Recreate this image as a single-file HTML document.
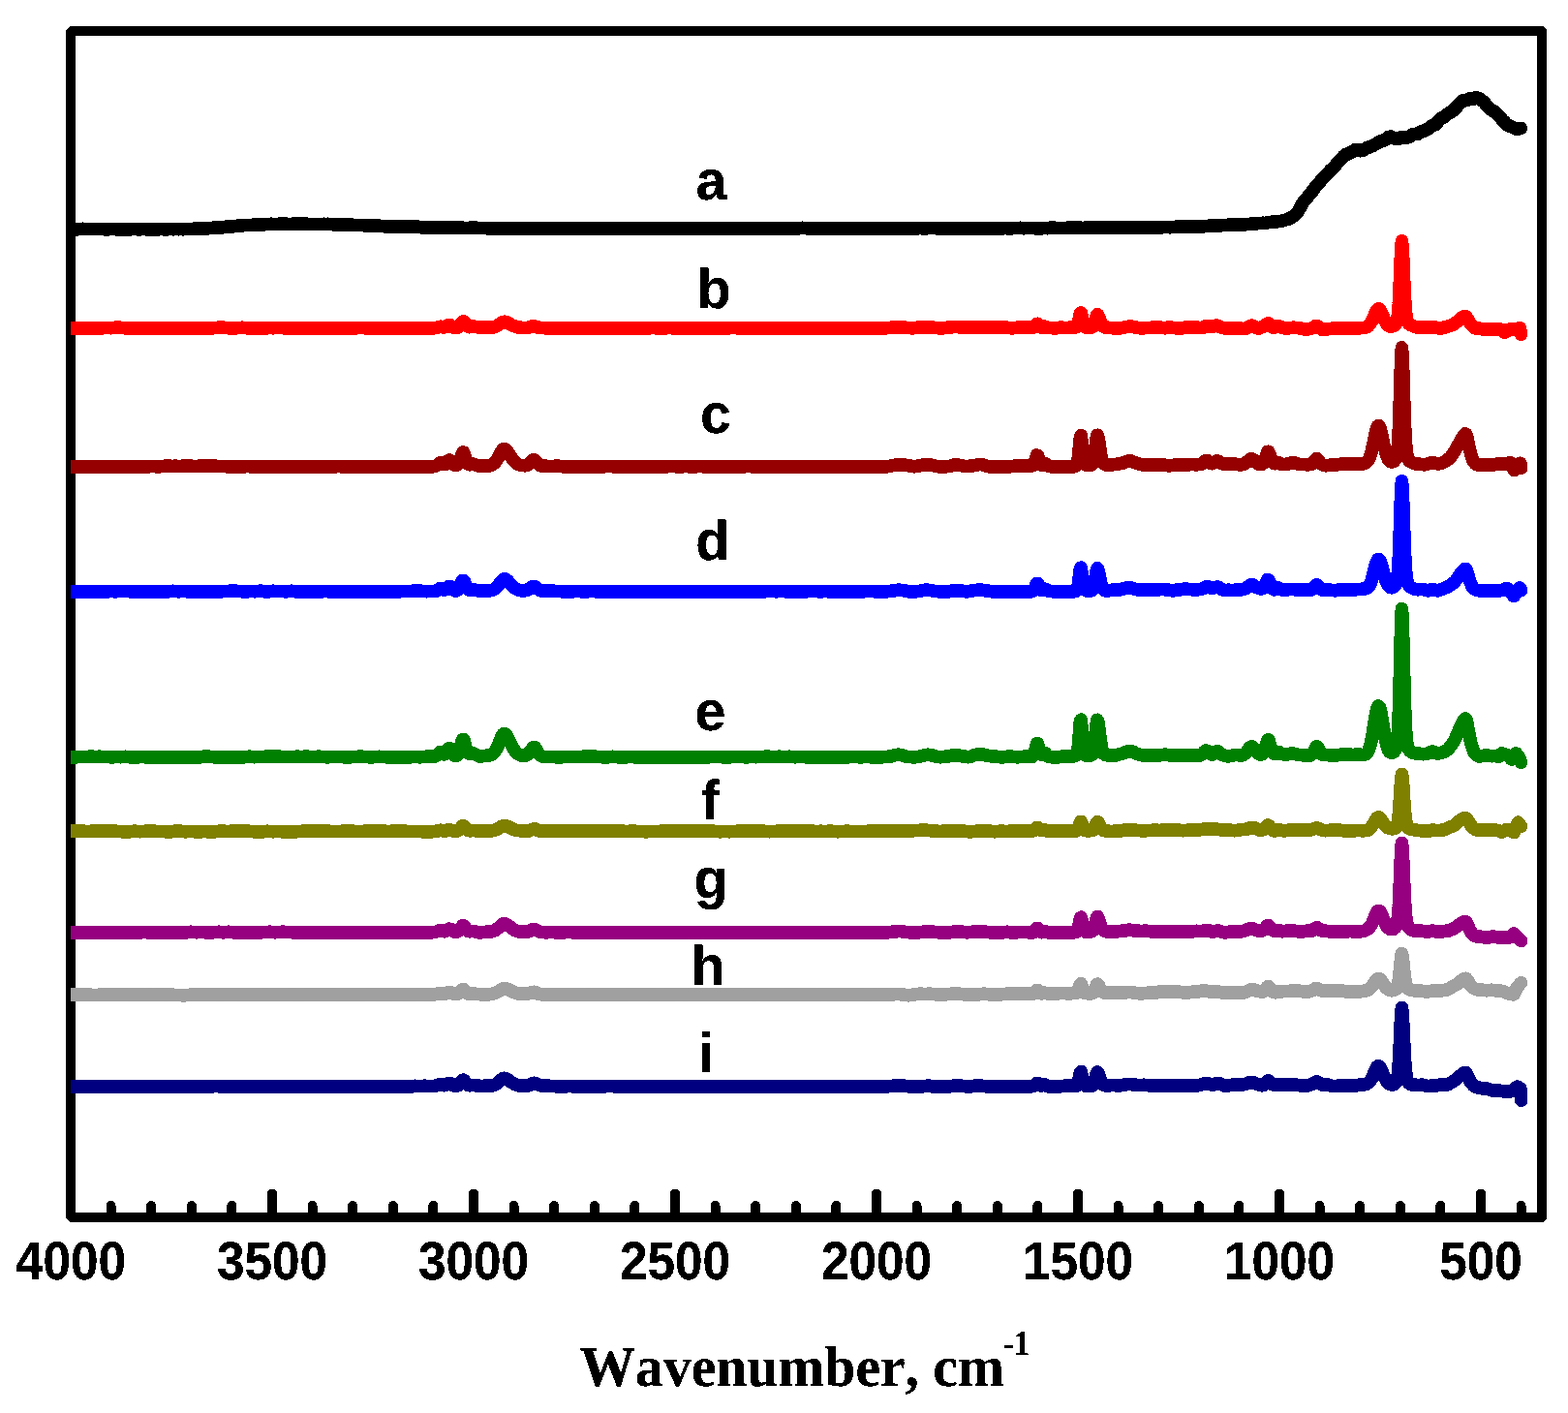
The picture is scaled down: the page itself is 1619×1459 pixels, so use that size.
<!DOCTYPE html>
<html lang="en"><head><meta charset="utf-8"><title>FTIR spectra</title>
<style>html,body{margin:0;padding:0;background:#fff}body{width:1619px;height:1459px;overflow:hidden}svg{display:block}</style>
</head><body>
<svg width="1619" height="1459" viewBox="0 0 1619 1459">
<rect width="1619" height="1459" fill="#fff"/>
<path d="M72 27L1593 27L1597 31L1597 1258L1593 1262L72 1262L68 1258L68 31Z M78 37L78 1252L1587 1252L1587 37Z" fill="#000" fill-rule="evenodd" shape-rendering="crispEdges"/>
<path d="M1570.6 1257V1245.0 M1529.0 1257V1232.5 M1487.4 1257V1245.0 M1445.8 1257V1245.0 M1404.2 1257V1245.0 M1362.6 1257V1245.0 M1321.0 1257V1232.5 M1279.4 1257V1245.0 M1237.8 1257V1245.0 M1196.2 1257V1245.0 M1154.6 1257V1245.0 M1113.0 1257V1232.5 M1071.4 1257V1245.0 M1029.8 1257V1245.0 M988.2 1257V1245.0 M946.6 1257V1245.0 M905.0 1257V1232.5 M863.4 1257V1245.0 M821.8 1257V1245.0 M780.2 1257V1245.0 M738.6 1257V1245.0 M697.0 1257V1232.5 M655.4 1257V1245.0 M613.8 1257V1245.0 M572.2 1257V1245.0 M530.6 1257V1245.0 M489.0 1257V1232.5 M447.4 1257V1245.0 M405.8 1257V1245.0 M364.2 1257V1245.0 M322.6 1257V1245.0 M281.0 1257V1232.5 M239.4 1257V1245.0 M197.8 1257V1245.0 M156.2 1257V1245.0 M114.6 1257V1245.0" stroke="#000" stroke-width="10" stroke-linecap="round" fill="none" shape-rendering="crispEdges"/>
<defs><clipPath id="cp"><rect x="73" y="32" width="1519" height="1225"/></clipPath><filter id="hard" x="-5%" y="-20%" width="110%" height="140%" color-interpolation-filters="sRGB"><feComponentTransfer><feFuncA type="discrete" tableValues="0 1 1"/></feComponentTransfer></filter><filter id="hardc" filterUnits="userSpaceOnUse" x="0" y="0" width="1619" height="1459" color-interpolation-filters="sRGB"><feComponentTransfer><feFuncA type="discrete" tableValues="0 1"/></feComponentTransfer></filter></defs>
<g clip-path="url(#cp)" fill="none" stroke-width="13.6" stroke-linejoin="round" stroke-linecap="round">
<polyline stroke="#000" filter="url(#hardc)" points="60.0,236.5 60.3,236.4 60.2,236.4 60.0,236.3 59.6,236.3 59.3,236.3 59.2,236.5 59.3,236.4 59.8,236.4 60.9,236.4 62.6,236.4 65.1,236.4 68.6,236.4 73.0,236.4 73.6,236.5 74.2,236.5 74.8,236.5 75.4,236.5 76.0,236.6 76.7,236.6 77.4,236.5 78.1,236.6 78.8,236.7 79.6,236.6 80.3,236.7 81.1,236.6 81.9,236.5 82.7,236.5 83.5,236.5 84.4,236.4 85.2,236.4 86.1,236.4 87.0,236.5 87.9,236.5 88.8,236.5 89.7,236.6 90.7,236.5 91.6,236.6 92.6,236.6 93.6,236.5 94.6,236.4 95.6,236.5 96.6,236.5 97.6,236.5 98.7,236.5 99.7,236.6 100.8,236.5 101.9,236.4 102.9,236.5 104.0,236.5 105.1,236.5 106.2,236.6 107.3,236.7 108.5,236.7 109.6,236.7 110.7,236.6 111.9,236.6 113.0,236.6 114.2,236.5 115.3,236.5 116.5,236.5 117.6,236.5 118.8,236.6 120.0,236.7 121.2,236.6 122.4,236.7 123.6,236.6 124.7,236.5 125.9,236.6 127.1,236.6 128.3,236.6 129.5,236.7 130.7,236.8 131.9,236.8 133.1,236.8 134.3,236.7 135.5,236.7 136.7,236.5 137.9,236.5 139.1,236.4 140.3,236.5 141.5,236.6 142.7,236.6 143.9,236.6 145.1,236.6 146.2,236.6 147.4,236.5 148.6,236.5 149.8,236.6 150.9,236.6 152.1,236.6 153.2,236.6 154.4,236.6 155.5,236.6 156.6,236.7 157.8,236.6 158.9,236.7 160.0,236.7 161.1,236.7 162.2,236.7 163.3,236.6 164.3,236.6 165.4,236.6 166.5,236.5 167.5,236.5 168.5,236.7 169.6,236.8 170.6,236.8 171.6,236.9 172.6,236.8 173.6,236.6 174.5,236.5 175.5,236.5 176.4,236.4 177.3,236.6 178.2,236.7 179.1,236.6 180.0,236.7 180.9,236.5 181.7,236.5 182.6,236.5 183.4,236.6 184.2,236.5 185.0,236.6 185.8,236.6 186.5,236.5 187.2,236.5 188.0,236.6 188.7,236.6 189.3,236.6 190.0,236.6 192.1,236.5 194.1,236.4 195.9,236.5 197.7,236.5 199.3,236.4 200.8,236.4 202.3,236.4 203.6,236.2 204.8,236.2 206.0,236.2 207.1,236.2 208.1,236.1 209.1,236.1 210.0,236.0 210.8,236.0 211.6,235.9 212.3,235.9 213.0,236.0 213.7,235.9 214.4,235.8 215.0,235.7 215.6,235.6 216.2,235.5 216.9,235.5 217.5,235.5 218.1,235.5 218.7,235.4 219.4,235.3 220.1,235.2 220.8,235.2 221.5,235.1 222.3,235.2 223.2,235.2 224.0,235.2 225.0,235.2 226.0,235.2 227.0,235.2 228.0,235.0 229.1,234.9 230.1,234.7 231.1,234.6 232.1,234.4 233.1,234.4 234.1,234.3 235.2,234.2 236.2,234.1 237.2,234.1 238.2,233.9 239.2,233.8 240.2,233.7 241.2,233.7 242.2,233.6 243.3,233.5 244.3,233.3 245.3,233.2 246.3,233.2 247.3,233.0 248.3,233.0 249.3,233.0 250.2,232.8 251.2,232.6 252.2,232.5 253.2,232.5 254.2,232.4 255.1,232.5 256.1,232.5 257.1,232.5 258.0,232.5 259.0,232.6 260.0,232.3 261.1,232.3 262.1,232.3 263.1,232.1 264.1,231.9 265.1,231.9 266.0,231.8 267.0,231.6 268.0,231.7 268.9,231.7 269.9,231.8 270.8,231.9 271.8,231.8 272.7,231.8 273.6,231.7 274.6,231.6 275.6,231.5 276.5,231.5 277.5,231.5 278.5,231.4 279.4,231.3 280.4,231.4 281.4,231.4 282.5,231.5 283.5,231.4 284.5,231.5 285.6,231.5 286.7,231.4 287.8,231.4 288.9,231.4 290.0,231.4 290.9,231.4 291.8,231.4 292.7,231.3 293.7,231.3 294.7,231.3 295.6,231.3 296.6,231.3 297.6,231.4 298.6,231.5 299.6,231.5 300.7,231.4 301.7,231.4 302.8,231.3 303.8,231.2 304.9,231.2 305.9,231.1 307.0,231.2 308.1,231.2 309.1,231.3 310.2,231.2 311.3,231.3 312.3,231.4 313.4,231.4 314.4,231.4 315.5,231.4 316.5,231.3 317.6,231.3 318.6,231.4 319.6,231.5 320.6,231.6 321.6,231.6 322.6,231.5 323.6,231.5 324.6,231.5 325.5,231.4 326.4,231.4 327.4,231.5 328.3,231.6 329.1,231.6 330.0,231.5 331.2,231.4 332.3,231.5 333.4,231.4 334.5,231.4 335.5,231.4 336.5,231.5 337.5,231.4 338.5,231.4 339.4,231.4 340.3,231.5 341.2,231.5 342.1,231.6 343.0,231.7 343.9,231.8 344.8,231.8 345.7,231.8 346.5,232.0 347.5,231.9 348.4,232.0 349.3,232.0 350.3,232.1 351.3,232.0 352.3,232.1 353.4,231.9 354.5,232.0 355.6,232.0 356.8,232.0 358.0,232.0 358.8,232.2 359.7,232.2 360.5,232.2 361.4,232.2 362.3,232.3 363.2,232.3 364.1,232.3 365.0,232.4 365.9,232.6 366.9,232.5 367.8,232.6 368.7,232.6 369.7,232.5 370.7,232.5 371.6,232.5 372.6,232.4 373.6,232.5 374.6,232.6 375.6,232.8 376.6,232.9 377.6,232.9 378.6,233.0 379.7,233.0 380.7,232.9 381.7,232.9 382.8,233.1 383.8,233.1 384.9,233.3 385.9,233.2 387.0,233.1 388.1,233.1 389.1,233.1 390.2,233.0 391.3,233.0 392.4,233.3 393.5,233.4 394.5,233.5 395.6,233.5 396.7,233.7 397.8,233.6 398.9,233.7 400.0,233.6 400.9,233.6 401.9,233.7 402.8,233.7 403.7,233.6 404.7,233.7 405.6,233.7 406.6,233.6 407.5,233.8 408.5,233.8 409.5,233.9 410.5,234.0 411.4,234.0 412.4,234.0 413.4,234.1 414.4,234.0 415.4,233.9 416.4,234.1 417.4,234.2 418.4,234.2 419.4,234.2 420.4,234.3 421.4,234.3 422.5,234.3 423.5,234.3 424.5,234.4 425.5,234.3 426.5,234.3 427.6,234.4 428.6,234.3 429.6,234.2 430.6,234.3 431.7,234.4 432.7,234.4 433.7,234.6 434.7,234.7 435.8,234.7 436.8,234.7 437.8,234.8 438.8,234.8 439.9,234.8 440.9,234.7 441.9,234.7 442.9,234.6 443.9,234.6 445.0,234.7 446.0,234.7 447.0,234.7 448.0,234.9 449.0,234.9 450.0,234.9 451.0,235.0 452.0,235.0 452.9,235.0 453.9,235.1 454.8,235.1 455.7,235.1 456.6,235.2 457.5,235.2 458.3,235.2 459.2,235.2 460.1,235.2 460.9,235.2 461.7,235.1 462.6,235.1 463.4,235.1 464.3,235.2 465.1,235.2 465.9,235.2 466.8,235.2 467.6,235.2 468.4,235.2 469.3,235.2 470.1,235.2 471.0,235.2 471.9,235.0 472.8,235.1 473.6,235.1 474.6,235.2 475.5,235.2 476.4,235.3 477.3,235.3 478.3,235.3 479.3,235.3 480.3,235.5 481.3,235.6 482.4,235.5 483.4,235.4 484.5,235.4 485.7,235.3 486.8,235.2 488.0,235.2 489.2,235.2 490.4,235.2 491.7,235.3 493.0,235.4 494.3,235.6 495.7,235.5 497.1,235.5 498.5,235.5 500.0,235.5 500.7,235.4 501.5,235.5 502.2,235.7 502.9,235.7 503.6,235.7 504.3,235.8 505.0,235.7 505.7,235.7 506.4,235.7 507.1,235.7 507.7,235.7 508.4,235.6 509.1,235.6 509.7,235.7 510.4,235.7 511.0,235.7 511.7,235.8 512.3,235.7 513.0,235.5 513.6,235.6 514.2,235.5 514.9,235.6 515.5,235.5 516.2,235.6 516.8,235.7 517.4,235.7 518.1,235.7 518.7,235.8 519.4,235.9 520.0,235.7 520.7,235.7 521.3,235.6 522.0,235.7 522.7,235.7 523.3,235.7 524.0,235.7 524.7,235.7 525.4,235.6 526.1,235.6 526.8,235.7 527.5,235.7 528.2,235.7 529.0,235.7 529.7,235.8 530.5,235.8 531.2,235.8 532.0,235.8 532.8,235.8 533.6,235.8 534.4,235.8 535.2,235.8 536.0,235.9 536.9,235.9 537.7,235.9 538.6,235.8 539.5,235.7 540.4,235.7 541.3,235.8 542.2,235.7 543.2,235.8 544.2,235.8 545.2,235.8 546.2,235.8 547.2,235.8 548.2,235.8 549.3,235.8 550.4,235.8 551.5,235.7 552.6,235.7 553.7,235.6 554.9,235.7 556.1,235.6 557.3,235.7 558.5,235.7 559.8,235.8 561.0,235.8 562.3,235.8 563.7,235.7 565.0,235.7 566.4,235.7 567.8,235.7 569.2,235.8 570.7,235.8 572.2,235.9 573.7,235.8 575.2,235.8 576.8,235.8 578.4,235.8 580.0,235.7 581.7,235.8 583.4,235.8 585.1,235.8 586.8,235.7 588.6,235.7 590.4,235.7 592.3,235.7 594.2,235.7 596.1,235.7 598.0,235.8 600.0,236.0 600.7,236.0 601.3,236.0 602.0,236.1 602.7,236.1 603.4,236.0 604.1,235.9 604.8,235.8 605.5,235.9 606.2,235.8 606.9,235.9 607.7,235.9 608.4,235.8 609.1,235.7 609.9,235.8 610.6,235.8 611.4,235.9 612.1,235.9 612.9,235.8 613.6,235.8 614.4,235.9 615.2,235.8 616.0,235.9 616.7,235.9 617.5,236.0 618.3,235.9 619.1,235.9 619.9,235.9 620.7,235.9 621.5,235.9 622.4,235.9 623.2,235.8 624.0,235.8 624.8,235.8 625.7,235.6 626.5,235.6 627.3,235.8 628.2,235.7 629.0,235.7 629.9,235.9 630.8,235.9 631.6,235.9 632.5,235.9 633.4,236.0 634.2,235.9 635.1,235.9 636.0,235.9 636.9,235.9 637.8,235.8 638.7,235.8 639.6,235.8 640.5,235.8 641.4,235.9 642.3,236.0 643.2,236.1 644.1,236.1 645.1,236.0 646.0,236.0 646.9,235.9 647.9,235.9 648.8,235.8 649.7,235.9 650.7,235.9 651.6,235.9 652.6,235.8 653.5,235.9 654.5,235.9 655.5,235.9 656.4,235.9 657.4,235.9 658.4,235.9 659.3,235.8 660.3,235.8 661.3,235.7 662.3,235.8 663.3,235.8 664.3,235.8 665.3,235.9 666.3,235.9 667.3,235.9 668.3,236.0 669.3,236.0 670.3,236.0 671.3,236.0 672.3,236.0 673.3,236.0 674.3,236.0 675.4,236.0 676.4,236.0 677.4,236.0 678.5,235.8 679.5,235.9 680.5,235.9 681.6,235.9 682.6,235.7 683.6,235.9 684.7,235.7 685.7,235.7 686.8,235.7 687.8,235.8 688.9,235.7 689.9,235.8 691.0,235.8 692.1,235.9 693.1,235.9 694.2,236.0 695.3,235.9 696.3,236.0 697.4,235.8 698.5,235.8 699.5,235.7 700.6,235.7 701.7,235.6 702.8,235.7 703.9,235.7 705.0,235.7 706.0,235.7 707.1,235.7 708.2,235.7 709.3,235.7 710.4,235.7 711.5,235.9 712.6,236.0 713.7,236.0 714.8,235.9 715.9,235.8 717.0,235.8 718.1,235.8 719.2,235.8 720.3,235.8 721.4,235.9 722.5,235.9 723.6,235.9 724.7,235.9 725.8,235.9 727.0,235.9 728.1,236.0 729.2,236.0 730.3,236.0 731.4,235.9 732.5,235.9 733.7,235.9 734.8,235.9 735.9,235.8 737.0,235.8 738.1,235.8 739.3,235.7 740.4,235.8 741.5,235.7 742.6,235.7 743.8,235.6 744.9,235.8 746.0,235.7 747.1,235.9 748.3,235.9 749.4,235.9 750.5,236.0 751.6,236.0 752.8,235.9 753.9,235.9 755.0,235.9 756.2,235.9 757.3,235.9 758.4,235.9 759.5,236.0 760.7,236.0 761.8,235.8 762.9,235.8 764.1,235.8 765.2,235.8 766.3,235.8 767.4,235.8 768.6,235.7 769.7,235.9 770.8,235.9 772.0,235.8 773.1,235.8 774.2,235.9 775.3,235.7 776.5,235.7 777.6,235.7 778.7,235.6 779.9,235.7 781.0,235.7 782.1,235.7 783.2,235.8 784.4,235.9 785.5,235.7 786.6,235.8 787.7,235.9 788.8,235.8 790.0,235.9 791.1,236.0 792.2,236.0 793.3,236.0 794.4,235.9 795.5,235.9 796.7,235.7 797.8,235.8 798.9,235.7 800.0,235.8 801.1,235.8 802.2,236.0 803.3,235.8 804.4,235.8 805.5,235.8 806.6,235.8 807.7,235.8 808.9,235.8 810.0,235.9 811.0,235.9 812.1,235.9 813.2,236.0 814.3,236.0 815.4,236.0 816.5,236.1 817.6,236.0 818.7,235.9 819.8,235.9 820.9,236.0 822.0,235.9 823.0,235.9 824.1,235.8 825.2,235.8 826.3,235.6 827.3,235.4 828.4,235.4 829.5,235.4 830.6,235.5 831.6,235.6 832.7,235.7 833.7,235.8 834.8,235.8 835.9,235.8 836.9,235.9 838.0,236.0 839.0,235.8 840.1,235.8 841.1,235.9 842.2,235.8 843.2,235.7 844.2,235.7 845.3,235.8 846.3,235.8 847.3,235.7 848.4,235.6 849.4,235.7 850.4,235.7 851.4,235.7 852.5,235.8 853.5,236.0 854.5,236.0 855.5,236.0 856.5,236.0 857.5,236.0 858.5,236.0 859.5,236.0 860.5,235.8 861.5,235.8 862.5,235.7 863.5,235.6 864.4,235.6 865.4,235.6 866.4,235.7 867.4,235.7 868.3,235.7 869.3,235.6 870.3,235.8 871.2,235.9 872.2,235.9 873.1,236.0 874.1,236.1 875.0,236.0 876.0,235.9 876.9,235.9 877.9,235.9 878.8,235.8 879.7,235.9 880.7,236.0 881.6,236.0 882.5,236.1 883.4,236.1 884.3,236.2 885.2,236.1 886.1,236.1 887.0,236.0 887.9,236.0 888.8,235.9 889.7,235.9 890.6,235.8 891.5,235.8 892.3,235.7 893.2,235.7 894.1,235.8 894.9,235.7 895.8,235.8 896.6,235.8 897.5,235.7 898.3,235.6 899.2,235.7 900.0,235.7 901.2,235.7 902.5,235.8 903.7,235.8 905.0,235.8 906.2,235.8 907.4,235.7 908.7,235.7 909.9,235.7 911.1,235.6 912.4,235.6 913.6,235.8 914.8,235.8 916.0,235.8 917.2,235.9 918.4,235.9 919.6,235.9 920.8,235.8 922.0,235.8 923.2,235.7 924.4,235.7 925.6,235.7 926.8,235.6 928.0,235.7 929.2,235.7 930.3,235.6 931.5,235.7 932.7,235.8 933.9,235.8 935.0,235.8 936.2,235.9 937.4,235.8 938.5,235.7 939.7,235.6 940.8,235.6 942.0,235.6 943.1,235.7 944.3,235.8 945.4,235.7 946.6,235.7 947.7,235.7 948.8,235.5 950.0,235.5 951.1,235.6 952.2,235.6 953.3,235.6 954.5,235.7 955.6,235.7 956.7,235.8 957.8,235.7 958.9,235.6 960.0,235.5 961.1,235.5 962.2,235.5 963.3,235.4 964.4,235.5 965.5,235.6 966.6,235.6 967.7,235.6 968.8,235.8 969.9,235.7 971.0,235.6 972.1,235.7 973.1,235.7 974.2,235.6 975.3,235.6 976.4,235.7 977.4,235.7 978.5,235.6 979.6,235.7 980.6,235.8 981.7,235.7 982.7,235.6 983.8,235.7 984.8,235.8 985.9,235.7 986.9,235.7 988.0,235.8 989.0,235.7 990.1,235.7 991.1,235.6 992.1,235.7 993.2,235.7 994.2,235.7 995.2,235.7 996.2,235.9 997.3,235.9 998.3,236.0 999.3,235.9 1000.3,235.9 1001.3,235.8 1002.3,235.7 1003.3,235.6 1004.3,235.7 1005.3,235.7 1006.3,235.6 1007.3,235.7 1008.3,235.7 1009.3,235.7 1010.3,235.7 1011.3,235.8 1012.3,235.8 1013.3,235.7 1014.3,235.7 1015.2,235.6 1016.2,235.6 1017.2,235.6 1018.2,235.6 1019.1,235.7 1020.1,235.7 1021.1,235.8 1022.0,235.7 1023.0,235.7 1024.0,235.7 1024.9,235.7 1025.9,235.7 1026.8,235.7 1027.8,235.8 1028.7,235.8 1029.7,235.8 1030.6,235.7 1031.6,235.7 1032.5,235.7 1033.5,235.7 1034.4,235.6 1035.3,235.6 1036.3,235.6 1037.2,235.6 1038.1,235.5 1039.0,235.6 1040.0,235.6 1040.9,235.6 1041.8,235.6 1042.7,235.7 1043.6,235.7 1044.6,235.6 1045.5,235.6 1046.4,235.6 1047.3,235.5 1048.2,235.5 1049.1,235.5 1050.0,235.5 1050.9,235.5 1051.8,235.5 1052.7,235.4 1053.6,235.4 1054.5,235.4 1055.4,235.6 1056.3,235.6 1057.2,235.6 1058.0,235.6 1058.9,235.5 1059.8,235.5 1060.7,235.4 1061.6,235.5 1062.4,235.5 1063.3,235.5 1064.2,235.5 1065.0,235.5 1065.9,235.6 1066.8,235.5 1067.6,235.6 1068.5,235.6 1069.4,235.6 1070.2,235.6 1071.1,235.7 1071.9,235.6 1072.8,235.6 1073.6,235.7 1074.5,235.6 1075.3,235.5 1076.2,235.7 1077.0,235.5 1077.9,235.4 1078.7,235.5 1079.6,235.4 1080.4,235.5 1081.2,235.7 1082.1,235.6 1082.9,235.4 1083.7,235.4 1084.6,235.4 1085.4,235.3 1086.2,235.3 1087.0,235.4 1087.9,235.4 1088.7,235.4 1089.5,235.3 1090.3,235.4 1091.1,235.5 1091.9,235.5 1092.8,235.3 1093.6,235.5 1094.4,235.5 1095.2,235.4 1096.0,235.4 1096.8,235.5 1097.6,235.4 1098.4,235.4 1099.2,235.5 1100.0,235.5 1101.3,235.4 1102.7,235.4 1104.0,235.4 1105.3,235.3 1106.6,235.3 1107.9,235.4 1109.3,235.4 1110.6,235.4 1111.8,235.4 1113.1,235.3 1114.4,235.3 1115.7,235.4 1117.0,235.4 1118.2,235.5 1119.5,235.4 1120.8,235.3 1122.0,235.3 1123.3,235.3 1124.5,235.3 1125.7,235.4 1127.0,235.4 1128.2,235.4 1129.4,235.4 1130.6,235.3 1131.8,235.3 1133.0,235.3 1134.2,235.3 1135.4,235.2 1136.6,235.3 1137.8,235.2 1139.0,235.2 1140.1,235.2 1141.3,235.1 1142.5,235.1 1143.6,235.1 1144.8,235.1 1145.9,235.0 1147.0,235.1 1148.2,235.0 1149.3,234.9 1150.4,235.1 1151.5,235.1 1152.6,235.0 1153.7,235.1 1154.8,235.1 1155.9,235.0 1157.0,235.1 1158.1,235.1 1159.2,235.0 1160.2,235.1 1161.3,235.1 1162.3,235.2 1163.4,235.2 1164.4,235.2 1165.5,235.1 1166.5,235.0 1167.5,234.9 1168.5,234.9 1169.6,234.9 1170.6,234.9 1171.6,234.9 1172.6,235.0 1173.6,235.0 1174.5,234.9 1175.5,235.0 1176.5,235.1 1177.4,235.0 1178.4,235.0 1179.4,235.0 1180.3,235.0 1181.2,235.0 1182.2,235.0 1183.1,234.9 1184.0,234.8 1185.0,234.7 1185.9,234.6 1186.8,234.5 1187.7,234.7 1188.6,234.7 1189.4,234.8 1190.3,234.9 1191.2,234.9 1192.1,234.9 1192.9,234.8 1193.8,234.7 1194.6,234.7 1195.5,234.7 1196.3,234.6 1197.1,234.6 1198.0,234.7 1198.8,234.7 1199.6,234.7 1200.4,234.7 1201.2,234.6 1202.0,234.5 1202.8,234.5 1203.5,234.5 1204.3,234.4 1205.1,234.5 1205.8,234.5 1206.6,234.6 1207.3,234.5 1208.1,234.6 1208.8,234.5 1209.5,234.6 1210.2,234.5 1211.0,234.5 1211.7,234.5 1212.4,234.5 1213.1,234.4 1213.7,234.4 1214.4,234.4 1215.1,234.3 1215.8,234.3 1216.4,234.3 1217.1,234.1 1217.7,234.3 1218.4,234.3 1219.0,234.4 1221.3,234.3 1223.5,234.4 1225.5,234.4 1227.4,234.4 1229.1,234.4 1230.7,234.4 1232.2,234.3 1233.6,234.3 1234.8,234.1 1236.0,234.0 1237.0,233.9 1238.0,233.9 1238.9,233.8 1239.7,233.8 1240.5,233.8 1241.2,233.8 1241.8,233.7 1242.4,233.7 1243.0,233.7 1243.5,233.6 1244.1,233.6 1244.6,233.6 1245.1,233.5 1245.6,233.5 1246.1,233.5 1246.7,233.2 1247.3,233.2 1247.9,233.1 1248.5,233.1 1249.2,233.1 1250.0,233.1 1251.3,233.0 1252.5,232.9 1253.7,232.9 1254.8,232.8 1255.8,232.8 1256.8,232.9 1257.8,232.9 1258.7,232.8 1259.6,232.7 1260.4,232.7 1261.3,232.6 1262.2,232.6 1263.1,232.5 1264.0,232.5 1264.9,232.6 1265.9,232.5 1266.9,232.4 1268.0,232.4 1268.9,232.4 1269.9,232.2 1270.8,232.2 1271.8,232.2 1272.8,232.1 1273.8,232.1 1274.8,232.1 1275.8,232.2 1276.9,232.1 1277.9,232.1 1278.9,232.0 1280.0,231.9 1281.0,231.8 1282.0,231.7 1283.1,231.7 1284.1,231.8 1285.1,231.9 1286.1,231.7 1287.1,231.7 1288.1,231.5 1289.1,231.4 1290.0,231.3 1291.1,231.3 1292.2,231.2 1293.3,231.3 1294.4,231.2 1295.5,231.2 1296.6,231.0 1297.7,230.9 1298.8,230.7 1299.8,230.6 1300.9,230.5 1301.9,230.5 1302.9,230.4 1303.9,230.4 1304.9,230.4 1305.8,230.4 1306.7,230.3 1307.5,230.2 1308.3,230.0 1309.1,229.8 1310.7,229.6 1312.0,229.4 1313.1,229.2 1314.1,229.2 1315.0,229.1 1315.9,229.0 1316.9,228.8 1318.0,228.7 1319.0,228.6 1320.0,228.6 1321.0,228.4 1322.1,228.3 1323.1,228.1 1324.2,227.8 1325.2,227.6 1326.3,227.3 1327.3,227.1 1328.3,226.8 1329.4,226.5 1330.5,226.0 1331.6,225.6 1332.6,225.1 1333.7,224.5 1334.7,223.8 1335.8,223.1 1336.8,222.2 1337.9,221.2 1339.0,220.1 1340.0,218.7 1341.1,216.9 1342.1,214.9 1343.2,213.2 1344.2,211.0 1345.3,209.1 1346.3,208.2 1347.4,206.9 1348.5,205.4 1349.5,204.2 1350.6,203.1 1351.7,201.6 1352.7,200.5 1353.8,199.4 1354.9,197.7 1355.9,196.0 1357.0,194.7 1358.1,193.2 1359.1,191.8 1360.2,190.9 1361.3,190.1 1362.3,188.6 1363.4,187.0 1364.5,185.7 1365.5,184.4 1366.6,183.1 1367.7,182.4 1368.7,181.7 1369.8,180.4 1370.9,179.3 1371.9,177.8 1373.0,176.6 1374.1,175.6 1375.1,174.6 1376.2,173.3 1377.3,173.0 1378.3,171.6 1379.4,170.1 1380.4,168.9 1381.5,167.5 1382.5,166.1 1383.6,165.0 1384.6,164.0 1385.7,163.1 1386.8,161.8 1387.8,160.9 1388.9,160.0 1390.0,159.3 1391.0,159.0 1392.1,159.0 1393.2,158.1 1394.2,157.6 1395.3,157.4 1396.4,156.2 1397.4,155.8 1398.5,154.9 1399.6,154.7 1400.6,154.3 1401.7,154.4 1402.8,154.9 1403.8,155.5 1404.9,155.7 1406.0,155.3 1407.0,155.6 1408.1,154.5 1409.2,154.0 1410.2,153.2 1411.3,152.6 1412.4,152.2 1413.4,152.3 1414.5,151.6 1415.6,151.3 1416.7,151.0 1417.7,150.1 1418.8,149.5 1419.9,149.1 1421.0,148.5 1422.0,148.0 1423.0,147.4 1424.0,146.6 1425.2,146.3 1426.3,145.5 1427.4,145.3 1428.5,145.3 1429.6,144.6 1430.6,143.9 1431.7,143.0 1432.8,142.1 1433.7,141.4 1434.7,141.6 1435.7,141.2 1436.8,142.0 1438.0,142.4 1439.4,142.4 1440.3,142.6 1441.2,143.3 1442.2,143.5 1443.2,142.9 1444.3,143.4 1445.4,142.8 1446.5,142.1 1447.7,141.4 1448.8,141.9 1449.9,141.4 1450.9,141.8 1451.9,142.2 1452.8,142.2 1454.0,141.4 1455.2,141.3 1456.3,140.8 1457.3,139.7 1458.3,138.9 1459.3,138.7 1460.3,138.4 1461.3,138.3 1462.3,138.3 1463.4,138.7 1464.4,137.8 1465.5,137.1 1466.6,136.3 1467.6,136.2 1468.7,135.2 1469.8,135.4 1470.8,134.8 1471.9,134.4 1473.0,133.6 1474.0,133.2 1475.1,132.8 1476.2,132.0 1477.2,130.7 1478.3,130.2 1479.4,129.9 1480.4,128.9 1481.5,128.7 1482.6,128.7 1483.6,127.4 1484.7,125.7 1485.7,124.6 1486.8,123.4 1487.8,122.6 1488.9,121.6 1489.9,121.1 1491.0,120.9 1492.1,119.9 1493.1,118.7 1494.2,117.9 1495.3,117.6 1496.3,116.4 1497.4,115.8 1498.5,115.4 1499.5,115.0 1500.6,114.0 1501.7,112.9 1502.7,112.0 1503.7,110.7 1504.7,109.7 1505.7,108.1 1506.8,107.0 1507.9,105.9 1509.0,104.8 1510.2,103.8 1511.1,104.1 1512.1,103.9 1513.2,103.6 1514.3,103.4 1515.4,103.3 1516.5,102.1 1517.6,101.7 1518.6,101.8 1519.7,101.9 1520.7,101.6 1521.7,102.0 1522.6,101.4 1523.9,100.9 1525.1,100.8 1526.2,101.2 1527.2,101.8 1528.3,102.4 1529.3,103.3 1530.3,104.1 1531.3,104.6 1532.4,105.3 1533.5,107.0 1534.5,108.2 1535.6,109.2 1536.6,110.7 1537.7,112.1 1538.9,113.0 1539.9,113.5 1540.9,114.2 1542.0,114.7 1543.0,115.3 1544.1,115.9 1545.2,116.9 1546.3,118.0 1547.4,119.4 1548.5,120.5 1549.6,121.9 1550.7,123.3 1551.8,124.5 1552.9,125.4 1554.0,126.6 1555.0,127.8 1556.1,128.5 1557.1,129.6 1558.1,130.1 1559.3,130.7 1560.5,130.8 1561.6,131.2 1562.8,131.9 1563.8,132.3 1564.8,132.6 1565.7,133.3 1567.2,133.2 1568.5,132.8 1569.6,132.5 1570.4,132.3"/>
<polyline stroke="#ff0000" filter="url(#hardc)" points="60.0,338.8 73.0,338.8 73.8,338.8 74.6,338.8 75.4,338.8 76.2,338.8 77.0,338.8 77.8,338.8 78.6,338.8 79.4,338.8 80.2,338.8 81.0,338.8 81.8,338.8 82.6,338.8 83.4,338.8 84.2,338.8 85.0,338.8 85.8,338.8 86.6,338.8 87.4,338.8 88.2,338.8 89.0,338.7 89.8,338.7 90.6,338.7 91.4,338.7 92.2,338.7 93.0,338.8 93.8,338.8 94.6,339.0 95.4,339.0 96.2,339.0 97.0,339.0 97.8,339.1 98.6,339.1 99.4,339.0 100.2,339.0 101.0,338.9 101.8,338.9 102.6,338.8 103.4,338.7 104.2,338.7 105.0,338.7 105.8,338.6 106.6,338.6 107.4,338.6 108.2,338.5 109.0,338.5 109.8,338.5 110.6,338.4 111.4,338.5 112.2,338.5 113.0,338.5 113.8,338.6 114.6,338.6 115.4,338.6 116.2,338.5 117.0,338.5 117.8,338.4 118.6,338.4 119.4,338.4 120.2,338.4 121.0,338.4 121.8,338.4 122.6,338.4 123.4,338.4 124.2,338.4 125.0,338.4 125.8,338.4 126.6,338.5 127.4,338.6 128.2,338.6 129.0,338.7 129.8,338.8 130.6,338.8 131.4,338.8 132.2,338.8 133.0,338.9 133.8,338.8 134.6,338.8 135.4,338.8 136.2,338.8 137.0,338.8 137.8,338.9 138.6,338.9 139.4,338.9 140.2,338.9 141.0,338.9 141.8,338.9 142.6,338.9 143.4,338.9 144.2,338.9 145.0,338.9 145.8,338.9 146.6,338.9 147.4,338.9 148.2,339.0 149.0,339.0 149.8,338.9 150.6,338.9 151.4,338.9 152.2,338.8 153.0,338.8 153.8,338.7 154.6,338.7 155.4,338.7 156.2,338.7 157.0,338.8 157.8,338.8 158.6,338.8 159.4,338.8 160.2,338.8 161.0,338.8 161.8,338.8 162.6,338.9 163.4,338.9 164.2,338.9 165.0,338.9 165.8,338.9 166.6,338.8 167.4,338.8 168.2,338.7 169.0,338.7 169.8,338.6 170.6,338.6 171.4,338.6 172.2,338.6 173.0,338.6 173.8,338.6 174.6,338.6 175.4,338.7 176.2,338.7 177.0,338.8 177.8,338.8 178.6,338.8 179.4,338.8 180.2,338.8 181.0,338.8 181.8,338.8 182.6,338.8 183.4,338.8 184.2,338.8 185.0,338.8 185.8,338.8 186.6,338.7 187.4,338.7 188.2,338.8 189.0,338.8 189.8,338.8 190.6,338.8 191.4,338.9 192.2,338.9 193.0,338.9 193.8,338.9 194.6,338.9 195.4,338.8 196.2,338.9 197.0,338.9 197.8,338.9 198.6,338.9 199.4,339.0 200.2,339.0 201.0,339.0 201.8,338.9 202.6,338.9 203.4,338.8 204.2,338.8 205.0,338.7 205.8,338.6 206.6,338.6 207.4,338.6 208.2,338.6 209.0,338.6 209.8,338.6 210.6,338.6 211.4,338.6 212.2,338.6 213.0,338.6 213.8,338.6 214.6,338.7 215.4,338.7 216.2,338.7 217.0,338.7 217.8,338.7 218.6,338.6 219.4,338.6 220.2,338.6 221.0,338.6 221.8,338.5 222.6,338.5 223.4,338.4 224.2,338.4 225.0,338.3 225.8,338.3 226.6,338.3 227.4,338.3 228.2,338.3 229.0,338.3 229.8,338.4 230.6,338.4 231.4,338.4 232.2,338.4 233.0,338.5 233.8,338.5 234.6,338.6 235.4,338.7 236.2,338.8 237.0,338.9 237.8,338.9 238.6,338.9 239.4,338.9 240.2,338.9 241.0,338.8 241.8,338.8 242.6,338.8 243.4,338.7 244.2,338.7 245.0,338.6 245.8,338.6 246.6,338.5 247.4,338.5 248.2,338.4 249.0,338.4 249.8,338.4 250.6,338.4 251.4,338.4 252.2,338.5 253.0,338.5 253.8,338.6 254.6,338.6 255.4,338.6 256.2,338.6 257.0,338.6 257.8,338.6 258.6,338.6 259.4,338.6 260.2,338.7 261.0,338.8 261.8,338.9 262.6,338.9 263.4,338.9 264.2,338.9 265.0,338.9 265.8,338.9 266.6,338.9 267.4,338.8 268.2,338.8 269.0,338.8 269.8,338.7 270.6,338.7 271.4,338.7 272.2,338.7 273.0,338.8 273.8,338.7 274.6,338.7 275.4,338.7 276.2,338.6 277.0,338.6 277.8,338.5 278.6,338.5 279.4,338.5 280.2,338.6 281.0,338.6 281.8,338.6 282.6,338.6 283.4,338.6 284.2,338.5 285.0,338.5 285.8,338.5 286.6,338.5 287.4,338.4 288.2,338.4 289.0,338.5 289.8,338.5 290.6,338.5 291.4,338.6 292.2,338.6 293.0,338.7 293.8,338.7 294.6,338.7 295.4,338.7 296.2,338.7 297.0,338.7 297.8,338.7 298.6,338.7 299.4,338.7 300.2,338.7 301.0,338.7 301.8,338.7 302.6,338.7 303.4,338.7 304.2,338.7 305.0,338.7 305.8,338.7 306.6,338.7 307.4,338.7 308.2,338.7 309.0,338.6 309.8,338.6 310.6,338.6 311.4,338.6 312.2,338.6 313.0,338.6 313.8,338.6 314.6,338.7 315.4,338.7 316.2,338.7 317.0,338.6 317.8,338.6 318.6,338.6 319.4,338.6 320.2,338.6 321.0,338.6 321.8,338.6 322.6,338.6 323.4,338.6 324.2,338.6 325.0,338.6 325.8,338.7 326.6,338.7 327.4,338.7 328.2,338.8 329.0,338.8 329.8,338.8 330.6,338.8 331.4,338.8 332.2,338.8 333.0,338.7 333.8,338.7 334.6,338.7 335.4,338.7 336.2,338.7 337.0,338.7 337.8,338.7 338.6,338.8 339.4,338.8 340.2,338.8 341.0,338.9 341.8,338.9 342.6,339.0 343.4,339.0 344.2,338.9 345.0,338.9 345.8,338.8 346.6,338.8 347.4,338.8 348.2,338.7 349.0,338.7 349.8,338.7 350.6,338.7 351.4,338.7 352.2,338.7 353.0,338.7 353.8,338.7 354.6,338.7 355.4,338.7 356.2,338.7 357.0,338.7 357.8,338.7 358.6,338.7 359.4,338.7 360.2,338.7 361.0,338.7 361.8,338.7 362.6,338.7 363.4,338.6 364.2,338.6 365.0,338.6 365.8,338.6 366.6,338.6 367.4,338.6 368.2,338.6 369.0,338.6 369.8,338.5 370.6,338.5 371.4,338.5 372.2,338.5 373.0,338.5 373.8,338.5 374.6,338.5 375.4,338.6 376.2,338.6 377.0,338.6 377.8,338.6 378.6,338.7 379.4,338.7 380.2,338.7 381.0,338.7 381.8,338.7 382.6,338.7 383.4,338.7 384.2,338.8 385.0,338.8 385.8,338.8 386.6,338.7 387.4,338.7 388.2,338.7 389.0,338.7 389.8,338.7 390.6,338.7 391.4,338.7 392.2,338.7 393.0,338.7 393.8,338.7 394.6,338.7 395.4,338.7 396.2,338.7 397.0,338.8 397.8,338.7 398.6,338.7 399.4,338.7 400.2,338.7 401.0,338.7 401.8,338.7 402.6,338.7 403.4,338.7 404.2,338.7 405.0,338.8 405.8,338.8 406.6,338.8 407.4,338.8 408.2,338.7 409.0,338.7 409.8,338.7 410.6,338.7 411.4,338.7 412.2,338.7 413.0,338.7 413.8,338.7 414.6,338.7 415.4,338.7 416.2,338.7 417.0,338.7 417.8,338.7 418.6,338.7 419.4,338.7 420.2,338.7 421.0,338.7 421.8,338.7 422.6,338.7 423.4,338.7 424.2,338.7 425.0,338.7 425.8,338.8 426.6,338.8 427.4,338.9 428.2,338.9 429.0,338.8 429.8,338.8 430.6,338.8 431.4,338.7 432.2,338.7 433.0,338.7 433.8,338.7 434.6,338.7 435.4,338.7 436.2,338.8 437.0,338.8 437.8,338.8 438.6,338.8 439.4,338.8 440.2,338.8 441.0,338.8 441.8,338.8 442.6,338.7 443.4,338.7 444.2,338.7 445.0,338.6 445.8,338.6 446.6,338.6 447.4,338.6 448.2,338.6 449.0,338.6 449.8,338.5 450.6,338.4 451.4,338.2 452.2,338.0 453.0,337.7 453.8,337.4 454.6,337.3 455.4,337.3 456.2,337.4 457.0,337.6 457.8,337.8 458.6,337.8 459.4,337.7 460.2,337.4 461.0,336.9 461.8,336.4 462.6,335.8 463.4,335.5 464.2,335.4 465.0,335.7 465.8,336.2 466.6,336.9 467.4,337.5 468.2,338.0 469.0,338.3 469.8,338.5 470.6,338.6 471.4,338.5 472.2,338.4 473.0,338.0 473.8,337.3 474.6,336.4 475.4,335.2 476.2,333.9 477.0,332.8 477.8,332.0 478.6,332.0 479.4,332.6 480.2,333.7 481.0,334.9 481.8,336.0 482.6,336.8 483.4,337.4 484.2,337.6 485.0,337.6 485.8,337.5 486.6,337.3 487.4,337.2 488.2,337.1 489.0,337.1 489.8,337.1 490.6,337.3 491.4,337.4 492.2,337.6 493.0,337.7 493.8,337.8 494.6,337.8 495.4,337.9 496.2,337.9 497.0,338.0 497.8,338.0 498.6,338.1 499.4,338.1 500.2,338.2 501.0,338.2 501.8,338.3 502.6,338.3 503.4,338.3 504.2,338.3 505.0,338.3 505.8,338.3 506.6,338.3 507.4,338.2 508.2,338.1 509.0,337.9 509.8,337.7 510.6,337.4 511.4,337.1 512.2,336.8 513.0,336.4 513.8,335.9 514.6,335.4 515.4,334.9 516.2,334.3 517.0,333.8 517.8,333.3 518.6,332.8 519.4,332.5 520.2,332.3 521.0,332.3 521.8,332.4 522.6,332.6 523.4,332.9 524.2,333.3 525.0,333.7 525.8,334.2 526.6,334.7 527.4,335.1 528.2,335.6 529.0,336.0 529.8,336.3 530.6,336.7 531.4,336.9 532.2,337.2 533.0,337.4 533.8,337.6 534.6,337.8 535.4,338.0 536.2,338.1 537.0,338.2 537.8,338.3 538.6,338.4 539.4,338.4 540.2,338.5 541.0,338.5 541.8,338.5 542.6,338.5 543.4,338.5 544.2,338.5 545.0,338.3 545.8,338.2 546.6,337.9 547.4,337.6 548.2,337.4 549.0,337.1 549.8,337.0 550.6,336.9 551.4,336.9 552.2,337.0 553.0,337.2 553.8,337.5 554.6,337.8 555.4,338.1 556.2,338.3 557.0,338.4 557.8,338.5 558.6,338.5 559.4,338.5 560.2,338.5 561.0,338.5 561.8,338.6 562.6,338.6 563.4,338.7 564.2,338.7 565.0,338.7 565.8,338.7 566.6,338.7 567.4,338.7 568.2,338.7 569.0,338.7 569.8,338.7 570.6,338.7 571.4,338.6 572.2,338.6 573.0,338.7 573.8,338.7 574.6,338.7 575.4,338.8 576.2,338.8 577.0,338.9 577.8,338.9 578.6,338.9 579.4,338.9 580.2,338.9 581.0,338.9 581.8,338.9 582.6,338.9 583.4,338.9 584.2,338.9 585.0,338.9 585.8,338.9 586.6,338.9 587.4,339.0 588.2,339.0 589.0,339.0 589.8,339.0 590.6,339.0 591.4,338.9 592.2,338.9 593.0,338.8 593.8,338.7 594.6,338.7 595.4,338.7 596.2,338.7 597.0,338.7 597.8,338.8 598.6,338.8 599.4,338.8 600.2,338.9 601.0,338.9 601.8,338.9 602.6,338.9 603.4,338.8 604.2,338.8 605.0,338.8 605.8,338.7 606.6,338.7 607.4,338.7 608.2,338.7 609.0,338.7 609.8,338.7 610.6,338.6 611.4,338.6 612.2,338.6 613.0,338.6 613.8,338.6 614.6,338.6 615.4,338.6 616.2,338.6 617.0,338.6 617.8,338.6 618.6,338.6 619.4,338.6 620.2,338.6 621.0,338.6 621.8,338.6 622.6,338.6 623.4,338.6 624.2,338.6 625.0,338.7 625.8,338.7 626.6,338.7 627.4,338.7 628.2,338.7 629.0,338.7 629.8,338.7 630.6,338.7 631.4,338.7 632.2,338.7 633.0,338.7 633.8,338.6 634.6,338.7 635.4,338.7 636.2,338.7 637.0,338.7 637.8,338.7 638.6,338.8 639.4,338.8 640.2,338.8 641.0,338.8 641.8,338.8 642.6,338.8 643.4,338.7 644.2,338.7 645.0,338.7 645.8,338.7 646.6,338.7 647.4,338.7 648.2,338.7 649.0,338.7 649.8,338.8 650.6,338.8 651.4,338.8 652.2,338.7 653.0,338.7 653.8,338.7 654.6,338.7 655.4,338.6 656.2,338.6 657.0,338.6 657.8,338.6 658.6,338.6 659.4,338.6 660.2,338.7 661.0,338.7 661.8,338.8 662.6,338.8 663.4,338.8 664.2,338.8 665.0,338.8 665.8,338.8 666.6,338.7 667.4,338.7 668.2,338.7 669.0,338.7 669.8,338.6 670.6,338.6 671.4,338.6 672.2,338.6 673.0,338.5 673.8,338.5 674.6,338.5 675.4,338.6 676.2,338.6 677.0,338.6 677.8,338.6 678.6,338.6 679.4,338.6 680.2,338.6 681.0,338.6 681.8,338.6 682.6,338.6 683.4,338.6 684.2,338.6 685.0,338.6 685.8,338.6 686.6,338.6 687.4,338.6 688.2,338.6 689.0,338.6 689.8,338.5 690.6,338.5 691.4,338.5 692.2,338.5 693.0,338.6 693.8,338.6 694.6,338.6 695.4,338.6 696.2,338.6 697.0,338.6 697.8,338.6 698.6,338.7 699.4,338.7 700.2,338.7 701.0,338.7 701.8,338.7 702.6,338.7 703.4,338.7 704.2,338.7 705.0,338.7 705.8,338.7 706.6,338.7 707.4,338.7 708.2,338.7 709.0,338.7 709.8,338.7 710.6,338.7 711.4,338.7 712.2,338.8 713.0,338.8 713.8,338.8 714.6,338.8 715.4,338.8 716.2,338.8 717.0,338.8 717.8,338.8 718.6,338.8 719.4,338.8 720.2,338.8 721.0,338.8 721.8,338.8 722.6,338.8 723.4,338.8 724.2,338.8 725.0,338.7 725.8,338.7 726.6,338.7 727.4,338.8 728.2,338.8 729.0,338.8 729.8,338.8 730.6,338.8 731.4,338.8 732.2,338.8 733.0,338.8 733.8,338.8 734.6,338.8 735.4,338.7 736.2,338.7 737.0,338.7 737.8,338.7 738.6,338.7 739.4,338.7 740.2,338.7 741.0,338.7 741.8,338.7 742.6,338.6 743.4,338.6 744.2,338.6 745.0,338.6 745.8,338.6 746.6,338.6 747.4,338.6 748.2,338.6 749.0,338.7 749.8,338.7 750.6,338.7 751.4,338.7 752.2,338.6 753.0,338.6 753.8,338.6 754.6,338.6 755.4,338.5 756.2,338.5 757.0,338.5 757.8,338.5 758.6,338.5 759.4,338.6 760.2,338.6 761.0,338.6 761.8,338.7 762.6,338.7 763.4,338.7 764.2,338.7 765.0,338.7 765.8,338.7 766.6,338.6 767.4,338.6 768.2,338.6 769.0,338.6 769.8,338.6 770.6,338.6 771.4,338.6 772.2,338.6 773.0,338.6 773.8,338.6 774.6,338.6 775.4,338.6 776.2,338.6 777.0,338.7 777.8,338.7 778.6,338.7 779.4,338.7 780.2,338.7 781.0,338.7 781.8,338.7 782.6,338.8 783.4,338.8 784.2,338.8 785.0,338.8 785.8,338.9 786.6,338.9 787.4,338.9 788.2,338.9 789.0,338.9 789.8,338.9 790.6,338.9 791.4,338.9 792.2,338.8 793.0,338.8 793.8,338.8 794.6,338.7 795.4,338.7 796.2,338.7 797.0,338.7 797.8,338.7 798.6,338.6 799.4,338.6 800.2,338.6 801.0,338.6 801.8,338.6 802.6,338.7 803.4,338.7 804.2,338.7 805.0,338.7 805.8,338.7 806.6,338.7 807.4,338.7 808.2,338.7 809.0,338.7 809.8,338.7 810.6,338.7 811.4,338.7 812.2,338.7 813.0,338.7 813.8,338.7 814.6,338.7 815.4,338.7 816.2,338.7 817.0,338.7 817.8,338.7 818.6,338.7 819.4,338.7 820.2,338.7 821.0,338.7 821.8,338.7 822.6,338.6 823.4,338.6 824.2,338.6 825.0,338.6 825.8,338.6 826.6,338.6 827.4,338.6 828.2,338.6 829.0,338.6 829.8,338.6 830.6,338.7 831.4,338.7 832.2,338.7 833.0,338.7 833.8,338.7 834.6,338.7 835.4,338.7 836.2,338.7 837.0,338.7 837.8,338.7 838.6,338.7 839.4,338.7 840.2,338.7 841.0,338.8 841.8,338.8 842.6,338.8 843.4,338.9 844.2,338.9 845.0,338.9 845.8,338.9 846.6,338.9 847.4,338.9 848.2,338.9 849.0,338.9 849.8,338.9 850.6,338.9 851.4,338.9 852.2,338.8 853.0,338.8 853.8,338.8 854.6,338.8 855.4,338.8 856.2,338.8 857.0,338.7 857.8,338.7 858.6,338.7 859.4,338.7 860.2,338.7 861.0,338.7 861.8,338.7 862.6,338.6 863.4,338.6 864.2,338.6 865.0,338.6 865.8,338.6 866.6,338.6 867.4,338.6 868.2,338.6 869.0,338.7 869.8,338.7 870.6,338.7 871.4,338.7 872.2,338.7 873.0,338.8 873.8,338.8 874.6,338.8 875.4,338.8 876.2,338.8 877.0,338.7 877.8,338.7 878.6,338.7 879.4,338.7 880.2,338.7 881.0,338.7 881.8,338.7 882.6,338.7 883.4,338.7 884.2,338.7 885.0,338.8 885.8,338.8 886.6,338.8 887.4,338.9 888.2,338.9 889.0,338.9 889.8,338.8 890.6,338.8 891.4,338.8 892.2,338.7 893.0,338.7 893.8,338.7 894.6,338.7 895.4,338.7 896.2,338.7 897.0,338.7 897.8,338.7 898.6,338.7 899.4,338.7 900.2,338.7 901.0,338.7 901.8,338.7 902.6,338.8 903.4,338.8 904.2,338.8 905.0,338.8 905.8,338.9 906.6,338.9 907.4,338.9 908.2,338.8 909.0,338.8 909.8,338.8 910.6,338.8 911.4,338.8 912.2,338.8 913.0,338.8 913.8,338.8 914.6,338.7 915.4,338.7 916.2,338.6 917.0,338.5 917.8,338.5 918.6,338.4 919.4,338.4 920.2,338.3 921.0,338.3 921.8,338.2 922.6,338.2 923.4,338.1 924.2,338.0 925.0,338.0 925.8,338.0 926.6,338.1 927.4,338.1 928.2,338.0 929.0,337.9 929.8,337.8 930.6,337.8 931.4,337.7 932.2,337.8 933.0,337.9 933.8,338.0 934.6,338.2 935.4,338.3 936.2,338.4 937.0,338.5 937.8,338.5 938.6,338.5 939.4,338.6 940.2,338.6 941.0,338.6 941.8,338.6 942.6,338.6 943.4,338.6 944.2,338.6 945.0,338.5 945.8,338.4 946.6,338.4 947.4,338.3 948.2,338.2 949.0,338.1 949.8,338.0 950.6,337.9 951.4,337.8 952.2,337.8 953.0,337.7 953.8,337.7 954.6,337.7 955.4,337.8 956.2,337.8 957.0,337.8 957.8,337.8 958.6,337.8 959.4,337.8 960.2,337.8 961.0,337.8 961.8,337.9 962.6,338.0 963.4,338.1 964.2,338.3 965.0,338.4 965.8,338.5 966.6,338.5 967.4,338.6 968.2,338.6 969.0,338.6 969.8,338.7 970.6,338.7 971.4,338.7 972.2,338.7 973.0,338.7 973.8,338.7 974.6,338.6 975.4,338.6 976.2,338.5 977.0,338.4 977.8,338.3 978.6,338.2 979.4,338.1 980.2,338.0 981.0,337.9 981.8,337.8 982.6,337.7 983.4,337.6 984.2,337.6 985.0,337.5 985.8,337.5 986.6,337.5 987.4,337.5 988.2,337.6 989.0,337.6 989.8,337.7 990.6,337.7 991.4,337.7 992.2,337.8 993.0,337.8 993.8,337.8 994.6,337.8 995.4,337.8 996.2,337.9 997.0,337.9 997.8,338.0 998.6,338.1 999.4,338.1 1000.2,338.2 1001.0,338.3 1001.8,338.3 1002.6,338.4 1003.4,338.4 1004.2,338.4 1005.0,338.3 1005.8,338.2 1006.6,338.1 1007.4,338.0 1008.2,337.9 1009.0,337.7 1009.8,337.6 1010.6,337.6 1011.4,337.6 1012.2,337.7 1013.0,337.8 1013.8,337.8 1014.6,337.9 1015.4,338.0 1016.2,338.0 1017.0,338.0 1017.8,337.9 1018.6,337.9 1019.4,337.9 1020.2,337.9 1021.0,337.9 1021.8,337.9 1022.6,338.0 1023.4,338.0 1024.2,338.0 1025.0,338.0 1025.8,338.1 1026.6,338.1 1027.4,338.1 1028.2,338.2 1029.0,338.2 1029.8,338.3 1030.6,338.4 1031.4,338.4 1032.2,338.4 1033.0,338.4 1033.8,338.3 1034.6,338.3 1035.4,338.2 1036.2,338.2 1037.0,338.1 1037.8,338.1 1038.6,338.1 1039.4,338.2 1040.2,338.3 1041.0,338.4 1041.8,338.5 1042.6,338.6 1043.4,338.7 1044.2,338.7 1045.0,338.7 1045.8,338.7 1046.6,338.7 1047.4,338.6 1048.2,338.5 1049.0,338.4 1049.8,338.4 1050.6,338.3 1051.4,338.2 1052.2,338.2 1053.0,338.1 1053.8,338.0 1054.6,337.9 1055.4,337.9 1056.2,337.8 1057.0,337.8 1057.8,337.8 1058.6,337.9 1059.4,338.0 1060.2,338.1 1061.0,338.2 1061.8,338.3 1062.6,338.4 1063.4,338.4 1064.2,338.4 1065.0,338.4 1065.8,338.3 1066.6,338.1 1067.4,337.7 1068.2,337.0 1069.0,336.0 1069.8,334.9 1070.6,334.2 1071.4,334.3 1072.2,335.1 1073.0,336.3 1073.8,337.3 1074.6,337.9 1075.4,338.0 1076.2,337.9 1077.0,337.5 1077.8,337.2 1078.6,337.1 1079.4,337.2 1080.2,337.6 1081.0,338.0 1081.8,338.2 1082.6,338.4 1083.4,338.4 1084.2,338.5 1085.0,338.5 1085.8,338.6 1086.6,338.6 1087.4,338.7 1088.2,338.7 1089.0,338.7 1089.8,338.7 1090.6,338.7 1091.4,338.7 1092.2,338.6 1093.0,338.5 1093.8,338.3 1094.6,338.2 1095.4,338.2 1096.2,338.2 1097.0,338.3 1097.8,338.3 1098.6,338.4 1099.4,338.5 1100.2,338.5 1101.0,338.5 1101.8,338.5 1102.6,338.4 1103.4,338.3 1104.2,338.3 1105.0,338.2 1105.8,338.2 1106.6,338.2 1107.4,338.2 1108.2,338.2 1109.0,338.2 1109.8,338.1 1110.6,338.0 1111.4,337.7 1112.2,336.9 1113.0,335.1 1113.8,331.8 1114.6,327.3 1115.4,323.4 1116.2,322.9 1117.0,326.1 1117.8,330.7 1118.6,334.5 1119.4,336.7 1120.2,337.7 1121.0,338.0 1121.8,338.1 1122.6,338.1 1123.4,338.1 1124.2,338.1 1125.0,338.1 1125.8,338.0 1126.6,338.0 1127.4,337.8 1128.2,337.5 1129.0,336.8 1129.8,335.3 1130.6,332.7 1131.4,329.3 1132.2,326.0 1133.0,324.6 1133.8,325.4 1134.6,327.2 1135.4,329.6 1136.2,331.9 1137.0,333.9 1137.8,335.5 1138.6,336.5 1139.4,337.2 1140.2,337.6 1141.0,337.9 1141.8,338.1 1142.6,338.2 1143.4,338.2 1144.2,338.3 1145.0,338.4 1145.8,338.4 1146.6,338.5 1147.4,338.5 1148.2,338.6 1149.0,338.7 1149.8,338.7 1150.6,338.7 1151.4,338.7 1152.2,338.7 1153.0,338.7 1153.8,338.7 1154.6,338.8 1155.4,338.8 1156.2,338.8 1157.0,338.8 1157.8,338.6 1158.6,338.5 1159.4,338.3 1160.2,338.1 1161.0,337.9 1161.8,337.8 1162.6,337.6 1163.4,337.4 1164.2,337.3 1165.0,337.2 1165.8,337.2 1166.6,337.1 1167.4,337.2 1168.2,337.2 1169.0,337.4 1169.8,337.5 1170.6,337.7 1171.4,337.8 1172.2,338.0 1173.0,338.1 1173.8,338.3 1174.6,338.4 1175.4,338.5 1176.2,338.6 1177.0,338.7 1177.8,338.7 1178.6,338.8 1179.4,338.8 1180.2,338.8 1181.0,338.7 1181.8,338.6 1182.6,338.6 1183.4,338.5 1184.2,338.5 1185.0,338.5 1185.8,338.5 1186.6,338.5 1187.4,338.4 1188.2,338.4 1189.0,338.3 1189.8,338.3 1190.6,338.3 1191.4,338.2 1192.2,338.2 1193.0,338.2 1193.8,338.3 1194.6,338.3 1195.4,338.3 1196.2,338.3 1197.0,338.1 1197.8,338.1 1198.6,338.2 1199.4,338.3 1200.2,338.4 1201.0,338.5 1201.8,338.6 1202.6,338.6 1203.4,338.6 1204.2,338.4 1205.0,338.3 1205.8,338.1 1206.6,338.0 1207.4,337.9 1208.2,338.0 1209.0,338.1 1209.8,338.3 1210.6,338.4 1211.4,338.5 1212.2,338.6 1213.0,338.6 1213.8,338.6 1214.6,338.6 1215.4,338.7 1216.2,338.7 1217.0,338.8 1217.8,338.9 1218.6,338.9 1219.4,338.9 1220.2,338.8 1221.0,338.7 1221.8,338.5 1222.6,338.3 1223.4,338.1 1224.2,337.9 1225.0,337.8 1225.8,337.7 1226.6,337.7 1227.4,337.8 1228.2,337.8 1229.0,337.9 1229.8,338.0 1230.6,338.0 1231.4,338.1 1232.2,338.1 1233.0,338.1 1233.8,338.1 1234.6,338.1 1235.4,338.1 1236.2,338.2 1237.0,338.2 1237.8,338.4 1238.6,338.5 1239.4,338.6 1240.2,338.6 1241.0,338.5 1241.8,338.3 1242.6,337.9 1243.4,337.4 1244.2,337.0 1245.0,336.7 1245.8,336.5 1246.6,336.6 1247.4,336.8 1248.2,337.1 1249.0,337.3 1249.8,337.5 1250.6,337.5 1251.4,337.3 1252.2,337.1 1253.0,336.9 1253.8,336.6 1254.6,336.4 1255.4,336.2 1256.2,336.2 1257.0,336.3 1257.8,336.5 1258.6,336.9 1259.4,337.3 1260.2,337.7 1261.0,338.0 1261.8,338.3 1262.6,338.6 1263.4,338.7 1264.2,338.8 1265.0,338.9 1265.8,338.9 1266.6,338.8 1267.4,338.8 1268.2,338.7 1269.0,338.7 1269.8,338.8 1270.6,338.8 1271.4,338.8 1272.2,338.8 1273.0,338.8 1273.8,338.8 1274.6,338.9 1275.4,339.0 1276.2,339.0 1277.0,339.1 1277.8,339.2 1278.6,339.3 1279.4,339.3 1280.2,339.3 1281.0,339.3 1281.8,339.3 1282.6,339.4 1283.4,339.4 1284.2,339.5 1285.0,339.4 1285.8,339.3 1286.6,339.1 1287.4,338.7 1288.2,338.2 1289.0,337.7 1289.8,337.2 1290.6,336.7 1291.4,336.4 1292.2,336.2 1293.0,336.2 1293.8,336.4 1294.6,336.8 1295.4,337.3 1296.2,337.8 1297.0,338.3 1297.8,338.6 1298.6,338.9 1299.4,338.9 1300.2,338.8 1301.0,338.5 1301.8,338.2 1302.6,337.9 1303.4,337.7 1304.2,337.4 1305.0,337.0 1305.8,336.5 1306.6,335.9 1307.4,335.0 1308.2,334.2 1309.0,333.7 1309.8,333.7 1310.6,334.4 1311.4,335.4 1312.2,336.4 1313.0,337.3 1313.8,337.8 1314.6,338.1 1315.4,338.1 1316.2,338.0 1317.0,337.7 1317.8,337.3 1318.6,336.9 1319.4,336.7 1320.2,336.7 1321.0,337.0 1321.8,337.3 1322.6,337.7 1323.4,338.0 1324.2,338.3 1325.0,338.5 1325.8,338.7 1326.6,338.8 1327.4,338.9 1328.2,339.0 1329.0,339.0 1329.8,338.9 1330.6,338.8 1331.4,338.7 1332.2,338.6 1333.0,338.5 1333.8,338.4 1334.6,338.4 1335.4,338.3 1336.2,338.3 1337.0,338.4 1337.8,338.4 1338.6,338.5 1339.4,338.6 1340.2,338.6 1341.0,338.7 1341.8,338.9 1342.6,339.0 1343.4,339.2 1344.2,339.3 1345.0,339.5 1345.8,339.7 1346.6,339.9 1347.4,340.0 1348.2,340.0 1349.0,340.0 1349.8,339.9 1350.6,339.8 1351.4,339.6 1352.2,339.4 1353.0,339.3 1353.8,339.1 1354.6,338.9 1355.4,338.6 1356.2,338.1 1357.0,337.5 1357.8,337.0 1358.6,336.5 1359.4,336.3 1360.2,336.5 1361.0,337.0 1361.8,337.8 1362.6,338.5 1363.4,339.2 1364.2,339.7 1365.0,340.1 1365.8,340.2 1366.6,340.3 1367.4,340.2 1368.2,340.1 1369.0,340.0 1369.8,339.9 1370.6,339.8 1371.4,339.7 1372.2,339.6 1373.0,339.5 1373.8,339.4 1374.6,339.4 1375.4,339.3 1376.2,339.3 1377.0,339.2 1377.8,339.1 1378.6,339.1 1379.4,339.1 1380.2,339.1 1381.0,339.1 1381.8,339.1 1382.6,339.2 1383.4,339.1 1384.2,339.1 1385.0,339.1 1385.8,339.0 1386.6,339.0 1387.4,339.0 1388.2,339.0 1389.0,339.0 1389.8,339.1 1390.6,339.2 1391.4,339.3 1392.2,339.4 1393.0,339.4 1393.8,339.4 1394.6,339.4 1395.4,339.3 1396.2,339.2 1397.0,339.1 1397.8,339.0 1398.6,338.9 1399.4,338.9 1400.2,338.9 1401.0,338.9 1401.8,338.9 1402.6,338.9 1403.4,338.8 1404.2,338.7 1405.0,338.6 1405.8,338.5 1406.6,338.5 1407.4,338.4 1408.2,338.4 1409.0,338.4 1409.8,338.2 1410.6,338.0 1411.4,337.7 1412.2,337.1 1413.0,336.5 1413.8,335.6 1414.6,334.6 1415.4,333.4 1416.2,332.0 1417.0,330.3 1417.8,328.5 1418.6,326.6 1419.4,324.7 1420.2,322.8 1421.0,321.2 1421.8,320.0 1422.6,319.1 1423.4,318.8 1424.2,319.1 1425.0,319.9 1425.8,321.3 1426.6,323.0 1427.4,325.0 1428.2,327.0 1429.0,329.0 1429.8,330.9 1430.6,332.5 1431.4,333.9 1432.2,335.0 1433.0,335.9 1433.8,336.5 1434.6,337.0 1435.4,337.2 1436.2,337.2 1437.0,337.2 1437.8,337.0 1438.6,336.6 1439.4,336.2 1440.2,335.6 1441.0,334.7 1441.8,333.2 1442.6,330.3 1443.4,324.5 1444.2,314.2 1445.0,298.4 1445.8,278.1 1446.6,258.5 1447.4,248.9 1448.2,255.4 1449.0,272.7 1449.8,292.5 1450.6,309.1 1451.4,320.7 1452.2,327.7 1453.0,331.4 1453.8,333.3 1454.6,334.3 1455.4,334.9 1456.2,335.3 1457.0,335.6 1457.8,335.9 1458.6,336.3 1459.4,336.6 1460.2,337.0 1461.0,337.3 1461.8,337.6 1462.6,337.8 1463.4,337.9 1464.2,338.0 1465.0,338.1 1465.8,338.1 1466.6,338.1 1467.4,338.1 1468.2,338.0 1469.0,338.0 1469.8,338.0 1470.6,337.9 1471.4,338.0 1472.2,338.0 1473.0,338.1 1473.8,338.2 1474.6,338.3 1475.4,338.3 1476.2,338.2 1477.0,338.1 1477.8,338.0 1478.6,337.9 1479.4,337.8 1480.2,337.8 1481.0,337.9 1481.8,338.1 1482.6,338.2 1483.4,338.4 1484.2,338.6 1485.0,338.7 1485.8,338.8 1486.6,338.9 1487.4,338.9 1488.2,338.8 1489.0,338.7 1489.8,338.5 1490.6,338.3 1491.4,338.1 1492.2,337.8 1493.0,337.6 1493.8,337.4 1494.6,337.2 1495.4,337.0 1496.2,336.7 1497.0,336.5 1497.8,336.2 1498.6,335.9 1499.4,335.5 1500.2,335.1 1501.0,334.7 1501.8,334.2 1502.6,333.6 1503.4,333.0 1504.2,332.4 1505.0,331.7 1505.8,331.1 1506.6,330.4 1507.4,329.7 1508.2,329.0 1509.0,328.3 1509.8,327.7 1510.6,327.2 1511.4,326.9 1512.2,326.6 1513.0,326.6 1513.8,326.9 1514.6,328.0 1515.4,329.3 1516.2,330.8 1517.0,332.2 1517.8,333.5 1518.6,334.6 1519.4,335.6 1520.2,336.5 1521.0,337.3 1521.8,337.9 1522.6,338.4 1523.4,338.8 1524.2,339.0 1525.0,339.1 1525.8,339.1 1526.6,339.1 1527.4,339.2 1528.2,339.3 1529.0,339.4 1529.8,339.6 1530.6,339.8 1531.4,340.0 1532.2,340.2 1533.0,340.3 1533.8,340.3 1534.6,340.4 1535.4,340.3 1536.2,340.3 1537.0,340.3 1537.8,340.3 1538.6,340.3 1539.4,340.2 1540.2,340.2 1541.0,340.1 1541.8,340.0 1542.6,340.0 1543.4,340.0 1544.2,340.0 1545.0,340.0 1545.8,340.0 1546.6,340.0 1547.4,340.0 1548.2,340.0 1549.0,340.0 1549.8,340.1 1550.6,340.2 1551.4,341.1 1552.2,342.0 1553.0,342.9 1553.8,343.3 1554.6,342.7 1555.4,342.1 1556.2,341.3 1557.0,340.7 1557.8,340.4 1558.6,340.1 1559.4,339.8 1560.2,339.7 1561.0,339.6 1561.8,339.6 1562.6,339.7 1563.4,339.9 1564.2,340.1 1565.0,340.2 1565.8,340.3 1566.6,340.4 1567.4,339.7 1568.2,339.0 1569.0,338.3 1569.8,340.8 1570.6,345.2"/>
<polyline stroke="#960000" filter="url(#hardc)" points="60.0,481.8 73.0,481.8 73.8,481.8 74.6,481.8 75.4,481.8 76.2,481.8 77.0,481.8 77.8,481.8 78.6,481.8 79.4,481.8 80.2,481.8 81.0,481.7 81.8,481.7 82.6,481.7 83.4,481.7 84.2,481.7 85.0,481.7 85.8,481.7 86.6,481.7 87.4,481.8 88.2,481.8 89.0,481.8 89.8,481.8 90.6,481.8 91.4,481.8 92.2,481.8 93.0,481.8 93.8,481.9 94.6,482.1 95.4,482.0 96.2,482.0 97.0,482.0 97.8,481.9 98.6,481.9 99.4,481.9 100.2,481.8 101.0,481.8 101.8,481.8 102.6,481.8 103.4,481.8 104.2,481.8 105.0,481.8 105.8,481.8 106.6,481.8 107.4,481.8 108.2,481.8 109.0,481.8 109.8,481.8 110.6,481.8 111.4,481.8 112.2,481.8 113.0,481.8 113.8,481.8 114.6,481.8 115.4,481.8 116.2,481.8 117.0,481.8 117.8,481.8 118.6,481.8 119.4,481.9 120.2,481.9 121.0,481.9 121.8,481.9 122.6,481.9 123.4,481.9 124.2,481.9 125.0,481.9 125.8,481.8 126.6,481.8 127.4,481.7 128.2,481.7 129.0,481.7 129.8,481.7 130.6,481.7 131.4,481.7 132.2,481.7 133.0,481.8 133.8,481.8 134.6,481.8 135.4,481.8 136.2,481.8 137.0,481.8 137.8,481.8 138.6,481.8 139.4,481.7 140.2,481.7 141.0,481.7 141.8,481.7 142.6,481.7 143.4,481.8 144.2,481.8 145.0,481.8 145.8,481.8 146.6,481.8 147.4,481.8 148.2,481.9 149.0,481.9 149.8,481.9 150.6,481.9 151.4,481.9 152.2,481.9 153.0,481.8 153.8,481.8 154.6,481.7 155.4,481.6 156.2,481.5 157.0,481.5 157.8,481.5 158.6,481.5 159.4,481.6 160.2,481.6 161.0,481.7 161.8,481.7 162.6,481.7 163.4,481.7 164.2,481.7 165.0,481.7 165.8,481.6 166.6,481.5 167.4,481.5 168.2,481.5 169.0,481.4 169.8,481.3 170.6,481.3 171.4,481.2 172.2,481.2 173.0,481.2 173.8,481.2 174.6,481.3 175.4,481.4 176.2,481.4 177.0,481.4 177.8,481.5 178.6,481.4 179.4,481.4 180.2,481.4 181.0,481.4 181.8,481.4 182.6,481.4 183.4,481.4 184.2,481.5 185.0,481.5 185.8,481.5 186.6,481.4 187.4,481.3 188.2,481.3 189.0,481.2 189.8,481.2 190.6,481.2 191.4,481.2 192.2,481.3 193.0,481.3 193.8,481.4 194.6,481.4 195.4,481.4 196.2,481.4 197.0,481.4 197.8,481.4 198.6,481.4 199.4,481.4 200.2,481.5 201.0,481.5 201.8,481.5 202.6,481.5 203.4,481.5 204.2,481.4 205.0,481.3 205.8,481.2 206.6,481.1 207.4,481.1 208.2,481.1 209.0,481.2 209.8,481.3 210.6,481.3 211.4,481.4 212.2,481.4 213.0,481.4 213.8,481.4 214.6,481.4 215.4,481.4 216.2,481.3 217.0,481.3 217.8,481.3 218.6,481.3 219.4,481.3 220.2,481.3 221.0,481.4 221.8,481.4 222.6,481.4 223.4,481.4 224.2,481.4 225.0,481.5 225.8,481.5 226.6,481.5 227.4,481.5 228.2,481.5 229.0,481.5 229.8,481.5 230.6,481.5 231.4,481.5 232.2,481.5 233.0,481.6 233.8,481.6 234.6,481.6 235.4,481.6 236.2,481.6 237.0,481.6 237.8,481.6 238.6,481.7 239.4,481.8 240.2,481.8 241.0,481.9 241.8,481.9 242.6,481.9 243.4,481.9 244.2,481.9 245.0,481.8 245.8,481.8 246.6,481.7 247.4,481.7 248.2,481.7 249.0,481.7 249.8,481.6 250.6,481.7 251.4,481.7 252.2,481.6 253.0,481.6 253.8,481.6 254.6,481.6 255.4,481.5 256.2,481.5 257.0,481.6 257.8,481.7 258.6,481.7 259.4,481.8 260.2,481.9 261.0,482.0 261.8,482.0 262.6,482.1 263.4,482.1 264.2,482.1 265.0,482.1 265.8,482.1 266.6,482.0 267.4,482.0 268.2,481.9 269.0,481.8 269.8,481.8 270.6,481.8 271.4,481.7 272.2,481.7 273.0,481.8 273.8,481.8 274.6,481.8 275.4,481.8 276.2,481.8 277.0,481.7 277.8,481.7 278.6,481.6 279.4,481.6 280.2,481.6 281.0,481.6 281.8,481.7 282.6,481.7 283.4,481.8 284.2,481.9 285.0,481.9 285.8,482.0 286.6,482.0 287.4,482.0 288.2,482.1 289.0,482.1 289.8,482.0 290.6,482.0 291.4,481.9 292.2,481.8 293.0,481.7 293.8,481.6 294.6,481.6 295.4,481.6 296.2,481.6 297.0,481.7 297.8,481.8 298.6,481.8 299.4,481.8 300.2,481.9 301.0,481.9 301.8,481.8 302.6,481.7 303.4,481.7 304.2,481.7 305.0,481.7 305.8,481.7 306.6,481.7 307.4,481.7 308.2,481.7 309.0,481.8 309.8,481.8 310.6,481.8 311.4,481.8 312.2,481.8 313.0,481.8 313.8,481.8 314.6,481.8 315.4,481.8 316.2,481.8 317.0,481.8 317.8,481.8 318.6,481.8 319.4,481.8 320.2,481.8 321.0,481.8 321.8,481.8 322.6,481.8 323.4,481.9 324.2,481.9 325.0,481.8 325.8,481.8 326.6,481.8 327.4,481.8 328.2,481.8 329.0,481.7 329.8,481.7 330.6,481.7 331.4,481.7 332.2,481.7 333.0,481.7 333.8,481.7 334.6,481.7 335.4,481.7 336.2,481.7 337.0,481.7 337.8,481.7 338.6,481.7 339.4,481.7 340.2,481.7 341.0,481.7 341.8,481.7 342.6,481.6 343.4,481.6 344.2,481.6 345.0,481.6 345.8,481.6 346.6,481.6 347.4,481.6 348.2,481.6 349.0,481.5 349.8,481.5 350.6,481.6 351.4,481.6 352.2,481.6 353.0,481.6 353.8,481.6 354.6,481.6 355.4,481.7 356.2,481.7 357.0,481.7 357.8,481.7 358.6,481.7 359.4,481.7 360.2,481.7 361.0,481.7 361.8,481.7 362.6,481.7 363.4,481.7 364.2,481.7 365.0,481.7 365.8,481.7 366.6,481.7 367.4,481.7 368.2,481.7 369.0,481.7 369.8,481.7 370.6,481.7 371.4,481.7 372.2,481.7 373.0,481.7 373.8,481.6 374.6,481.6 375.4,481.6 376.2,481.6 377.0,481.6 377.8,481.7 378.6,481.7 379.4,481.7 380.2,481.7 381.0,481.7 381.8,481.7 382.6,481.7 383.4,481.7 384.2,481.6 385.0,481.6 385.8,481.6 386.6,481.6 387.4,481.6 388.2,481.6 389.0,481.6 389.8,481.6 390.6,481.7 391.4,481.7 392.2,481.7 393.0,481.7 393.8,481.7 394.6,481.7 395.4,481.8 396.2,481.8 397.0,481.8 397.8,481.8 398.6,481.8 399.4,481.7 400.2,481.7 401.0,481.7 401.8,481.7 402.6,481.7 403.4,481.7 404.2,481.7 405.0,481.7 405.8,481.7 406.6,481.7 407.4,481.7 408.2,481.8 409.0,481.8 409.8,481.8 410.6,481.8 411.4,481.7 412.2,481.7 413.0,481.7 413.8,481.7 414.6,481.7 415.4,481.6 416.2,481.6 417.0,481.6 417.8,481.6 418.6,481.6 419.4,481.6 420.2,481.6 421.0,481.6 421.8,481.6 422.6,481.6 423.4,481.6 424.2,481.6 425.0,481.6 425.8,481.6 426.6,481.7 427.4,481.8 428.2,481.8 429.0,481.9 429.8,481.9 430.6,481.8 431.4,481.8 432.2,481.8 433.0,481.7 433.8,481.7 434.6,481.8 435.4,481.8 436.2,481.9 437.0,481.9 437.8,482.0 438.6,482.0 439.4,482.1 440.2,482.1 441.0,482.0 441.8,482.0 442.6,481.9 443.4,481.9 444.2,481.9 445.0,481.8 445.8,481.8 446.6,481.7 447.4,481.7 448.2,481.6 449.0,481.4 449.8,481.2 450.6,480.8 451.4,480.3 452.2,479.6 453.0,478.9 453.8,478.2 454.6,477.9 455.4,477.9 456.2,478.3 457.0,478.9 457.8,479.4 458.6,479.7 459.4,479.7 460.2,479.2 461.0,478.3 461.8,477.1 462.6,475.9 463.4,475.1 464.2,474.9 465.0,475.3 465.8,476.4 466.6,477.6 467.4,478.7 468.2,479.6 469.0,480.2 469.8,480.5 470.6,480.6 471.4,480.5 472.2,480.1 473.0,479.3 473.8,478.1 474.6,476.2 475.4,473.8 476.2,471.0 477.0,468.6 477.8,467.1 478.6,467.1 479.4,468.7 480.2,471.1 481.0,473.8 481.8,476.2 482.6,478.0 483.4,479.1 484.2,479.6 485.0,479.7 485.8,479.6 486.6,479.4 487.4,479.2 488.2,479.1 489.0,479.2 489.8,479.4 490.6,479.7 491.4,480.0 492.2,480.4 493.0,480.6 493.8,480.9 494.6,481.1 495.4,481.2 496.2,481.3 497.0,481.3 497.8,481.3 498.6,481.3 499.4,481.3 500.2,481.2 501.0,481.2 501.8,481.2 502.6,481.2 503.4,481.2 504.2,481.1 505.0,481.0 505.8,480.9 506.6,480.6 507.4,480.3 508.2,479.9 509.0,479.4 509.8,478.8 510.6,478.1 511.4,477.2 512.2,476.2 513.0,475.1 513.8,473.8 514.6,472.3 515.4,470.8 516.2,469.2 517.0,467.6 517.8,466.2 518.6,465.0 519.4,464.1 520.2,463.6 521.0,463.6 521.8,463.9 522.6,464.4 523.4,465.3 524.2,466.3 525.0,467.5 525.8,468.8 526.6,470.1 527.4,471.5 528.2,472.7 529.0,473.9 529.8,474.9 530.6,475.9 531.4,476.7 532.2,477.5 533.0,478.1 533.8,478.7 534.6,479.2 535.4,479.5 536.2,479.9 537.0,480.1 537.8,480.3 538.6,480.4 539.4,480.5 540.2,480.6 541.0,480.6 541.8,480.6 542.6,480.6 543.4,480.4 544.2,480.1 545.0,479.7 545.8,479.2 546.6,478.5 547.4,477.7 548.2,476.8 549.0,476.0 549.8,475.3 550.6,474.8 551.4,474.7 552.2,475.0 553.0,475.7 553.8,476.6 554.6,477.7 555.4,478.7 556.2,479.6 557.0,480.2 557.8,480.7 558.6,481.0 559.4,481.2 560.2,481.3 561.0,481.3 561.8,481.4 562.6,481.4 563.4,481.4 564.2,481.4 565.0,481.4 565.8,481.4 566.6,481.5 567.4,481.5 568.2,481.5 569.0,481.5 569.8,481.5 570.6,481.5 571.4,481.4 572.2,481.4 573.0,481.4 573.8,481.3 574.6,481.3 575.4,481.3 576.2,481.3 577.0,481.3 577.8,481.4 578.6,481.5 579.4,481.5 580.2,481.6 581.0,481.7 581.8,481.8 582.6,481.8 583.4,481.9 584.2,481.9 585.0,481.9 585.8,481.9 586.6,481.9 587.4,481.8 588.2,481.8 589.0,481.7 589.8,481.7 590.6,481.7 591.4,481.7 592.2,481.7 593.0,481.7 593.8,481.7 594.6,481.7 595.4,481.7 596.2,481.7 597.0,481.7 597.8,481.7 598.6,481.7 599.4,481.7 600.2,481.7 601.0,481.7 601.8,481.7 602.6,481.7 603.4,481.7 604.2,481.7 605.0,481.7 605.8,481.7 606.6,481.7 607.4,481.6 608.2,481.6 609.0,481.6 609.8,481.6 610.6,481.5 611.4,481.6 612.2,481.6 613.0,481.6 613.8,481.6 614.6,481.6 615.4,481.6 616.2,481.6 617.0,481.6 617.8,481.6 618.6,481.6 619.4,481.6 620.2,481.6 621.0,481.6 621.8,481.6 622.6,481.6 623.4,481.6 624.2,481.6 625.0,481.6 625.8,481.6 626.6,481.5 627.4,481.5 628.2,481.5 629.0,481.5 629.8,481.5 630.6,481.5 631.4,481.6 632.2,481.6 633.0,481.6 633.8,481.7 634.6,481.7 635.4,481.7 636.2,481.8 637.0,481.8 637.8,481.8 638.6,481.8 639.4,481.8 640.2,481.8 641.0,481.8 641.8,481.9 642.6,481.8 643.4,481.8 644.2,481.8 645.0,481.8 645.8,481.7 646.6,481.7 647.4,481.7 648.2,481.7 649.0,481.8 649.8,481.8 650.6,481.8 651.4,481.8 652.2,481.8 653.0,481.8 653.8,481.8 654.6,481.7 655.4,481.7 656.2,481.7 657.0,481.7 657.8,481.7 658.6,481.7 659.4,481.7 660.2,481.7 661.0,481.7 661.8,481.7 662.6,481.7 663.4,481.7 664.2,481.7 665.0,481.7 665.8,481.7 666.6,481.7 667.4,481.7 668.2,481.7 669.0,481.7 669.8,481.7 670.6,481.7 671.4,481.7 672.2,481.7 673.0,481.7 673.8,481.7 674.6,481.7 675.4,481.7 676.2,481.7 677.0,481.7 677.8,481.7 678.6,481.6 679.4,481.6 680.2,481.7 681.0,481.7 681.8,481.7 682.6,481.7 683.4,481.7 684.2,481.7 685.0,481.7 685.8,481.7 686.6,481.7 687.4,481.7 688.2,481.7 689.0,481.6 689.8,481.6 690.6,481.6 691.4,481.5 692.2,481.5 693.0,481.5 693.8,481.5 694.6,481.5 695.4,481.5 696.2,481.6 697.0,481.6 697.8,481.6 698.6,481.6 699.4,481.7 700.2,481.7 701.0,481.7 701.8,481.7 702.6,481.7 703.4,481.6 704.2,481.6 705.0,481.6 705.8,481.6 706.6,481.6 707.4,481.5 708.2,481.5 709.0,481.5 709.8,481.6 710.6,481.6 711.4,481.6 712.2,481.6 713.0,481.7 713.8,481.7 714.6,481.7 715.4,481.7 716.2,481.6 717.0,481.6 717.8,481.6 718.6,481.6 719.4,481.6 720.2,481.6 721.0,481.5 721.8,481.5 722.6,481.5 723.4,481.5 724.2,481.6 725.0,481.6 725.8,481.6 726.6,481.7 727.4,481.7 728.2,481.7 729.0,481.7 729.8,481.7 730.6,481.7 731.4,481.7 732.2,481.7 733.0,481.7 733.8,481.7 734.6,481.7 735.4,481.6 736.2,481.6 737.0,481.6 737.8,481.6 738.6,481.6 739.4,481.6 740.2,481.6 741.0,481.6 741.8,481.6 742.6,481.6 743.4,481.6 744.2,481.6 745.0,481.6 745.8,481.6 746.6,481.7 747.4,481.7 748.2,481.7 749.0,481.7 749.8,481.7 750.6,481.6 751.4,481.6 752.2,481.6 753.0,481.6 753.8,481.6 754.6,481.6 755.4,481.6 756.2,481.7 757.0,481.7 757.8,481.7 758.6,481.7 759.4,481.7 760.2,481.7 761.0,481.7 761.8,481.7 762.6,481.7 763.4,481.7 764.2,481.7 765.0,481.7 765.8,481.7 766.6,481.7 767.4,481.7 768.2,481.6 769.0,481.6 769.8,481.6 770.6,481.6 771.4,481.5 772.2,481.5 773.0,481.5 773.8,481.5 774.6,481.6 775.4,481.6 776.2,481.6 777.0,481.6 777.8,481.6 778.6,481.6 779.4,481.6 780.2,481.6 781.0,481.6 781.8,481.6 782.6,481.6 783.4,481.6 784.2,481.6 785.0,481.6 785.8,481.6 786.6,481.6 787.4,481.6 788.2,481.6 789.0,481.6 789.8,481.6 790.6,481.6 791.4,481.6 792.2,481.6 793.0,481.6 793.8,481.6 794.6,481.6 795.4,481.6 796.2,481.6 797.0,481.6 797.8,481.6 798.6,481.6 799.4,481.6 800.2,481.6 801.0,481.6 801.8,481.7 802.6,481.7 803.4,481.7 804.2,481.8 805.0,481.8 805.8,481.8 806.6,481.8 807.4,481.8 808.2,481.8 809.0,481.8 809.8,481.8 810.6,481.8 811.4,481.8 812.2,481.8 813.0,481.8 813.8,481.8 814.6,481.8 815.4,481.8 816.2,481.8 817.0,481.8 817.8,481.8 818.6,481.8 819.4,481.8 820.2,481.8 821.0,481.8 821.8,481.8 822.6,481.8 823.4,481.8 824.2,481.8 825.0,481.7 825.8,481.7 826.6,481.7 827.4,481.7 828.2,481.7 829.0,481.7 829.8,481.8 830.6,481.8 831.4,481.8 832.2,481.8 833.0,481.8 833.8,481.8 834.6,481.8 835.4,481.8 836.2,481.8 837.0,481.8 837.8,481.8 838.6,481.7 839.4,481.7 840.2,481.7 841.0,481.7 841.8,481.7 842.6,481.7 843.4,481.8 844.2,481.8 845.0,481.8 845.8,481.8 846.6,481.8 847.4,481.8 848.2,481.8 849.0,481.7 849.8,481.7 850.6,481.7 851.4,481.7 852.2,481.7 853.0,481.7 853.8,481.7 854.6,481.7 855.4,481.8 856.2,481.8 857.0,481.8 857.8,481.8 858.6,481.8 859.4,481.8 860.2,481.8 861.0,481.8 861.8,481.8 862.6,481.8 863.4,481.7 864.2,481.7 865.0,481.7 865.8,481.7 866.6,481.7 867.4,481.7 868.2,481.7 869.0,481.7 869.8,481.7 870.6,481.7 871.4,481.6 872.2,481.6 873.0,481.6 873.8,481.6 874.6,481.6 875.4,481.6 876.2,481.6 877.0,481.6 877.8,481.6 878.6,481.6 879.4,481.6 880.2,481.7 881.0,481.7 881.8,481.6 882.6,481.6 883.4,481.6 884.2,481.6 885.0,481.6 885.8,481.6 886.6,481.6 887.4,481.6 888.2,481.6 889.0,481.6 889.8,481.6 890.6,481.6 891.4,481.6 892.2,481.6 893.0,481.6 893.8,481.7 894.6,481.7 895.4,481.7 896.2,481.7 897.0,481.7 897.8,481.7 898.6,481.7 899.4,481.7 900.2,481.7 901.0,481.7 901.8,481.7 902.6,481.7 903.4,481.6 904.2,481.6 905.0,481.6 905.8,481.6 906.6,481.6 907.4,481.6 908.2,481.6 909.0,481.7 909.8,481.7 910.6,481.7 911.4,481.7 912.2,481.7 913.0,481.8 913.8,481.8 914.6,481.7 915.4,481.7 916.2,481.7 917.0,481.6 917.8,481.5 918.6,481.4 919.4,481.2 920.2,481.0 921.0,480.8 921.8,480.6 922.6,480.5 923.4,480.3 924.2,480.1 925.0,480.0 925.8,479.9 926.6,479.8 927.4,479.8 928.2,479.8 929.0,479.8 929.8,479.8 930.6,479.9 931.4,479.9 932.2,480.0 933.0,480.1 933.8,480.1 934.6,480.2 935.4,480.3 936.2,480.5 937.0,480.6 937.8,480.7 938.6,480.9 939.4,481.1 940.2,481.2 941.0,481.4 941.8,481.5 942.6,481.6 943.4,481.6 944.2,481.6 945.0,481.6 945.8,481.5 946.6,481.3 947.4,481.2 948.2,481.1 949.0,481.0 949.8,480.8 950.6,480.7 951.4,480.5 952.2,480.3 953.0,480.1 953.8,480.0 954.6,479.8 955.4,479.7 956.2,479.7 957.0,479.6 957.8,479.7 958.6,479.7 959.4,479.8 960.2,479.9 961.0,480.0 961.8,480.2 962.6,480.5 963.4,480.7 964.2,480.9 965.0,481.1 965.8,481.3 966.6,481.4 967.4,481.6 968.2,481.7 969.0,481.8 969.8,481.9 970.6,482.0 971.4,482.0 972.2,482.0 973.0,482.0 973.8,482.0 974.6,481.9 975.4,481.9 976.2,481.8 977.0,481.7 977.8,481.7 978.6,481.6 979.4,481.5 980.2,481.4 981.0,481.2 981.8,481.0 982.6,480.8 983.4,480.6 984.2,480.3 985.0,480.1 985.8,480.0 986.6,479.9 987.4,479.9 988.2,479.9 989.0,480.0 989.8,480.1 990.6,480.3 991.4,480.5 992.2,480.6 993.0,480.8 993.8,481.0 994.6,481.2 995.4,481.3 996.2,481.4 997.0,481.5 997.8,481.5 998.6,481.5 999.4,481.5 1000.2,481.4 1001.0,481.3 1001.8,481.2 1002.6,481.1 1003.4,481.0 1004.2,480.9 1005.0,480.7 1005.8,480.6 1006.6,480.5 1007.4,480.3 1008.2,480.2 1009.0,480.0 1009.8,479.8 1010.6,479.6 1011.4,479.5 1012.2,479.5 1013.0,479.5 1013.8,479.6 1014.6,479.7 1015.4,480.0 1016.2,480.3 1017.0,480.6 1017.8,480.9 1018.6,481.2 1019.4,481.5 1020.2,481.7 1021.0,481.8 1021.8,481.9 1022.6,481.9 1023.4,482.0 1024.2,482.0 1025.0,482.0 1025.8,482.0 1026.6,482.0 1027.4,482.0 1028.2,482.0 1029.0,482.0 1029.8,481.9 1030.6,481.9 1031.4,481.8 1032.2,481.8 1033.0,481.7 1033.8,481.8 1034.6,481.8 1035.4,481.8 1036.2,481.8 1037.0,481.8 1037.8,481.8 1038.6,481.8 1039.4,481.8 1040.2,481.8 1041.0,481.8 1041.8,481.8 1042.6,481.7 1043.4,481.7 1044.2,481.6 1045.0,481.5 1045.8,481.4 1046.6,481.3 1047.4,481.3 1048.2,481.2 1049.0,481.2 1049.8,481.1 1050.6,481.1 1051.4,481.1 1052.2,481.0 1053.0,481.0 1053.8,481.0 1054.6,481.0 1055.4,481.0 1056.2,481.1 1057.0,481.1 1057.8,481.1 1058.6,481.1 1059.4,481.1 1060.2,481.2 1061.0,481.2 1061.8,481.2 1062.6,481.2 1063.4,481.2 1064.2,481.1 1065.0,481.1 1065.8,480.9 1066.6,480.5 1067.4,479.6 1068.2,477.8 1069.0,475.2 1069.8,472.2 1070.6,470.1 1071.4,470.2 1072.2,472.4 1073.0,475.5 1073.8,478.1 1074.6,479.6 1075.4,480.2 1076.2,479.9 1077.0,479.2 1077.8,478.5 1078.6,478.3 1079.4,478.7 1080.2,479.6 1081.0,480.4 1081.8,481.0 1082.6,481.4 1083.4,481.6 1084.2,481.7 1085.0,481.7 1085.8,481.8 1086.6,481.8 1087.4,481.9 1088.2,481.9 1089.0,482.0 1089.8,482.0 1090.6,482.1 1091.4,482.1 1092.2,482.1 1093.0,482.1 1093.8,482.1 1094.6,482.0 1095.4,482.0 1096.2,481.9 1097.0,481.8 1097.8,481.8 1098.6,481.8 1099.4,481.8 1100.2,481.8 1101.0,481.9 1101.8,481.9 1102.6,481.9 1103.4,481.9 1104.2,481.8 1105.0,481.8 1105.8,481.7 1106.6,481.7 1107.4,481.7 1108.2,481.7 1109.0,481.7 1109.8,481.6 1110.6,481.3 1111.4,480.7 1112.2,479.1 1113.0,475.2 1113.8,468.3 1114.6,458.9 1115.4,450.9 1116.2,449.6 1117.0,456.0 1117.8,465.3 1118.6,472.9 1119.4,477.4 1120.2,479.4 1121.0,480.1 1121.8,480.3 1122.6,480.4 1123.4,480.4 1124.2,480.4 1125.0,480.4 1125.8,480.3 1126.6,480.2 1127.4,479.8 1128.2,479.0 1129.0,477.2 1129.8,473.7 1130.6,467.8 1131.4,459.9 1132.2,452.3 1133.0,449.2 1133.8,451.0 1134.6,455.3 1135.4,460.8 1136.2,466.2 1137.0,470.9 1137.8,474.5 1138.6,476.8 1139.4,478.3 1140.2,479.1 1141.0,479.6 1141.8,479.8 1142.6,479.8 1143.4,479.8 1144.2,479.8 1145.0,479.8 1145.8,479.8 1146.6,479.8 1147.4,479.8 1148.2,479.8 1149.0,479.7 1149.8,479.7 1150.6,479.6 1151.4,479.5 1152.2,479.4 1153.0,479.2 1153.8,479.0 1154.6,478.8 1155.4,478.7 1156.2,478.7 1157.0,478.6 1157.8,478.5 1158.6,478.3 1159.4,478.1 1160.2,477.8 1161.0,477.5 1161.8,477.1 1162.6,476.8 1163.4,476.5 1164.2,476.2 1165.0,476.0 1165.8,475.9 1166.6,475.9 1167.4,476.0 1168.2,476.2 1169.0,476.5 1169.8,476.8 1170.6,477.2 1171.4,477.5 1172.2,477.8 1173.0,478.1 1173.8,478.4 1174.6,478.6 1175.4,478.9 1176.2,479.1 1177.0,479.3 1177.8,479.5 1178.6,479.7 1179.4,479.9 1180.2,480.0 1181.0,480.1 1181.8,480.2 1182.6,480.2 1183.4,480.2 1184.2,480.1 1185.0,480.0 1185.8,479.9 1186.6,479.8 1187.4,479.8 1188.2,479.8 1189.0,479.8 1189.8,479.8 1190.6,479.9 1191.4,480.0 1192.2,480.1 1193.0,480.2 1193.8,480.3 1194.6,480.3 1195.4,480.3 1196.2,480.2 1197.0,480.5 1197.8,480.3 1198.6,480.0 1199.4,479.9 1200.2,479.8 1201.0,479.8 1201.8,479.9 1202.6,480.1 1203.4,480.3 1204.2,480.5 1205.0,480.6 1205.8,480.7 1206.6,480.7 1207.4,480.7 1208.2,480.6 1209.0,480.6 1209.8,480.5 1210.6,480.4 1211.4,480.3 1212.2,480.1 1213.0,479.9 1213.8,479.8 1214.6,479.7 1215.4,479.7 1216.2,479.7 1217.0,479.7 1217.8,479.7 1218.6,479.8 1219.4,479.8 1220.2,479.8 1221.0,479.8 1221.8,479.8 1222.6,479.8 1223.4,479.8 1224.2,479.8 1225.0,479.8 1225.8,479.8 1226.6,479.7 1227.4,479.7 1228.2,479.6 1229.0,479.6 1229.8,479.5 1230.6,479.5 1231.4,479.5 1232.2,479.6 1233.0,479.6 1233.8,479.6 1234.6,479.6 1235.4,479.6 1236.2,479.6 1237.0,479.6 1237.8,479.5 1238.6,479.5 1239.4,479.4 1240.2,479.2 1241.0,478.8 1241.8,478.3 1242.6,477.6 1243.4,476.8 1244.2,476.0 1245.0,475.5 1245.8,475.3 1246.6,475.5 1247.4,476.1 1248.2,476.8 1249.0,477.6 1249.8,478.2 1250.6,478.6 1251.4,478.7 1252.2,478.5 1253.0,478.1 1253.8,477.6 1254.6,477.0 1255.4,476.5 1256.2,476.1 1257.0,476.0 1257.8,476.2 1258.6,476.6 1259.4,477.2 1260.2,477.7 1261.0,478.2 1261.8,478.6 1262.6,478.8 1263.4,478.9 1264.2,479.0 1265.0,479.0 1265.8,478.9 1266.6,479.0 1267.4,479.0 1268.2,479.1 1269.0,479.2 1269.8,479.3 1270.6,479.4 1271.4,479.3 1272.2,479.3 1273.0,479.2 1273.8,479.2 1274.6,479.2 1275.4,479.2 1276.2,479.3 1277.0,479.5 1277.8,479.6 1278.6,479.7 1279.4,479.7 1280.2,479.8 1281.0,479.8 1281.8,479.8 1282.6,479.7 1283.4,479.5 1284.2,479.3 1285.0,478.9 1285.8,478.4 1286.6,477.8 1287.4,477.1 1288.2,476.4 1289.0,475.6 1289.8,474.9 1290.6,474.3 1291.4,473.9 1292.2,473.8 1293.0,473.9 1293.8,474.3 1294.6,475.0 1295.4,475.8 1296.2,476.6 1297.0,477.4 1297.8,478.1 1298.6,478.7 1299.4,479.2 1300.2,479.5 1301.0,479.6 1301.8,479.6 1302.6,479.5 1303.4,479.1 1304.2,478.5 1305.0,477.3 1305.8,475.6 1306.6,473.3 1307.4,470.5 1308.2,467.9 1309.0,466.3 1309.8,466.3 1310.6,468.0 1311.4,470.6 1312.2,473.2 1313.0,475.4 1313.8,477.0 1314.6,478.0 1315.4,478.5 1316.2,478.7 1317.0,478.6 1317.8,478.2 1318.6,477.7 1319.4,477.5 1320.2,477.6 1321.0,478.1 1321.8,478.7 1322.6,479.2 1323.4,479.5 1324.2,479.6 1325.0,479.5 1325.8,479.5 1326.6,479.4 1327.4,479.4 1328.2,479.3 1329.0,479.2 1329.8,479.1 1330.6,478.8 1331.4,478.6 1332.2,478.3 1333.0,478.0 1333.8,477.7 1334.6,477.6 1335.4,477.5 1336.2,477.6 1337.0,477.9 1337.8,478.2 1338.6,478.6 1339.4,478.9 1340.2,479.2 1341.0,479.4 1341.8,479.5 1342.6,479.6 1343.4,479.6 1344.2,479.5 1345.0,479.5 1345.8,479.5 1346.6,479.5 1347.4,479.6 1348.2,479.6 1349.0,479.6 1349.8,479.6 1350.6,479.6 1351.4,479.6 1352.2,479.6 1353.0,479.5 1353.8,479.3 1354.6,479.0 1355.4,478.4 1356.2,477.5 1357.0,476.4 1357.8,475.2 1358.6,474.2 1359.4,473.6 1360.2,473.9 1361.0,474.7 1361.8,475.9 1362.6,477.2 1363.4,478.2 1364.2,479.0 1365.0,479.5 1365.8,479.9 1366.6,480.2 1367.4,480.4 1368.2,480.6 1369.0,480.7 1369.8,480.7 1370.6,480.6 1371.4,480.5 1372.2,480.3 1373.0,480.2 1373.8,480.0 1374.6,479.9 1375.4,479.8 1376.2,479.7 1377.0,479.7 1377.8,479.7 1378.6,479.7 1379.4,479.7 1380.2,479.7 1381.0,479.7 1381.8,479.7 1382.6,479.6 1383.4,479.5 1384.2,479.3 1385.0,479.1 1385.8,478.9 1386.6,478.8 1387.4,478.8 1388.2,478.9 1389.0,479.0 1389.8,479.1 1390.6,479.2 1391.4,479.2 1392.2,479.3 1393.0,479.3 1393.8,479.3 1394.6,479.3 1395.4,479.3 1396.2,479.3 1397.0,479.3 1397.8,479.3 1398.6,479.2 1399.4,479.2 1400.2,479.1 1401.0,479.1 1401.8,479.1 1402.6,479.1 1403.4,479.1 1404.2,479.1 1405.0,479.1 1405.8,479.1 1406.6,479.0 1407.4,478.9 1408.2,478.7 1409.0,478.5 1409.8,478.2 1410.6,477.7 1411.4,477.1 1412.2,476.2 1413.0,475.0 1413.8,473.4 1414.6,471.4 1415.4,469.0 1416.2,466.1 1417.0,462.7 1417.8,458.9 1418.6,454.9 1419.4,450.9 1420.2,447.1 1421.0,443.8 1421.8,441.3 1422.6,439.8 1423.4,439.4 1424.2,440.2 1425.0,442.0 1425.8,444.7 1426.6,448.1 1427.4,451.9 1428.2,455.8 1429.0,459.7 1429.8,463.2 1430.6,466.4 1431.4,469.2 1432.2,471.5 1433.0,473.4 1433.8,474.8 1434.6,475.9 1435.4,476.5 1436.2,476.9 1437.0,477.1 1437.8,477.0 1438.6,476.7 1439.4,476.1 1440.2,475.3 1441.0,474.0 1441.8,471.8 1442.6,467.7 1443.4,459.8 1444.2,446.0 1445.0,424.8 1445.8,397.8 1446.6,371.7 1447.4,358.9 1448.2,367.7 1449.0,391.1 1449.8,417.6 1450.6,440.1 1451.4,455.8 1452.2,465.5 1453.0,470.8 1453.8,473.7 1454.6,475.3 1455.4,476.3 1456.2,476.8 1457.0,477.2 1457.8,477.5 1458.6,477.7 1459.4,478.0 1460.2,478.3 1461.0,478.5 1461.8,478.8 1462.6,478.9 1463.4,479.0 1464.2,479.1 1465.0,479.1 1465.8,479.2 1466.6,479.3 1467.4,479.4 1468.2,479.5 1469.0,479.6 1469.8,479.7 1470.6,479.8 1471.4,479.7 1472.2,479.6 1473.0,479.4 1473.8,479.1 1474.6,478.8 1475.4,478.5 1476.2,478.1 1477.0,477.8 1477.8,477.6 1478.6,477.5 1479.4,477.5 1480.2,477.7 1481.0,478.0 1481.8,478.3 1482.6,478.6 1483.4,478.7 1484.2,478.8 1485.0,478.8 1485.8,478.8 1486.6,478.6 1487.4,478.4 1488.2,478.1 1489.0,477.8 1489.8,477.5 1490.6,477.1 1491.4,476.7 1492.2,476.3 1493.0,475.8 1493.8,475.2 1494.6,474.7 1495.4,474.1 1496.2,473.4 1497.0,472.8 1497.8,472.0 1498.6,471.0 1499.4,469.9 1500.2,468.7 1501.0,467.4 1501.8,466.0 1502.6,464.6 1503.4,463.2 1504.2,461.8 1505.0,460.4 1505.8,459.1 1506.6,457.7 1507.4,456.3 1508.2,454.9 1509.0,453.6 1509.8,452.2 1510.6,450.9 1511.4,449.6 1512.2,448.6 1513.0,447.8 1513.8,448.2 1514.6,450.7 1515.4,454.2 1516.2,458.2 1517.0,462.1 1517.8,465.7 1518.6,468.9 1519.4,471.6 1520.2,473.9 1521.0,475.7 1521.8,477.0 1522.6,478.1 1523.4,478.8 1524.2,479.4 1525.0,479.7 1525.8,479.9 1526.6,480.0 1527.4,480.0 1528.2,480.0 1529.0,480.0 1529.8,479.9 1530.6,479.9 1531.4,479.9 1532.2,479.9 1533.0,479.9 1533.8,480.0 1534.6,480.0 1535.4,480.0 1536.2,480.0 1537.0,480.0 1537.8,480.1 1538.6,480.1 1539.4,480.2 1540.2,480.2 1541.0,480.2 1541.8,480.1 1542.6,479.9 1543.4,479.7 1544.2,479.4 1545.0,479.2 1545.8,479.0 1546.6,478.9 1547.4,478.9 1548.2,479.0 1549.0,479.0 1549.8,479.1 1550.6,479.1 1551.4,479.1 1552.2,479.1 1553.0,479.0 1553.8,478.9 1554.6,478.9 1555.4,478.9 1556.2,478.9 1557.0,478.7 1557.8,478.3 1558.6,477.9 1559.4,477.6 1560.2,478.4 1561.0,480.4 1561.8,482.4 1562.6,484.3 1563.4,485.8 1564.2,484.9 1565.0,484.1 1565.8,483.3 1566.6,482.5 1567.4,481.7 1568.2,480.5 1569.0,479.4 1569.8,478.2 1570.6,483.3"/>
<polyline stroke="#0000ff" filter="url(#hardc)" points="60.0,610.7 73.0,610.7 73.8,610.7 74.6,610.7 75.4,610.7 76.2,610.8 77.0,610.8 77.8,610.8 78.6,610.8 79.4,610.8 80.2,610.7 81.0,610.7 81.8,610.7 82.6,610.7 83.4,610.7 84.2,610.7 85.0,610.7 85.8,610.7 86.6,610.8 87.4,610.8 88.2,610.8 89.0,610.8 89.8,610.7 90.6,610.7 91.4,610.7 92.2,610.7 93.0,610.7 93.8,610.7 94.6,610.7 95.4,610.7 96.2,610.7 97.0,610.7 97.8,610.8 98.6,610.8 99.4,610.9 100.2,611.0 101.0,611.0 101.8,611.0 102.6,611.0 103.4,611.0 104.2,611.0 105.0,611.0 105.8,611.0 106.6,611.0 107.4,611.0 108.2,611.0 109.0,611.0 109.8,611.0 110.6,610.9 111.4,610.8 112.2,610.7 113.0,610.6 113.8,610.5 114.6,610.5 115.4,610.5 116.2,610.5 117.0,610.6 117.8,610.6 118.6,610.7 119.4,610.7 120.2,610.7 121.0,610.6 121.8,610.6 122.6,610.5 123.4,610.5 124.2,610.5 125.0,610.5 125.8,610.5 126.6,610.6 127.4,610.5 128.2,610.5 129.0,610.5 129.8,610.5 130.6,610.5 131.4,610.5 132.2,610.5 133.0,610.6 133.8,610.6 134.6,610.7 135.4,610.8 136.2,610.8 137.0,610.9 137.8,610.9 138.6,610.9 139.4,611.0 140.2,611.0 141.0,611.1 141.8,611.2 142.6,611.3 143.4,611.3 144.2,611.4 145.0,611.3 145.8,611.3 146.6,611.3 147.4,611.2 148.2,611.1 149.0,611.1 149.8,611.0 150.6,610.9 151.4,610.9 152.2,610.9 153.0,610.8 153.8,610.8 154.6,610.8 155.4,610.8 156.2,610.8 157.0,610.8 157.8,610.8 158.6,610.9 159.4,610.9 160.2,610.9 161.0,610.9 161.8,610.8 162.6,610.8 163.4,610.8 164.2,610.7 165.0,610.7 165.8,610.7 166.6,610.7 167.4,610.7 168.2,610.7 169.0,610.7 169.8,610.8 170.6,610.8 171.4,610.8 172.2,610.8 173.0,610.7 173.8,610.7 174.6,610.6 175.4,610.6 176.2,610.5 177.0,610.5 177.8,610.4 178.6,610.4 179.4,610.4 180.2,610.5 181.0,610.5 181.8,610.5 182.6,610.6 183.4,610.6 184.2,610.6 185.0,610.6 185.8,610.6 186.6,610.6 187.4,610.5 188.2,610.5 189.0,610.5 189.8,610.5 190.6,610.5 191.4,610.6 192.2,610.6 193.0,610.7 193.8,610.7 194.6,610.8 195.4,610.8 196.2,610.9 197.0,610.9 197.8,610.9 198.6,610.9 199.4,611.0 200.2,611.0 201.0,611.0 201.8,611.0 202.6,611.0 203.4,611.0 204.2,611.0 205.0,611.0 205.8,611.1 206.6,611.1 207.4,611.1 208.2,611.1 209.0,611.2 209.8,611.2 210.6,611.2 211.4,611.3 212.2,611.2 213.0,611.2 213.8,611.1 214.6,611.1 215.4,611.0 216.2,610.9 217.0,610.9 217.8,610.9 218.6,611.0 219.4,611.1 220.2,611.1 221.0,611.1 221.8,611.1 222.6,611.1 223.4,611.1 224.2,611.0 225.0,611.0 225.8,610.9 226.6,610.9 227.4,610.8 228.2,610.7 229.0,610.6 229.8,610.6 230.6,610.6 231.4,610.5 232.2,610.5 233.0,610.5 233.8,610.5 234.6,610.5 235.4,610.4 236.2,610.4 237.0,610.3 237.8,610.3 238.6,610.3 239.4,610.4 240.2,610.4 241.0,610.4 241.8,610.3 242.6,610.3 243.4,610.3 244.2,610.3 245.0,610.4 245.8,610.4 246.6,610.5 247.4,610.5 248.2,610.5 249.0,610.6 249.8,610.6 250.6,610.6 251.4,610.6 252.2,610.6 253.0,610.6 253.8,610.7 254.6,610.7 255.4,610.6 256.2,610.6 257.0,610.6 257.8,610.5 258.6,610.5 259.4,610.5 260.2,610.5 261.0,610.5 261.8,610.6 262.6,610.6 263.4,610.6 264.2,610.6 265.0,610.5 265.8,610.5 266.6,610.4 267.4,610.3 268.2,610.3 269.0,610.3 269.8,610.3 270.6,610.4 271.4,610.4 272.2,610.5 273.0,610.7 273.8,610.8 274.6,610.8 275.4,610.9 276.2,610.8 277.0,610.8 277.8,610.7 278.6,610.6 279.4,610.6 280.2,610.5 281.0,610.4 281.8,610.4 282.6,610.4 283.4,610.4 284.2,610.5 285.0,610.5 285.8,610.5 286.6,610.5 287.4,610.6 288.2,610.6 289.0,610.5 289.8,610.5 290.6,610.5 291.4,610.5 292.2,610.5 293.0,610.6 293.8,610.6 294.6,610.7 295.4,610.7 296.2,610.7 297.0,610.6 297.8,610.6 298.6,610.5 299.4,610.4 300.2,610.4 301.0,610.3 301.8,610.3 302.6,610.5 303.4,610.6 304.2,610.6 305.0,610.6 305.8,610.7 306.6,610.7 307.4,610.7 308.2,610.7 309.0,610.7 309.8,610.7 310.6,610.7 311.4,610.7 312.2,610.7 313.0,610.7 313.8,610.7 314.6,610.7 315.4,610.7 316.2,610.6 317.0,610.6 317.8,610.6 318.6,610.6 319.4,610.6 320.2,610.6 321.0,610.6 321.8,610.6 322.6,610.6 323.4,610.6 324.2,610.7 325.0,610.7 325.8,610.7 326.6,610.7 327.4,610.6 328.2,610.6 329.0,610.6 329.8,610.6 330.6,610.6 331.4,610.6 332.2,610.6 333.0,610.6 333.8,610.6 334.6,610.6 335.4,610.5 336.2,610.5 337.0,610.5 337.8,610.6 338.6,610.6 339.4,610.6 340.2,610.6 341.0,610.7 341.8,610.7 342.6,610.7 343.4,610.7 344.2,610.7 345.0,610.7 345.8,610.7 346.6,610.7 347.4,610.7 348.2,610.7 349.0,610.8 349.8,610.8 350.6,610.8 351.4,610.8 352.2,610.8 353.0,610.8 353.8,610.8 354.6,610.8 355.4,610.8 356.2,610.8 357.0,610.8 357.8,610.8 358.6,610.8 359.4,610.8 360.2,610.8 361.0,610.8 361.8,610.8 362.6,610.8 363.4,610.8 364.2,610.7 365.0,610.7 365.8,610.7 366.6,610.7 367.4,610.7 368.2,610.7 369.0,610.7 369.8,610.7 370.6,610.7 371.4,610.7 372.2,610.7 373.0,610.7 373.8,610.8 374.6,610.8 375.4,610.8 376.2,610.8 377.0,610.9 377.8,610.9 378.6,610.9 379.4,610.9 380.2,610.9 381.0,610.9 381.8,610.8 382.6,610.8 383.4,610.8 384.2,610.8 385.0,610.8 385.8,610.8 386.6,610.8 387.4,610.7 388.2,610.7 389.0,610.7 389.8,610.7 390.6,610.6 391.4,610.7 392.2,610.7 393.0,610.7 393.8,610.7 394.6,610.7 395.4,610.7 396.2,610.7 397.0,610.7 397.8,610.7 398.6,610.7 399.4,610.7 400.2,610.8 401.0,610.7 401.8,610.7 402.6,610.7 403.4,610.7 404.2,610.7 405.0,610.7 405.8,610.7 406.6,610.7 407.4,610.7 408.2,610.7 409.0,610.7 409.8,610.7 410.6,610.7 411.4,610.7 412.2,610.7 413.0,610.7 413.8,610.6 414.6,610.6 415.4,610.5 416.2,610.5 417.0,610.5 417.8,610.5 418.6,610.5 419.4,610.5 420.2,610.6 421.0,610.5 421.8,610.5 422.6,610.5 423.4,610.5 424.2,610.4 425.0,610.4 425.8,610.4 426.6,610.4 427.4,610.3 428.2,610.3 429.0,610.3 429.8,610.3 430.6,610.3 431.4,610.3 432.2,610.3 433.0,610.3 433.8,610.3 434.6,610.3 435.4,610.4 436.2,610.4 437.0,610.5 437.8,610.5 438.6,610.5 439.4,610.6 440.2,610.6 441.0,610.6 441.8,610.6 442.6,610.5 443.4,610.5 444.2,610.5 445.0,610.5 445.8,610.5 446.6,610.5 447.4,610.5 448.2,610.5 449.0,610.4 449.8,610.3 450.6,610.0 451.4,609.6 452.2,609.0 453.0,608.4 453.8,607.9 454.6,607.7 455.4,607.7 456.2,608.0 457.0,608.4 457.8,608.8 458.6,609.1 459.4,609.0 460.2,608.7 461.0,608.0 461.8,607.1 462.6,606.2 463.4,605.5 464.2,605.4 465.0,605.7 465.8,606.5 466.6,607.4 467.4,608.3 468.2,609.0 469.0,609.5 469.8,609.8 470.6,609.9 471.4,609.8 472.2,609.5 473.0,608.8 473.8,607.8 474.6,606.3 475.4,604.4 476.2,602.2 477.0,600.3 477.8,599.2 478.6,599.2 479.4,600.4 480.2,602.4 481.0,604.5 481.8,606.3 482.6,607.7 483.4,608.5 484.2,608.9 485.0,609.0 485.8,608.9 486.6,608.7 487.4,608.6 488.2,608.6 489.0,608.7 489.8,608.9 490.6,609.1 491.4,609.4 492.2,609.7 493.0,609.8 493.8,610.0 494.6,610.0 495.4,610.1 496.2,610.1 497.0,610.1 497.8,610.1 498.6,610.1 499.4,610.1 500.2,610.1 501.0,610.1 501.8,610.0 502.6,610.0 503.4,610.0 504.2,609.9 505.0,609.9 505.8,609.8 506.6,609.7 507.4,609.5 508.2,609.3 509.0,609.0 509.8,608.6 510.6,608.2 511.4,607.7 512.2,607.0 513.0,606.2 513.8,605.3 514.6,604.3 515.4,603.1 516.2,602.0 517.0,600.9 517.8,599.8 518.6,599.0 519.4,598.3 520.2,597.9 521.0,597.9 521.8,598.0 522.6,598.4 523.4,599.0 524.2,599.7 525.0,600.6 525.8,601.5 526.6,602.4 527.4,603.3 528.2,604.2 529.0,605.0 529.8,605.7 530.6,606.4 531.4,607.1 532.2,607.6 533.0,608.1 533.8,608.5 534.6,608.9 535.4,609.2 536.2,609.4 537.0,609.5 537.8,609.7 538.6,609.8 539.4,609.8 540.2,609.9 541.0,609.9 541.8,609.8 542.6,609.7 543.4,609.5 544.2,609.2 545.0,609.0 545.8,608.6 546.6,608.1 547.4,607.6 548.2,607.0 549.0,606.3 549.8,605.8 550.6,605.4 551.4,605.3 552.2,605.5 553.0,606.0 553.8,606.7 554.6,607.4 555.4,608.2 556.2,608.8 557.0,609.4 557.8,609.7 558.6,610.0 559.4,610.2 560.2,610.3 561.0,610.3 561.8,610.4 562.6,610.3 563.4,610.3 564.2,610.3 565.0,610.2 565.8,610.2 566.6,610.2 567.4,610.2 568.2,610.2 569.0,610.2 569.8,610.3 570.6,610.3 571.4,610.4 572.2,610.4 573.0,610.4 573.8,610.4 574.6,610.5 575.4,610.5 576.2,610.5 577.0,610.5 577.8,610.5 578.6,610.6 579.4,610.6 580.2,610.6 581.0,610.6 581.8,610.6 582.6,610.6 583.4,610.6 584.2,610.6 585.0,610.7 585.8,610.7 586.6,610.7 587.4,610.8 588.2,610.8 589.0,610.8 589.8,610.8 590.6,610.8 591.4,610.7 592.2,610.6 593.0,610.6 593.8,610.6 594.6,610.5 595.4,610.5 596.2,610.5 597.0,610.5 597.8,610.5 598.6,610.6 599.4,610.6 600.2,610.6 601.0,610.6 601.8,610.6 602.6,610.6 603.4,610.6 604.2,610.6 605.0,610.6 605.8,610.6 606.6,610.6 607.4,610.6 608.2,610.6 609.0,610.5 609.8,610.5 610.6,610.5 611.4,610.5 612.2,610.5 613.0,610.5 613.8,610.6 614.6,610.6 615.4,610.7 616.2,610.7 617.0,610.8 617.8,610.8 618.6,610.8 619.4,610.8 620.2,610.8 621.0,610.8 621.8,610.8 622.6,610.8 623.4,610.8 624.2,610.8 625.0,610.8 625.8,610.8 626.6,610.8 627.4,610.8 628.2,610.8 629.0,610.8 629.8,610.8 630.6,610.8 631.4,610.8 632.2,610.8 633.0,610.8 633.8,610.8 634.6,610.8 635.4,610.8 636.2,610.7 637.0,610.7 637.8,610.7 638.6,610.7 639.4,610.6 640.2,610.6 641.0,610.6 641.8,610.6 642.6,610.6 643.4,610.7 644.2,610.7 645.0,610.7 645.8,610.7 646.6,610.7 647.4,610.7 648.2,610.7 649.0,610.7 649.8,610.7 650.6,610.7 651.4,610.7 652.2,610.7 653.0,610.7 653.8,610.7 654.6,610.8 655.4,610.8 656.2,610.8 657.0,610.8 657.8,610.8 658.6,610.8 659.4,610.8 660.2,610.8 661.0,610.7 661.8,610.7 662.6,610.7 663.4,610.7 664.2,610.7 665.0,610.7 665.8,610.8 666.6,610.8 667.4,610.8 668.2,610.8 669.0,610.8 669.8,610.8 670.6,610.8 671.4,610.8 672.2,610.8 673.0,610.8 673.8,610.8 674.6,610.8 675.4,610.8 676.2,610.8 677.0,610.8 677.8,610.8 678.6,610.9 679.4,610.9 680.2,610.9 681.0,610.9 681.8,610.9 682.6,610.8 683.4,610.8 684.2,610.8 685.0,610.8 685.8,610.8 686.6,610.8 687.4,610.8 688.2,610.8 689.0,610.8 689.8,610.8 690.6,610.7 691.4,610.7 692.2,610.7 693.0,610.7 693.8,610.7 694.6,610.7 695.4,610.7 696.2,610.7 697.0,610.7 697.8,610.7 698.6,610.7 699.4,610.7 700.2,610.7 701.0,610.7 701.8,610.7 702.6,610.7 703.4,610.7 704.2,610.7 705.0,610.7 705.8,610.7 706.6,610.7 707.4,610.8 708.2,610.8 709.0,610.8 709.8,610.8 710.6,610.8 711.4,610.8 712.2,610.8 713.0,610.8 713.8,610.8 714.6,610.8 715.4,610.8 716.2,610.8 717.0,610.8 717.8,610.8 718.6,610.8 719.4,610.8 720.2,610.8 721.0,610.8 721.8,610.8 722.6,610.8 723.4,610.8 724.2,610.8 725.0,610.8 725.8,610.8 726.6,610.8 727.4,610.8 728.2,610.8 729.0,610.8 729.8,610.8 730.6,610.9 731.4,610.9 732.2,610.8 733.0,610.8 733.8,610.8 734.6,610.8 735.4,610.8 736.2,610.7 737.0,610.7 737.8,610.7 738.6,610.7 739.4,610.7 740.2,610.7 741.0,610.7 741.8,610.7 742.6,610.7 743.4,610.7 744.2,610.7 745.0,610.7 745.8,610.7 746.6,610.7 747.4,610.8 748.2,610.8 749.0,610.8 749.8,610.8 750.6,610.9 751.4,610.9 752.2,610.9 753.0,610.9 753.8,610.9 754.6,610.9 755.4,610.9 756.2,610.9 757.0,610.9 757.8,610.9 758.6,610.8 759.4,610.8 760.2,610.8 761.0,610.8 761.8,610.8 762.6,610.8 763.4,610.8 764.2,610.8 765.0,610.8 765.8,610.8 766.6,610.8 767.4,610.8 768.2,610.7 769.0,610.7 769.8,610.7 770.6,610.7 771.4,610.7 772.2,610.7 773.0,610.7 773.8,610.6 774.6,610.6 775.4,610.6 776.2,610.5 777.0,610.6 777.8,610.6 778.6,610.6 779.4,610.6 780.2,610.6 781.0,610.6 781.8,610.6 782.6,610.6 783.4,610.6 784.2,610.6 785.0,610.6 785.8,610.6 786.6,610.6 787.4,610.6 788.2,610.6 789.0,610.6 789.8,610.6 790.6,610.6 791.4,610.6 792.2,610.5 793.0,610.5 793.8,610.5 794.6,610.5 795.4,610.5 796.2,610.5 797.0,610.5 797.8,610.5 798.6,610.5 799.4,610.6 800.2,610.6 801.0,610.6 801.8,610.6 802.6,610.6 803.4,610.6 804.2,610.5 805.0,610.5 805.8,610.5 806.6,610.5 807.4,610.5 808.2,610.5 809.0,610.5 809.8,610.6 810.6,610.6 811.4,610.6 812.2,610.7 813.0,610.7 813.8,610.7 814.6,610.8 815.4,610.8 816.2,610.7 817.0,610.7 817.8,610.7 818.6,610.7 819.4,610.8 820.2,610.8 821.0,610.8 821.8,610.8 822.6,610.8 823.4,610.8 824.2,610.8 825.0,610.8 825.8,610.8 826.6,610.8 827.4,610.8 828.2,610.8 829.0,610.7 829.8,610.7 830.6,610.7 831.4,610.7 832.2,610.7 833.0,610.6 833.8,610.6 834.6,610.6 835.4,610.5 836.2,610.5 837.0,610.5 837.8,610.5 838.6,610.5 839.4,610.5 840.2,610.5 841.0,610.5 841.8,610.5 842.6,610.5 843.4,610.6 844.2,610.6 845.0,610.6 845.8,610.6 846.6,610.6 847.4,610.6 848.2,610.6 849.0,610.6 849.8,610.6 850.6,610.6 851.4,610.5 852.2,610.5 853.0,610.5 853.8,610.6 854.6,610.6 855.4,610.6 856.2,610.6 857.0,610.6 857.8,610.7 858.6,610.7 859.4,610.7 860.2,610.7 861.0,610.7 861.8,610.7 862.6,610.7 863.4,610.7 864.2,610.7 865.0,610.7 865.8,610.7 866.6,610.7 867.4,610.7 868.2,610.7 869.0,610.7 869.8,610.7 870.6,610.7 871.4,610.7 872.2,610.7 873.0,610.8 873.8,610.8 874.6,610.8 875.4,610.8 876.2,610.8 877.0,610.8 877.8,610.8 878.6,610.7 879.4,610.7 880.2,610.7 881.0,610.7 881.8,610.7 882.6,610.7 883.4,610.7 884.2,610.7 885.0,610.7 885.8,610.7 886.6,610.7 887.4,610.7 888.2,610.7 889.0,610.7 889.8,610.6 890.6,610.6 891.4,610.6 892.2,610.6 893.0,610.6 893.8,610.6 894.6,610.5 895.4,610.5 896.2,610.5 897.0,610.5 897.8,610.5 898.6,610.5 899.4,610.5 900.2,610.5 901.0,610.5 901.8,610.6 902.6,610.6 903.4,610.7 904.2,610.7 905.0,610.7 905.8,610.8 906.6,610.8 907.4,610.8 908.2,610.8 909.0,610.8 909.8,610.8 910.6,610.8 911.4,610.8 912.2,610.8 913.0,610.8 913.8,610.7 914.6,610.7 915.4,610.7 916.2,610.6 917.0,610.6 917.8,610.5 918.6,610.4 919.4,610.4 920.2,610.3 921.0,610.2 921.8,610.1 922.6,609.9 923.4,609.8 924.2,609.6 925.0,609.5 925.8,609.4 926.6,609.4 927.4,609.3 928.2,609.3 929.0,609.3 929.8,609.3 930.6,609.4 931.4,609.5 932.2,609.6 933.0,609.7 933.8,609.8 934.6,610.0 935.4,610.1 936.2,610.3 937.0,610.4 937.8,610.6 938.6,610.6 939.4,610.7 940.2,610.7 941.0,610.7 941.8,610.7 942.6,610.7 943.4,610.7 944.2,610.7 945.0,610.8 945.8,610.7 946.6,610.7 947.4,610.6 948.2,610.5 949.0,610.3 949.8,610.2 950.6,610.0 951.4,609.9 952.2,609.7 953.0,609.5 953.8,609.4 954.6,609.3 955.4,609.2 956.2,609.2 957.0,609.2 957.8,609.3 958.6,609.3 959.4,609.4 960.2,609.5 961.0,609.6 961.8,609.7 962.6,609.9 963.4,610.0 964.2,610.2 965.0,610.3 965.8,610.4 966.6,610.5 967.4,610.6 968.2,610.7 969.0,610.7 969.8,610.8 970.6,610.9 971.4,610.9 972.2,611.0 973.0,611.0 973.8,611.0 974.6,611.0 975.4,611.1 976.2,611.1 977.0,611.1 977.8,611.0 978.6,611.0 979.4,610.9 980.2,610.7 981.0,610.6 981.8,610.4 982.6,610.2 983.4,610.0 984.2,609.9 985.0,609.8 985.8,609.7 986.6,609.6 987.4,609.6 988.2,609.6 989.0,609.6 989.8,609.7 990.6,609.7 991.4,609.8 992.2,609.9 993.0,610.0 993.8,610.2 994.6,610.3 995.4,610.4 996.2,610.6 997.0,610.6 997.8,610.7 998.6,610.7 999.4,610.7 1000.2,610.6 1001.0,610.5 1001.8,610.3 1002.6,610.2 1003.4,610.0 1004.2,609.9 1005.0,609.7 1005.8,609.6 1006.6,609.5 1007.4,609.4 1008.2,609.3 1009.0,609.2 1009.8,609.1 1010.6,609.1 1011.4,609.0 1012.2,609.1 1013.0,609.1 1013.8,609.2 1014.6,609.4 1015.4,609.5 1016.2,609.6 1017.0,609.7 1017.8,609.8 1018.6,610.0 1019.4,610.1 1020.2,610.2 1021.0,610.4 1021.8,610.5 1022.6,610.6 1023.4,610.7 1024.2,610.8 1025.0,610.9 1025.8,611.0 1026.6,611.1 1027.4,611.2 1028.2,611.3 1029.0,611.3 1029.8,611.3 1030.6,611.2 1031.4,611.2 1032.2,611.1 1033.0,611.1 1033.8,611.0 1034.6,611.0 1035.4,611.0 1036.2,611.0 1037.0,611.0 1037.8,611.1 1038.6,611.1 1039.4,611.1 1040.2,611.1 1041.0,611.1 1041.8,611.1 1042.6,611.2 1043.4,611.2 1044.2,611.2 1045.0,611.2 1045.8,611.1 1046.6,611.1 1047.4,611.0 1048.2,611.0 1049.0,610.9 1049.8,610.9 1050.6,610.9 1051.4,610.8 1052.2,610.8 1053.0,610.9 1053.8,610.9 1054.6,610.9 1055.4,610.9 1056.2,610.9 1057.0,610.9 1057.8,610.9 1058.6,610.9 1059.4,610.9 1060.2,610.9 1061.0,610.9 1061.8,610.9 1062.6,610.9 1063.4,610.9 1064.2,610.9 1065.0,610.7 1065.8,610.6 1066.6,610.2 1067.4,609.5 1068.2,608.2 1069.0,606.2 1069.8,604.0 1070.6,602.4 1071.4,602.4 1072.2,604.1 1073.0,606.3 1073.8,608.2 1074.6,609.3 1075.4,609.6 1076.2,609.3 1077.0,608.8 1077.8,608.2 1078.6,608.0 1079.4,608.3 1080.2,608.8 1081.0,609.4 1081.8,609.8 1082.6,610.1 1083.4,610.2 1084.2,610.3 1085.0,610.5 1085.8,610.6 1086.6,610.7 1087.4,610.7 1088.2,610.7 1089.0,610.7 1089.8,610.7 1090.6,610.8 1091.4,610.8 1092.2,610.9 1093.0,611.0 1093.8,611.1 1094.6,611.2 1095.4,611.2 1096.2,611.2 1097.0,611.2 1097.8,611.2 1098.6,611.1 1099.4,611.2 1100.2,611.2 1101.0,611.2 1101.8,611.2 1102.6,611.1 1103.4,611.1 1104.2,611.0 1105.0,610.9 1105.8,610.8 1106.6,610.7 1107.4,610.7 1108.2,610.7 1109.0,610.6 1109.8,610.6 1110.6,610.4 1111.4,609.9 1112.2,608.6 1113.0,605.7 1113.8,600.3 1114.6,593.2 1115.4,587.1 1116.2,586.1 1117.0,591.0 1117.8,598.1 1118.6,603.9 1119.4,607.3 1120.2,608.9 1121.0,609.5 1121.8,609.8 1122.6,609.9 1123.4,610.0 1124.2,610.1 1125.0,610.1 1125.8,610.1 1126.6,610.0 1127.4,609.7 1128.2,609.2 1129.0,607.9 1129.8,605.2 1130.6,600.8 1131.4,594.8 1132.2,589.0 1133.0,586.6 1133.8,587.9 1134.6,591.1 1135.4,595.2 1136.2,599.3 1137.0,602.8 1137.8,605.6 1138.6,607.5 1139.4,608.7 1140.2,609.4 1141.0,609.8 1141.8,610.0 1142.6,610.0 1143.4,609.9 1144.2,609.8 1145.0,609.7 1145.8,609.5 1146.6,609.4 1147.4,609.3 1148.2,609.3 1149.0,609.3 1149.8,609.3 1150.6,609.3 1151.4,609.3 1152.2,609.3 1153.0,609.3 1153.8,609.2 1154.6,609.1 1155.4,609.0 1156.2,608.8 1157.0,608.7 1157.8,608.5 1158.6,608.2 1159.4,608.0 1160.2,607.8 1161.0,607.5 1161.8,607.4 1162.6,607.2 1163.4,607.0 1164.2,606.9 1165.0,606.7 1165.8,606.7 1166.6,606.7 1167.4,606.8 1168.2,607.0 1169.0,607.2 1169.8,607.5 1170.6,607.8 1171.4,608.1 1172.2,608.3 1173.0,608.5 1173.8,608.7 1174.6,608.8 1175.4,608.9 1176.2,609.1 1177.0,609.2 1177.8,609.2 1178.6,609.2 1179.4,609.2 1180.2,609.2 1181.0,609.2 1181.8,609.1 1182.6,609.1 1183.4,609.1 1184.2,609.1 1185.0,609.1 1185.8,609.0 1186.6,609.0 1187.4,608.9 1188.2,608.9 1189.0,608.9 1189.8,608.9 1190.6,608.9 1191.4,608.9 1192.2,609.0 1193.0,609.0 1193.8,609.0 1194.6,609.0 1195.4,609.0 1196.2,608.9 1197.0,608.7 1197.8,608.6 1198.6,608.5 1199.4,608.5 1200.2,608.5 1201.0,608.5 1201.8,608.6 1202.6,608.7 1203.4,608.8 1204.2,608.9 1205.0,609.0 1205.8,609.1 1206.6,609.2 1207.4,609.3 1208.2,609.4 1209.0,609.6 1209.8,609.7 1210.6,609.8 1211.4,609.8 1212.2,609.7 1213.0,609.5 1213.8,609.3 1214.6,609.1 1215.4,608.9 1216.2,608.9 1217.0,608.8 1217.8,608.8 1218.6,608.8 1219.4,608.7 1220.2,608.6 1221.0,608.5 1221.8,608.3 1222.6,608.2 1223.4,608.2 1224.2,608.2 1225.0,608.2 1225.8,608.3 1226.6,608.4 1227.4,608.4 1228.2,608.5 1229.0,608.5 1229.8,608.6 1230.6,608.6 1231.4,608.7 1232.2,608.7 1233.0,608.7 1233.8,608.7 1234.6,608.7 1235.4,608.7 1236.2,608.7 1237.0,608.6 1237.8,608.6 1238.6,608.6 1239.4,608.5 1240.2,608.4 1241.0,608.2 1241.8,607.8 1242.6,607.4 1243.4,606.8 1244.2,606.3 1245.0,605.9 1245.8,605.7 1246.6,605.7 1247.4,605.9 1248.2,606.3 1249.0,606.6 1249.8,606.9 1250.6,607.1 1251.4,607.2 1252.2,607.2 1253.0,607.0 1253.8,606.8 1254.6,606.5 1255.4,606.2 1256.2,606.1 1257.0,606.1 1257.8,606.3 1258.6,606.7 1259.4,607.2 1260.2,607.7 1261.0,608.2 1261.8,608.7 1262.6,609.0 1263.4,609.3 1264.2,609.5 1265.0,609.5 1265.8,609.5 1266.6,609.4 1267.4,609.3 1268.2,609.3 1269.0,609.3 1269.8,609.4 1270.6,609.5 1271.4,609.5 1272.2,609.5 1273.0,609.5 1273.8,609.4 1274.6,609.3 1275.4,609.2 1276.2,609.1 1277.0,609.1 1277.8,609.0 1278.6,609.0 1279.4,608.9 1280.2,608.9 1281.0,608.8 1281.8,608.8 1282.6,608.7 1283.4,608.6 1284.2,608.5 1285.0,608.2 1285.8,607.9 1286.6,607.5 1287.4,606.9 1288.2,606.3 1289.0,605.6 1289.8,604.9 1290.6,604.3 1291.4,603.8 1292.2,603.6 1293.0,603.7 1293.8,604.1 1294.6,604.5 1295.4,605.1 1296.2,605.7 1297.0,606.2 1297.8,606.6 1298.6,607.0 1299.4,607.3 1300.2,607.5 1301.0,607.7 1301.8,607.8 1302.6,607.9 1303.4,607.7 1304.2,607.4 1305.0,606.6 1305.8,605.4 1306.6,603.7 1307.4,601.6 1308.2,599.7 1309.0,598.4 1309.8,598.6 1310.6,600.0 1311.4,602.1 1312.2,604.4 1313.0,606.2 1313.8,607.6 1314.6,608.4 1315.4,608.8 1316.2,608.9 1317.0,608.6 1317.8,608.1 1318.6,607.5 1319.4,607.1 1320.2,607.1 1321.0,607.5 1321.8,608.0 1322.6,608.5 1323.4,608.8 1324.2,609.0 1325.0,609.1 1325.8,609.1 1326.6,609.1 1327.4,609.0 1328.2,609.0 1329.0,608.9 1329.8,608.8 1330.6,608.7 1331.4,608.6 1332.2,608.5 1333.0,608.5 1333.8,608.5 1334.6,608.5 1335.4,608.6 1336.2,608.7 1337.0,608.7 1337.8,608.7 1338.6,608.7 1339.4,608.8 1340.2,608.8 1341.0,608.9 1341.8,609.1 1342.6,609.2 1343.4,609.3 1344.2,609.3 1345.0,609.3 1345.8,609.3 1346.6,609.2 1347.4,609.1 1348.2,609.1 1349.0,609.0 1349.8,609.0 1350.6,609.1 1351.4,609.1 1352.2,609.1 1353.0,609.1 1353.8,608.9 1354.6,608.6 1355.4,608.1 1356.2,607.3 1357.0,606.4 1357.8,605.3 1358.6,604.4 1359.4,603.9 1360.2,603.9 1361.0,604.6 1361.8,605.6 1362.6,606.6 1363.4,607.6 1364.2,608.3 1365.0,608.8 1365.8,609.1 1366.6,609.2 1367.4,609.2 1368.2,609.1 1369.0,609.1 1369.8,609.1 1370.6,609.1 1371.4,609.2 1372.2,609.2 1373.0,609.3 1373.8,609.3 1374.6,609.4 1375.4,609.4 1376.2,609.5 1377.0,609.6 1377.8,609.6 1378.6,609.6 1379.4,609.6 1380.2,609.4 1381.0,609.3 1381.8,609.1 1382.6,609.0 1383.4,608.9 1384.2,608.8 1385.0,608.7 1385.8,608.6 1386.6,608.6 1387.4,608.6 1388.2,608.6 1389.0,608.8 1389.8,608.9 1390.6,609.1 1391.4,609.2 1392.2,609.3 1393.0,609.4 1393.8,609.4 1394.6,609.4 1395.4,609.3 1396.2,609.2 1397.0,609.1 1397.8,609.0 1398.6,608.9 1399.4,608.7 1400.2,608.6 1401.0,608.6 1401.8,608.5 1402.6,608.5 1403.4,608.5 1404.2,608.4 1405.0,608.4 1405.8,608.4 1406.6,608.3 1407.4,608.2 1408.2,608.0 1409.0,607.9 1409.8,607.7 1410.6,607.5 1411.4,607.2 1412.2,606.7 1413.0,606.0 1413.8,604.9 1414.6,603.4 1415.4,601.4 1416.2,599.0 1417.0,596.2 1417.8,593.1 1418.6,589.9 1419.4,586.6 1420.2,583.6 1421.0,581.0 1421.8,579.1 1422.6,577.8 1423.4,577.4 1424.2,577.9 1425.0,579.2 1425.8,581.2 1426.6,583.8 1427.4,586.8 1428.2,589.8 1429.0,592.9 1429.8,595.8 1430.6,598.4 1431.4,600.6 1432.2,602.5 1433.0,604.0 1433.8,605.1 1434.6,605.9 1435.4,606.4 1436.2,606.7 1437.0,606.8 1437.8,606.6 1438.6,606.3 1439.4,605.8 1440.2,605.1 1441.0,603.9 1441.8,601.9 1442.6,598.0 1443.4,590.7 1444.2,577.8 1445.0,558.0 1445.8,532.8 1446.6,508.5 1447.4,496.6 1448.2,504.8 1449.0,526.6 1449.8,551.4 1450.6,572.3 1451.4,586.9 1452.2,595.7 1453.0,600.5 1453.8,603.0 1454.6,604.4 1455.4,605.3 1456.2,605.9 1457.0,606.4 1457.8,606.9 1458.6,607.3 1459.4,607.7 1460.2,608.0 1461.0,608.3 1461.8,608.5 1462.6,608.6 1463.4,608.7 1464.2,608.7 1465.0,608.6 1465.8,608.6 1466.6,608.5 1467.4,608.5 1468.2,608.5 1469.0,608.6 1469.8,608.7 1470.6,608.9 1471.4,609.2 1472.2,609.4 1473.0,609.6 1473.8,609.7 1474.6,609.8 1475.4,609.6 1476.2,609.4 1477.0,609.1 1477.8,608.8 1478.6,608.6 1479.4,608.6 1480.2,608.7 1481.0,609.0 1481.8,609.3 1482.6,609.5 1483.4,609.7 1484.2,609.8 1485.0,609.7 1485.8,609.6 1486.6,609.3 1487.4,609.0 1488.2,608.7 1489.0,608.3 1489.8,608.0 1490.6,607.6 1491.4,607.3 1492.2,606.9 1493.0,606.6 1493.8,606.3 1494.6,605.9 1495.4,605.4 1496.2,605.0 1497.0,604.5 1497.8,604.0 1498.6,603.5 1499.4,602.9 1500.2,602.3 1501.0,601.7 1501.8,600.9 1502.6,600.0 1503.4,599.1 1504.2,598.0 1505.0,596.9 1505.8,595.7 1506.6,594.5 1507.4,593.3 1508.2,592.2 1509.0,591.1 1509.8,590.1 1510.6,589.3 1511.4,588.4 1512.2,587.8 1513.0,587.3 1513.8,587.5 1514.6,589.3 1515.4,591.8 1516.2,594.7 1517.0,597.5 1517.8,600.2 1518.6,602.5 1519.4,604.3 1520.2,605.8 1521.0,606.9 1521.8,607.8 1522.6,608.4 1523.4,608.8 1524.2,609.1 1525.0,609.4 1525.8,609.6 1526.6,609.7 1527.4,609.8 1528.2,609.9 1529.0,610.1 1529.8,610.2 1530.6,610.3 1531.4,610.3 1532.2,610.4 1533.0,610.3 1533.8,610.3 1534.6,610.3 1535.4,610.2 1536.2,610.2 1537.0,610.1 1537.8,610.1 1538.6,610.0 1539.4,610.0 1540.2,610.0 1541.0,610.0 1541.8,610.1 1542.6,610.1 1543.4,610.1 1544.2,610.1 1545.0,610.0 1545.8,610.0 1546.6,609.9 1547.4,609.9 1548.2,609.8 1549.0,609.8 1549.8,609.7 1550.6,609.7 1551.4,609.3 1552.2,608.9 1553.0,608.5 1553.8,608.2 1554.6,607.9 1555.4,607.5 1556.2,607.7 1557.0,608.3 1557.8,608.9 1558.6,609.5 1559.4,610.1 1560.2,611.2 1561.0,612.6 1561.8,614.0 1562.6,615.4 1563.4,615.2 1564.2,613.9 1565.0,612.7 1565.8,611.4 1566.6,610.2 1567.4,609.1 1568.2,608.0 1569.0,606.9 1569.8,607.7 1570.6,609.6"/>
<polyline stroke="#008000" filter="url(#hardc)" points="60.0,781.6 73.0,781.6 73.8,781.6 74.6,781.6 75.4,781.6 76.2,781.6 77.0,781.6 77.8,781.6 78.6,781.6 79.4,781.6 80.2,781.6 81.0,781.5 81.8,781.5 82.6,781.5 83.4,781.5 84.2,781.5 85.0,781.5 85.8,781.5 86.6,781.5 87.4,781.5 88.2,781.5 89.0,781.5 89.8,781.5 90.6,781.4 91.4,781.4 92.2,781.4 93.0,781.4 93.8,781.4 94.6,781.2 95.4,781.3 96.2,781.4 97.0,781.4 97.8,781.5 98.6,781.5 99.4,781.5 100.2,781.4 101.0,781.4 101.8,781.4 102.6,781.4 103.4,781.4 104.2,781.4 105.0,781.5 105.8,781.5 106.6,781.5 107.4,781.5 108.2,781.5 109.0,781.5 109.8,781.5 110.6,781.5 111.4,781.5 112.2,781.5 113.0,781.6 113.8,781.6 114.6,781.7 115.4,781.7 116.2,781.7 117.0,781.7 117.8,781.6 118.6,781.6 119.4,781.5 120.2,781.5 121.0,781.5 121.8,781.5 122.6,781.5 123.4,781.6 124.2,781.6 125.0,781.6 125.8,781.6 126.6,781.5 127.4,781.5 128.2,781.4 129.0,781.4 129.8,781.4 130.6,781.4 131.4,781.5 132.2,781.5 133.0,781.6 133.8,781.6 134.6,781.7 135.4,781.7 136.2,781.8 137.0,781.8 137.8,781.9 138.6,781.9 139.4,781.8 140.2,781.8 141.0,781.7 141.8,781.7 142.6,781.6 143.4,781.6 144.2,781.6 145.0,781.5 145.8,781.5 146.6,781.5 147.4,781.5 148.2,781.6 149.0,781.6 149.8,781.6 150.6,781.6 151.4,781.6 152.2,781.6 153.0,781.6 153.8,781.6 154.6,781.6 155.4,781.6 156.2,781.6 157.0,781.7 157.8,781.7 158.6,781.8 159.4,781.8 160.2,781.8 161.0,781.9 161.8,781.9 162.6,781.9 163.4,781.9 164.2,781.9 165.0,781.9 165.8,781.9 166.6,781.8 167.4,781.8 168.2,781.8 169.0,781.8 169.8,781.8 170.6,781.8 171.4,781.9 172.2,781.9 173.0,781.9 173.8,781.9 174.6,782.0 175.4,782.0 176.2,782.1 177.0,782.1 177.8,782.1 178.6,782.1 179.4,782.1 180.2,782.1 181.0,782.1 181.8,782.1 182.6,782.2 183.4,782.2 184.2,782.3 185.0,782.3 185.8,782.3 186.6,782.3 187.4,782.2 188.2,782.1 189.0,782.0 189.8,781.9 190.6,781.9 191.4,781.8 192.2,781.7 193.0,781.7 193.8,781.7 194.6,781.7 195.4,781.7 196.2,781.7 197.0,781.8 197.8,781.8 198.6,781.8 199.4,781.8 200.2,781.9 201.0,781.9 201.8,781.9 202.6,781.9 203.4,781.9 204.2,781.9 205.0,781.9 205.8,781.9 206.6,781.8 207.4,781.7 208.2,781.6 209.0,781.4 209.8,781.3 210.6,781.2 211.4,781.1 212.2,781.1 213.0,781.1 213.8,781.1 214.6,781.2 215.4,781.3 216.2,781.4 217.0,781.4 217.8,781.5 218.6,781.5 219.4,781.6 220.2,781.6 221.0,781.6 221.8,781.7 222.6,781.7 223.4,781.7 224.2,781.7 225.0,781.7 225.8,781.7 226.6,781.7 227.4,781.7 228.2,781.7 229.0,781.7 229.8,781.7 230.6,781.7 231.4,781.8 232.2,781.8 233.0,781.8 233.8,781.8 234.6,781.8 235.4,781.8 236.2,781.8 237.0,781.8 237.8,781.8 238.6,781.8 239.4,781.8 240.2,781.8 241.0,781.8 241.8,781.8 242.6,781.9 243.4,781.9 244.2,781.9 245.0,781.9 245.8,781.9 246.6,781.9 247.4,781.9 248.2,781.9 249.0,781.8 249.8,781.8 250.6,781.8 251.4,781.7 252.2,781.6 253.0,781.6 253.8,781.5 254.6,781.5 255.4,781.4 256.2,781.4 257.0,781.3 257.8,781.3 258.6,781.4 259.4,781.4 260.2,781.5 261.0,781.5 261.8,781.6 262.6,781.6 263.4,781.6 264.2,781.5 265.0,781.5 265.8,781.5 266.6,781.5 267.4,781.5 268.2,781.5 269.0,781.5 269.8,781.5 270.6,781.5 271.4,781.5 272.2,781.5 273.0,781.4 273.8,781.4 274.6,781.4 275.4,781.4 276.2,781.4 277.0,781.4 277.8,781.4 278.6,781.4 279.4,781.4 280.2,781.3 281.0,781.3 281.8,781.3 282.6,781.3 283.4,781.3 284.2,781.3 285.0,781.3 285.8,781.3 286.6,781.3 287.4,781.3 288.2,781.4 289.0,781.4 289.8,781.4 290.6,781.4 291.4,781.5 292.2,781.5 293.0,781.5 293.8,781.5 294.6,781.5 295.4,781.5 296.2,781.5 297.0,781.5 297.8,781.5 298.6,781.5 299.4,781.5 300.2,781.5 301.0,781.5 301.8,781.4 302.6,781.5 303.4,781.5 304.2,781.4 305.0,781.4 305.8,781.4 306.6,781.4 307.4,781.4 308.2,781.4 309.0,781.4 309.8,781.5 310.6,781.5 311.4,781.5 312.2,781.5 313.0,781.4 313.8,781.4 314.6,781.4 315.4,781.4 316.2,781.4 317.0,781.4 317.8,781.4 318.6,781.4 319.4,781.4 320.2,781.5 321.0,781.5 321.8,781.5 322.6,781.5 323.4,781.5 324.2,781.5 325.0,781.5 325.8,781.5 326.6,781.4 327.4,781.4 328.2,781.4 329.0,781.4 329.8,781.4 330.6,781.4 331.4,781.4 332.2,781.5 333.0,781.5 333.8,781.5 334.6,781.5 335.4,781.6 336.2,781.6 337.0,781.6 337.8,781.6 338.6,781.6 339.4,781.6 340.2,781.6 341.0,781.5 341.8,781.5 342.6,781.5 343.4,781.5 344.2,781.5 345.0,781.5 345.8,781.5 346.6,781.5 347.4,781.5 348.2,781.4 349.0,781.4 349.8,781.4 350.6,781.5 351.4,781.5 352.2,781.5 353.0,781.5 353.8,781.6 354.6,781.6 355.4,781.6 356.2,781.6 357.0,781.6 357.8,781.6 358.6,781.6 359.4,781.6 360.2,781.6 361.0,781.6 361.8,781.6 362.6,781.6 363.4,781.6 364.2,781.5 365.0,781.5 365.8,781.5 366.6,781.5 367.4,781.5 368.2,781.5 369.0,781.4 369.8,781.4 370.6,781.4 371.4,781.4 372.2,781.4 373.0,781.4 373.8,781.4 374.6,781.4 375.4,781.4 376.2,781.5 377.0,781.5 377.8,781.5 378.6,781.5 379.4,781.6 380.2,781.6 381.0,781.6 381.8,781.6 382.6,781.6 383.4,781.6 384.2,781.6 385.0,781.6 385.8,781.6 386.6,781.6 387.4,781.5 388.2,781.5 389.0,781.5 389.8,781.5 390.6,781.4 391.4,781.4 392.2,781.4 393.0,781.5 393.8,781.5 394.6,781.5 395.4,781.5 396.2,781.5 397.0,781.5 397.8,781.6 398.6,781.6 399.4,781.6 400.2,781.6 401.0,781.6 401.8,781.6 402.6,781.6 403.4,781.6 404.2,781.6 405.0,781.6 405.8,781.6 406.6,781.6 407.4,781.6 408.2,781.6 409.0,781.6 409.8,781.6 410.6,781.6 411.4,781.6 412.2,781.7 413.0,781.7 413.8,781.7 414.6,781.7 415.4,781.7 416.2,781.7 417.0,781.6 417.8,781.6 418.6,781.6 419.4,781.6 420.2,781.6 421.0,781.6 421.8,781.6 422.6,781.6 423.4,781.6 424.2,781.6 425.0,781.6 425.8,781.6 426.6,781.5 427.4,781.5 428.2,781.5 429.0,781.5 429.8,781.5 430.6,781.5 431.4,781.6 432.2,781.6 433.0,781.6 433.8,781.6 434.6,781.6 435.4,781.6 436.2,781.5 437.0,781.5 437.8,781.5 438.6,781.4 439.4,781.4 440.2,781.4 441.0,781.3 441.8,781.3 442.6,781.2 443.4,781.2 444.2,781.2 445.0,781.2 445.8,781.2 446.6,781.2 447.4,781.2 448.2,781.2 449.0,781.1 449.8,780.8 450.6,780.3 451.4,779.6 452.2,778.7 453.0,777.7 453.8,776.9 454.6,776.4 455.4,776.5 456.2,777.0 457.0,777.8 457.8,778.5 458.6,778.9 459.4,778.8 460.2,778.2 461.0,777.0 461.8,775.5 462.6,774.0 463.4,773.0 464.2,772.7 465.0,773.4 465.8,774.7 466.6,776.3 467.4,777.8 468.2,779.0 469.0,779.8 469.8,780.2 470.6,780.4 471.4,780.2 472.2,779.7 473.0,778.7 473.8,777.1 474.6,774.7 475.4,771.7 476.2,768.3 477.0,765.3 477.8,763.5 478.6,763.5 479.4,765.3 480.2,768.3 481.0,771.6 481.8,774.4 482.6,776.5 483.4,777.8 484.2,778.4 485.0,778.5 485.8,778.3 486.6,778.0 487.4,777.8 488.2,777.8 489.0,777.9 489.8,778.3 490.6,778.8 491.4,779.3 492.2,779.8 493.0,780.2 493.8,780.5 494.6,780.8 495.4,780.9 496.2,780.9 497.0,780.9 497.8,780.8 498.6,780.7 499.4,780.6 500.2,780.5 501.0,780.4 501.8,780.4 502.6,780.3 503.4,780.2 504.2,780.1 505.0,780.0 505.8,779.8 506.6,779.6 507.4,779.2 508.2,778.8 509.0,778.2 509.8,777.5 510.6,776.6 511.4,775.5 512.2,774.2 513.0,772.7 513.8,770.9 514.6,769.0 515.4,766.9 516.2,764.8 517.0,762.8 517.8,760.9 518.6,759.3 519.4,758.1 520.2,757.5 521.0,757.4 521.8,757.8 522.6,758.7 523.4,759.8 524.2,761.2 525.0,762.7 525.8,764.4 526.6,766.1 527.4,767.8 528.2,769.5 529.0,771.0 529.8,772.4 530.6,773.7 531.4,774.9 532.2,775.9 533.0,776.7 533.8,777.5 534.6,778.2 535.4,778.7 536.2,779.2 537.0,779.6 537.8,779.9 538.6,780.1 539.4,780.2 540.2,780.2 541.0,780.3 541.8,780.2 542.6,780.1 543.4,779.8 544.2,779.4 545.0,778.9 545.8,778.1 546.6,777.1 547.4,775.9 548.2,774.6 549.0,773.4 549.8,772.3 550.6,771.6 551.4,771.3 552.2,771.7 553.0,772.6 553.8,773.9 554.6,775.3 555.4,776.7 556.2,778.0 557.0,779.0 557.8,779.8 558.6,780.4 559.4,780.8 560.2,781.0 561.0,781.2 561.8,781.3 562.6,781.4 563.4,781.5 564.2,781.5 565.0,781.5 565.8,781.5 566.6,781.5 567.4,781.5 568.2,781.5 569.0,781.4 569.8,781.5 570.6,781.5 571.4,781.5 572.2,781.6 573.0,781.6 573.8,781.6 574.6,781.6 575.4,781.6 576.2,781.6 577.0,781.6 577.8,781.6 578.6,781.6 579.4,781.6 580.2,781.6 581.0,781.6 581.8,781.6 582.6,781.5 583.4,781.5 584.2,781.5 585.0,781.5 585.8,781.5 586.6,781.5 587.4,781.5 588.2,781.5 589.0,781.5 589.8,781.5 590.6,781.5 591.4,781.5 592.2,781.5 593.0,781.5 593.8,781.5 594.6,781.5 595.4,781.5 596.2,781.5 597.0,781.5 597.8,781.5 598.6,781.5 599.4,781.5 600.2,781.5 601.0,781.4 601.8,781.4 602.6,781.4 603.4,781.4 604.2,781.4 605.0,781.3 605.8,781.3 606.6,781.3 607.4,781.3 608.2,781.3 609.0,781.3 609.8,781.4 610.6,781.4 611.4,781.4 612.2,781.4 613.0,781.4 613.8,781.4 614.6,781.4 615.4,781.4 616.2,781.4 617.0,781.5 617.8,781.5 618.6,781.5 619.4,781.5 620.2,781.6 621.0,781.6 621.8,781.6 622.6,781.6 623.4,781.6 624.2,781.7 625.0,781.7 625.8,781.7 626.6,781.7 627.4,781.7 628.2,781.6 629.0,781.6 629.8,781.5 630.6,781.5 631.4,781.4 632.2,781.4 633.0,781.4 633.8,781.5 634.6,781.5 635.4,781.5 636.2,781.6 637.0,781.6 637.8,781.6 638.6,781.6 639.4,781.6 640.2,781.6 641.0,781.6 641.8,781.6 642.6,781.6 643.4,781.6 644.2,781.6 645.0,781.6 645.8,781.6 646.6,781.6 647.4,781.6 648.2,781.6 649.0,781.5 649.8,781.5 650.6,781.5 651.4,781.5 652.2,781.5 653.0,781.5 653.8,781.6 654.6,781.6 655.4,781.6 656.2,781.6 657.0,781.6 657.8,781.6 658.6,781.6 659.4,781.6 660.2,781.7 661.0,781.7 661.8,781.7 662.6,781.7 663.4,781.7 664.2,781.7 665.0,781.7 665.8,781.7 666.6,781.7 667.4,781.7 668.2,781.7 669.0,781.7 669.8,781.7 670.6,781.7 671.4,781.7 672.2,781.7 673.0,781.7 673.8,781.7 674.6,781.7 675.4,781.7 676.2,781.7 677.0,781.8 677.8,781.8 678.6,781.8 679.4,781.8 680.2,781.8 681.0,781.8 681.8,781.8 682.6,781.8 683.4,781.8 684.2,781.8 685.0,781.8 685.8,781.7 686.6,781.7 687.4,781.7 688.2,781.7 689.0,781.7 689.8,781.7 690.6,781.7 691.4,781.7 692.2,781.7 693.0,781.6 693.8,781.6 694.6,781.6 695.4,781.6 696.2,781.6 697.0,781.6 697.8,781.6 698.6,781.6 699.4,781.6 700.2,781.6 701.0,781.7 701.8,781.7 702.6,781.7 703.4,781.6 704.2,781.6 705.0,781.6 705.8,781.6 706.6,781.6 707.4,781.5 708.2,781.6 709.0,781.6 709.8,781.6 710.6,781.6 711.4,781.6 712.2,781.6 713.0,781.6 713.8,781.7 714.6,781.7 715.4,781.7 716.2,781.7 717.0,781.7 717.8,781.7 718.6,781.7 719.4,781.7 720.2,781.7 721.0,781.7 721.8,781.7 722.6,781.7 723.4,781.7 724.2,781.7 725.0,781.8 725.8,781.8 726.6,781.8 727.4,781.8 728.2,781.7 729.0,781.7 729.8,781.7 730.6,781.7 731.4,781.7 732.2,781.6 733.0,781.6 733.8,781.6 734.6,781.5 735.4,781.5 736.2,781.5 737.0,781.5 737.8,781.5 738.6,781.5 739.4,781.5 740.2,781.5 741.0,781.5 741.8,781.5 742.6,781.5 743.4,781.5 744.2,781.6 745.0,781.6 745.8,781.6 746.6,781.7 747.4,781.7 748.2,781.7 749.0,781.7 749.8,781.7 750.6,781.7 751.4,781.7 752.2,781.7 753.0,781.6 753.8,781.6 754.6,781.6 755.4,781.6 756.2,781.5 757.0,781.5 757.8,781.5 758.6,781.5 759.4,781.5 760.2,781.5 761.0,781.5 761.8,781.5 762.6,781.5 763.4,781.5 764.2,781.5 765.0,781.5 765.8,781.5 766.6,781.5 767.4,781.6 768.2,781.6 769.0,781.6 769.8,781.6 770.6,781.6 771.4,781.6 772.2,781.6 773.0,781.6 773.8,781.6 774.6,781.5 775.4,781.5 776.2,781.5 777.0,781.5 777.8,781.5 778.6,781.5 779.4,781.6 780.2,781.6 781.0,781.6 781.8,781.5 782.6,781.5 783.4,781.5 784.2,781.5 785.0,781.5 785.8,781.5 786.6,781.5 787.4,781.5 788.2,781.5 789.0,781.4 789.8,781.4 790.6,781.4 791.4,781.4 792.2,781.4 793.0,781.4 793.8,781.4 794.6,781.4 795.4,781.4 796.2,781.5 797.0,781.5 797.8,781.5 798.6,781.5 799.4,781.5 800.2,781.5 801.0,781.5 801.8,781.5 802.6,781.4 803.4,781.4 804.2,781.4 805.0,781.4 805.8,781.4 806.6,781.4 807.4,781.5 808.2,781.5 809.0,781.5 809.8,781.5 810.6,781.5 811.4,781.5 812.2,781.5 813.0,781.5 813.8,781.4 814.6,781.4 815.4,781.4 816.2,781.4 817.0,781.5 817.8,781.5 818.6,781.5 819.4,781.6 820.2,781.6 821.0,781.6 821.8,781.6 822.6,781.6 823.4,781.5 824.2,781.5 825.0,781.5 825.8,781.5 826.6,781.5 827.4,781.5 828.2,781.5 829.0,781.5 829.8,781.5 830.6,781.6 831.4,781.6 832.2,781.6 833.0,781.6 833.8,781.6 834.6,781.6 835.4,781.6 836.2,781.7 837.0,781.6 837.8,781.6 838.6,781.6 839.4,781.6 840.2,781.6 841.0,781.6 841.8,781.6 842.6,781.6 843.4,781.6 844.2,781.6 845.0,781.6 845.8,781.6 846.6,781.6 847.4,781.6 848.2,781.6 849.0,781.6 849.8,781.6 850.6,781.6 851.4,781.6 852.2,781.7 853.0,781.7 853.8,781.7 854.6,781.7 855.4,781.7 856.2,781.7 857.0,781.7 857.8,781.7 858.6,781.7 859.4,781.7 860.2,781.7 861.0,781.7 861.8,781.7 862.6,781.6 863.4,781.6 864.2,781.6 865.0,781.6 865.8,781.6 866.6,781.6 867.4,781.6 868.2,781.6 869.0,781.6 869.8,781.6 870.6,781.6 871.4,781.6 872.2,781.6 873.0,781.7 873.8,781.7 874.6,781.6 875.4,781.6 876.2,781.6 877.0,781.6 877.8,781.6 878.6,781.5 879.4,781.5 880.2,781.5 881.0,781.5 881.8,781.5 882.6,781.5 883.4,781.5 884.2,781.5 885.0,781.5 885.8,781.6 886.6,781.6 887.4,781.6 888.2,781.6 889.0,781.6 889.8,781.6 890.6,781.6 891.4,781.6 892.2,781.5 893.0,781.5 893.8,781.5 894.6,781.5 895.4,781.5 896.2,781.5 897.0,781.5 897.8,781.6 898.6,781.6 899.4,781.6 900.2,781.6 901.0,781.6 901.8,781.7 902.6,781.7 903.4,781.7 904.2,781.7 905.0,781.7 905.8,781.7 906.6,781.7 907.4,781.6 908.2,781.6 909.0,781.6 909.8,781.6 910.6,781.6 911.4,781.6 912.2,781.6 913.0,781.5 913.8,781.5 914.6,781.5 915.4,781.4 916.2,781.3 917.0,781.3 917.8,781.2 918.6,781.0 919.4,780.9 920.2,780.8 921.0,780.6 921.8,780.4 922.6,780.2 923.4,779.9 924.2,779.7 925.0,779.5 925.8,779.3 926.6,779.3 927.4,779.2 928.2,779.3 929.0,779.4 929.8,779.5 930.6,779.7 931.4,779.9 932.2,780.2 933.0,780.4 933.8,780.7 934.6,780.9 935.4,781.1 936.2,781.3 937.0,781.4 937.8,781.4 938.6,781.5 939.4,781.5 940.2,781.6 941.0,781.6 941.8,781.7 942.6,781.7 943.4,781.7 944.2,781.7 945.0,781.7 945.8,781.6 946.6,781.6 947.4,781.5 948.2,781.4 949.0,781.3 949.8,781.1 950.6,780.9 951.4,780.7 952.2,780.5 953.0,780.2 953.8,780.0 954.6,779.8 955.4,779.6 956.2,779.5 957.0,779.4 957.8,779.3 958.6,779.3 959.4,779.4 960.2,779.5 961.0,779.7 961.8,779.9 962.6,780.2 963.4,780.4 964.2,780.6 965.0,780.8 965.8,781.0 966.6,781.1 967.4,781.3 968.2,781.4 969.0,781.5 969.8,781.6 970.6,781.6 971.4,781.6 972.2,781.6 973.0,781.5 973.8,781.5 974.6,781.4 975.4,781.4 976.2,781.3 977.0,781.3 977.8,781.1 978.6,781.0 979.4,780.9 980.2,780.7 981.0,780.5 981.8,780.4 982.6,780.2 983.4,780.1 984.2,780.0 985.0,779.8 985.8,779.8 986.6,779.7 987.4,779.8 988.2,779.8 989.0,779.9 989.8,780.1 990.6,780.2 991.4,780.3 992.2,780.5 993.0,780.6 993.8,780.8 994.6,780.9 995.4,781.1 996.2,781.2 997.0,781.4 997.8,781.5 998.6,781.6 999.4,781.6 1000.2,781.6 1001.0,781.5 1001.8,781.3 1002.6,781.1 1003.4,780.7 1004.2,780.4 1005.0,780.1 1005.8,779.8 1006.6,779.6 1007.4,779.4 1008.2,779.2 1009.0,779.1 1009.8,779.0 1010.6,778.9 1011.4,778.8 1012.2,778.8 1013.0,778.8 1013.8,778.8 1014.6,779.0 1015.4,779.2 1016.2,779.4 1017.0,779.6 1017.8,779.9 1018.6,780.0 1019.4,780.2 1020.2,780.3 1021.0,780.5 1021.8,780.6 1022.6,780.7 1023.4,780.8 1024.2,780.9 1025.0,781.0 1025.8,781.1 1026.6,781.2 1027.4,781.3 1028.2,781.3 1029.0,781.3 1029.8,781.3 1030.6,781.4 1031.4,781.5 1032.2,781.6 1033.0,781.7 1033.8,781.8 1034.6,781.8 1035.4,781.8 1036.2,781.7 1037.0,781.6 1037.8,781.5 1038.6,781.4 1039.4,781.3 1040.2,781.3 1041.0,781.3 1041.8,781.4 1042.6,781.4 1043.4,781.4 1044.2,781.4 1045.0,781.4 1045.8,781.4 1046.6,781.4 1047.4,781.5 1048.2,781.5 1049.0,781.6 1049.8,781.6 1050.6,781.6 1051.4,781.6 1052.2,781.6 1053.0,781.5 1053.8,781.5 1054.6,781.5 1055.4,781.4 1056.2,781.4 1057.0,781.4 1057.8,781.3 1058.6,781.3 1059.4,781.3 1060.2,781.3 1061.0,781.3 1061.8,781.4 1062.6,781.4 1063.4,781.4 1064.2,781.4 1065.0,781.4 1065.8,781.3 1066.6,780.8 1067.4,779.6 1068.2,777.4 1069.0,774.1 1069.8,770.4 1070.6,767.7 1071.4,767.7 1072.2,770.3 1073.0,773.9 1073.8,777.0 1074.6,778.8 1075.4,779.3 1076.2,779.0 1077.0,778.1 1077.8,777.4 1078.6,777.2 1079.4,777.8 1080.2,778.9 1081.0,780.0 1081.8,780.7 1082.6,781.2 1083.4,781.4 1084.2,781.5 1085.0,781.6 1085.8,781.6 1086.6,781.7 1087.4,781.8 1088.2,781.9 1089.0,781.9 1089.8,782.0 1090.6,782.0 1091.4,782.0 1092.2,781.9 1093.0,781.7 1093.8,781.5 1094.6,781.4 1095.4,781.3 1096.2,781.2 1097.0,781.1 1097.8,781.1 1098.6,781.1 1099.4,781.2 1100.2,781.2 1101.0,781.2 1101.8,781.2 1102.6,781.2 1103.4,781.2 1104.2,781.2 1105.0,781.2 1105.8,781.1 1106.6,781.1 1107.4,781.0 1108.2,780.9 1109.0,780.8 1109.8,780.6 1110.6,780.2 1111.4,779.5 1112.2,777.5 1113.0,773.0 1113.8,764.8 1114.6,753.8 1115.4,744.4 1116.2,743.0 1117.0,750.8 1117.8,762.1 1118.6,771.4 1119.4,776.9 1120.2,779.3 1121.0,780.2 1121.8,780.5 1122.6,780.5 1123.4,780.5 1124.2,780.4 1125.0,780.2 1125.8,780.1 1126.6,779.8 1127.4,779.4 1128.2,778.5 1129.0,776.5 1129.8,772.4 1130.6,765.4 1131.4,756.0 1132.2,746.9 1133.0,743.2 1133.8,745.2 1134.6,750.2 1135.4,756.7 1136.2,763.2 1137.0,768.8 1137.8,773.1 1138.6,776.0 1139.4,777.8 1140.2,778.8 1141.0,779.4 1141.8,779.6 1142.6,779.7 1143.4,779.7 1144.2,779.8 1145.0,779.8 1145.8,779.8 1146.6,779.8 1147.4,779.8 1148.2,779.9 1149.0,779.9 1149.8,779.9 1150.6,780.0 1151.4,779.9 1152.2,779.8 1153.0,779.7 1153.8,779.4 1154.6,779.2 1155.4,778.9 1156.2,778.7 1157.0,778.5 1157.8,778.3 1158.6,778.1 1159.4,777.9 1160.2,777.6 1161.0,777.2 1161.8,776.9 1162.6,776.5 1163.4,776.1 1164.2,775.8 1165.0,775.6 1165.8,775.4 1166.6,775.4 1167.4,775.5 1168.2,775.7 1169.0,776.0 1169.8,776.3 1170.6,776.7 1171.4,777.1 1172.2,777.4 1173.0,777.9 1173.8,778.3 1174.6,778.6 1175.4,779.0 1176.2,779.2 1177.0,779.5 1177.8,779.6 1178.6,779.7 1179.4,779.7 1180.2,779.8 1181.0,779.8 1181.8,779.8 1182.6,779.8 1183.4,779.8 1184.2,779.9 1185.0,779.9 1185.8,779.9 1186.6,780.0 1187.4,780.0 1188.2,780.0 1189.0,780.0 1189.8,780.0 1190.6,779.9 1191.4,779.9 1192.2,779.8 1193.0,779.8 1193.8,779.8 1194.6,779.9 1195.4,779.9 1196.2,779.9 1197.0,779.9 1197.8,779.8 1198.6,779.7 1199.4,779.6 1200.2,779.5 1201.0,779.4 1201.8,779.3 1202.6,779.3 1203.4,779.3 1204.2,779.3 1205.0,779.4 1205.8,779.6 1206.6,779.7 1207.4,779.8 1208.2,780.0 1209.0,780.1 1209.8,780.1 1210.6,780.1 1211.4,780.1 1212.2,780.1 1213.0,780.0 1213.8,780.0 1214.6,780.0 1215.4,780.1 1216.2,780.2 1217.0,780.3 1217.8,780.3 1218.6,780.3 1219.4,780.3 1220.2,780.3 1221.0,780.3 1221.8,780.3 1222.6,780.3 1223.4,780.3 1224.2,780.3 1225.0,780.3 1225.8,780.3 1226.6,780.2 1227.4,780.2 1228.2,780.2 1229.0,780.3 1229.8,780.3 1230.6,780.4 1231.4,780.4 1232.2,780.4 1233.0,780.4 1233.8,780.4 1234.6,780.4 1235.4,780.4 1236.2,780.4 1237.0,780.4 1237.8,780.3 1238.6,780.1 1239.4,779.8 1240.2,779.3 1241.0,778.7 1241.8,777.9 1242.6,777.1 1243.4,776.2 1244.2,775.5 1245.0,775.1 1245.8,775.0 1246.6,775.3 1247.4,775.9 1248.2,776.7 1249.0,777.6 1249.8,778.3 1250.6,778.8 1251.4,779.0 1252.2,778.9 1253.0,778.5 1253.8,777.8 1254.6,777.1 1255.4,776.4 1256.2,775.9 1257.0,775.7 1257.8,776.0 1258.6,776.5 1259.4,777.3 1260.2,778.0 1261.0,778.7 1261.8,779.3 1262.6,779.7 1263.4,780.0 1264.2,780.2 1265.0,780.3 1265.8,780.5 1266.6,780.6 1267.4,780.8 1268.2,780.8 1269.0,780.8 1269.8,780.7 1270.6,780.6 1271.4,780.4 1272.2,780.2 1273.0,780.0 1273.8,779.8 1274.6,779.6 1275.4,779.5 1276.2,779.5 1277.0,779.5 1277.8,779.6 1278.6,779.7 1279.4,779.8 1280.2,779.9 1281.0,780.0 1281.8,780.0 1282.6,779.8 1283.4,779.6 1284.2,779.1 1285.0,778.6 1285.8,777.9 1286.6,777.0 1287.4,776.0 1288.2,774.8 1289.0,773.7 1289.8,772.6 1290.6,771.7 1291.4,771.1 1292.2,770.9 1293.0,771.1 1293.8,771.7 1294.6,772.5 1295.4,773.5 1296.2,774.5 1297.0,775.5 1297.8,776.5 1298.6,777.3 1299.4,778.0 1300.2,778.6 1301.0,778.9 1301.8,779.1 1302.6,779.0 1303.4,778.7 1304.2,778.0 1305.0,776.8 1305.8,774.9 1306.6,772.2 1307.4,769.0 1308.2,765.9 1309.0,764.0 1309.8,764.0 1310.6,765.9 1311.4,768.9 1312.2,771.9 1313.0,774.5 1313.8,776.4 1314.6,777.6 1315.4,778.3 1316.2,778.4 1317.0,778.2 1317.8,777.6 1318.6,776.9 1319.4,776.4 1320.2,776.3 1321.0,776.8 1321.8,777.5 1322.6,778.0 1323.4,778.4 1324.2,778.6 1325.0,778.7 1325.8,778.8 1326.6,778.9 1327.4,779.0 1328.2,779.1 1329.0,779.0 1329.8,778.9 1330.6,778.7 1331.4,778.5 1332.2,778.3 1333.0,778.1 1333.8,778.1 1334.6,778.1 1335.4,778.2 1336.2,778.3 1337.0,778.5 1337.8,778.7 1338.6,778.9 1339.4,779.0 1340.2,779.2 1341.0,779.3 1341.8,779.4 1342.6,779.5 1343.4,779.6 1344.2,779.6 1345.0,779.6 1345.8,779.6 1346.6,779.6 1347.4,779.7 1348.2,779.8 1349.0,779.8 1349.8,779.9 1350.6,780.0 1351.4,780.0 1352.2,780.0 1353.0,779.9 1353.8,779.6 1354.6,779.1 1355.4,778.1 1356.2,776.8 1357.0,775.1 1357.8,773.3 1358.6,771.8 1359.4,770.9 1360.2,771.1 1361.0,772.2 1361.8,773.8 1362.6,775.5 1363.4,777.0 1364.2,778.1 1365.0,778.9 1365.8,779.3 1366.6,779.5 1367.4,779.5 1368.2,779.5 1369.0,779.5 1369.8,779.5 1370.6,779.6 1371.4,779.7 1372.2,779.8 1373.0,780.0 1373.8,780.0 1374.6,780.1 1375.4,780.1 1376.2,780.0 1377.0,780.0 1377.8,779.9 1378.6,779.9 1379.4,779.9 1380.2,779.8 1381.0,779.7 1381.8,779.6 1382.6,779.5 1383.4,779.3 1384.2,779.1 1385.0,779.0 1385.8,779.0 1386.6,778.9 1387.4,779.0 1388.2,779.0 1389.0,779.0 1389.8,778.9 1390.6,778.9 1391.4,778.8 1392.2,778.8 1393.0,778.9 1393.8,779.0 1394.6,779.2 1395.4,779.3 1396.2,779.4 1397.0,779.5 1397.8,779.5 1398.6,779.4 1399.4,779.2 1400.2,779.0 1401.0,778.9 1401.8,778.8 1402.6,778.9 1403.4,779.0 1404.2,779.1 1405.0,779.3 1405.8,779.4 1406.6,779.5 1407.4,779.5 1408.2,779.4 1409.0,779.2 1409.8,778.9 1410.6,778.4 1411.4,777.6 1412.2,776.6 1413.0,775.1 1413.8,773.1 1414.6,770.5 1415.4,767.3 1416.2,763.5 1417.0,759.1 1417.8,754.2 1418.6,749.0 1419.4,743.9 1420.2,739.0 1421.0,734.8 1421.8,731.6 1422.6,729.6 1423.4,729.0 1424.2,729.8 1425.0,732.1 1425.8,735.5 1426.6,739.7 1427.4,744.6 1428.2,749.7 1429.0,754.8 1429.8,759.6 1430.6,764.0 1431.4,767.8 1432.2,770.9 1433.0,773.3 1433.8,775.0 1434.6,776.2 1435.4,776.9 1436.2,777.2 1437.0,777.4 1437.8,777.2 1438.6,776.8 1439.4,776.2 1440.2,775.3 1441.0,773.9 1441.8,771.3 1442.6,766.2 1443.4,756.3 1444.2,738.9 1445.0,712.1 1445.8,677.9 1446.6,644.8 1447.4,628.5 1448.2,639.5 1449.0,668.9 1449.8,702.4 1450.6,730.6 1451.4,750.3 1452.2,762.2 1453.0,768.7 1453.8,772.0 1454.6,773.8 1455.4,775.0 1456.2,775.8 1457.0,776.4 1457.8,776.9 1458.6,777.2 1459.4,777.5 1460.2,777.6 1461.0,777.7 1461.8,777.8 1462.6,777.9 1463.4,778.0 1464.2,778.2 1465.0,778.3 1465.8,778.3 1466.6,778.4 1467.4,778.4 1468.2,778.5 1469.0,778.6 1469.8,778.6 1470.6,778.6 1471.4,778.5 1472.2,778.4 1473.0,778.3 1473.8,778.1 1474.6,777.9 1475.4,777.5 1476.2,777.1 1477.0,776.7 1477.8,776.4 1478.6,776.2 1479.4,776.2 1480.2,776.4 1481.0,776.8 1481.8,777.2 1482.6,777.6 1483.4,777.8 1484.2,777.9 1485.0,777.9 1485.8,777.7 1486.6,777.5 1487.4,777.3 1488.2,777.1 1489.0,776.9 1489.8,776.7 1490.6,776.5 1491.4,776.2 1492.2,775.9 1493.0,775.4 1493.8,774.8 1494.6,774.1 1495.4,773.2 1496.2,772.4 1497.0,771.4 1497.8,770.4 1498.6,769.3 1499.4,768.2 1500.2,766.9 1501.0,765.6 1501.8,764.1 1502.6,762.5 1503.4,760.8 1504.2,759.1 1505.0,757.3 1505.8,755.4 1506.6,753.6 1507.4,751.8 1508.2,750.0 1509.0,748.3 1509.8,746.6 1510.6,745.1 1511.4,743.8 1512.2,742.7 1513.0,741.9 1513.8,742.4 1514.6,745.4 1515.4,749.5 1516.2,754.0 1517.0,758.5 1517.8,762.7 1518.6,766.4 1519.4,769.5 1520.2,772.1 1521.0,774.3 1521.8,776.0 1522.6,777.5 1523.4,778.6 1524.2,779.5 1525.0,780.1 1525.8,780.5 1526.6,780.8 1527.4,780.9 1528.2,780.8 1529.0,780.7 1529.8,780.6 1530.6,780.4 1531.4,780.3 1532.2,780.2 1533.0,780.1 1533.8,780.0 1534.6,780.0 1535.4,780.0 1536.2,780.0 1537.0,780.2 1537.8,780.3 1538.6,780.5 1539.4,780.6 1540.2,780.6 1541.0,780.6 1541.8,780.5 1542.6,780.4 1543.4,780.4 1544.2,780.5 1545.0,780.7 1545.8,781.0 1546.6,781.2 1547.4,781.3 1548.2,780.3 1549.0,779.4 1549.8,778.4 1550.6,777.9 1551.4,778.3 1552.2,778.6 1553.0,778.9 1553.8,779.2 1554.6,779.4 1555.4,779.6 1556.2,779.8 1557.0,780.3 1557.8,781.1 1558.6,781.9 1559.4,782.8 1560.2,783.7 1561.0,784.1 1561.8,783.0 1562.6,781.8 1563.4,780.6 1564.2,779.3 1565.0,778.0 1565.8,778.2 1566.6,779.4 1567.4,780.6 1568.2,781.8 1569.0,783.6 1569.8,785.4 1570.6,787.3"/>
<polyline stroke="#808000" filter="url(#hardc)" points="60.0,858.3 73.0,858.3 73.8,858.3 74.6,858.3 75.4,858.3 76.2,858.3 77.0,858.3 77.8,858.3 78.6,858.4 79.4,858.4 80.2,858.4 81.0,858.4 81.8,858.4 82.6,858.4 83.4,858.4 84.2,858.4 85.0,858.4 85.8,858.4 86.6,858.4 87.4,858.4 88.2,858.4 89.0,858.5 89.8,858.5 90.6,858.5 91.4,858.5 92.2,858.4 93.0,858.4 93.8,858.4 94.6,858.4 95.4,858.4 96.2,858.4 97.0,858.4 97.8,858.4 98.6,858.4 99.4,858.4 100.2,858.4 101.0,858.3 101.8,858.3 102.6,858.2 103.4,858.2 104.2,858.2 105.0,858.2 105.8,858.2 106.6,858.2 107.4,858.2 108.2,858.2 109.0,858.2 109.8,858.2 110.6,858.2 111.4,858.3 112.2,858.3 113.0,858.4 113.8,858.4 114.6,858.4 115.4,858.4 116.2,858.4 117.0,858.4 117.8,858.3 118.6,858.3 119.4,858.3 120.2,858.3 121.0,858.4 121.8,858.4 122.6,858.5 123.4,858.5 124.2,858.5 125.0,858.6 125.8,858.6 126.6,858.7 127.4,858.7 128.2,858.7 129.0,858.7 129.8,858.7 130.6,858.7 131.4,858.7 132.2,858.7 133.0,858.7 133.8,858.7 134.6,858.6 135.4,858.6 136.2,858.5 137.0,858.4 137.8,858.4 138.6,858.3 139.4,858.4 140.2,858.4 141.0,858.4 141.8,858.5 142.6,858.5 143.4,858.6 144.2,858.6 145.0,858.6 145.8,858.6 146.6,858.5 147.4,858.5 148.2,858.5 149.0,858.4 149.8,858.4 150.6,858.4 151.4,858.3 152.2,858.3 153.0,858.3 153.8,858.3 154.6,858.2 155.4,858.2 156.2,858.2 157.0,858.2 157.8,858.2 158.6,858.2 159.4,858.2 160.2,858.3 161.0,858.4 161.8,858.4 162.6,858.5 163.4,858.5 164.2,858.5 165.0,858.5 165.8,858.5 166.6,858.5 167.4,858.4 168.2,858.5 169.0,858.5 169.8,858.6 170.6,858.7 171.4,858.8 172.2,858.8 173.0,858.9 173.8,858.9 174.6,858.9 175.4,858.9 176.2,858.8 177.0,858.7 177.8,858.6 178.6,858.5 179.4,858.3 180.2,858.2 181.0,858.1 181.8,858.0 182.6,857.9 183.4,857.9 184.2,857.9 185.0,858.0 185.8,858.1 186.6,858.2 187.4,858.3 188.2,858.4 189.0,858.5 189.8,858.6 190.6,858.6 191.4,858.6 192.2,858.6 193.0,858.6 193.8,858.6 194.6,858.5 195.4,858.5 196.2,858.5 197.0,858.5 197.8,858.5 198.6,858.5 199.4,858.6 200.2,858.6 201.0,858.6 201.8,858.6 202.6,858.6 203.4,858.6 204.2,858.7 205.0,858.7 205.8,858.7 206.6,858.7 207.4,858.7 208.2,858.6 209.0,858.6 209.8,858.6 210.6,858.5 211.4,858.5 212.2,858.6 213.0,858.6 213.8,858.6 214.6,858.6 215.4,858.6 216.2,858.6 217.0,858.6 217.8,858.6 218.6,858.7 219.4,858.7 220.2,858.7 221.0,858.7 221.8,858.6 222.6,858.6 223.4,858.6 224.2,858.5 225.0,858.4 225.8,858.4 226.6,858.4 227.4,858.3 228.2,858.3 229.0,858.3 229.8,858.3 230.6,858.3 231.4,858.3 232.2,858.4 233.0,858.4 233.8,858.5 234.6,858.5 235.4,858.5 236.2,858.4 237.0,858.4 237.8,858.3 238.6,858.3 239.4,858.3 240.2,858.3 241.0,858.3 241.8,858.3 242.6,858.4 243.4,858.4 244.2,858.4 245.0,858.4 245.8,858.3 246.6,858.3 247.4,858.3 248.2,858.3 249.0,858.3 249.8,858.3 250.6,858.3 251.4,858.2 252.2,858.2 253.0,858.2 253.8,858.2 254.6,858.2 255.4,858.3 256.2,858.3 257.0,858.3 257.8,858.4 258.6,858.4 259.4,858.5 260.2,858.5 261.0,858.6 261.8,858.7 262.6,858.7 263.4,858.8 264.2,858.8 265.0,858.8 265.8,858.8 266.6,858.9 267.4,858.9 268.2,858.9 269.0,858.9 269.8,858.9 270.6,858.8 271.4,858.8 272.2,858.7 273.0,858.6 273.8,858.5 274.6,858.4 275.4,858.4 276.2,858.4 277.0,858.4 277.8,858.4 278.6,858.5 279.4,858.5 280.2,858.5 281.0,858.6 281.8,858.6 282.6,858.6 283.4,858.6 284.2,858.5 285.0,858.5 285.8,858.5 286.6,858.5 287.4,858.5 288.2,858.5 289.0,858.5 289.8,858.6 290.6,858.6 291.4,858.7 292.2,858.7 293.0,858.7 293.8,858.7 294.6,858.7 295.4,858.8 296.2,858.8 297.0,858.8 297.8,858.8 298.6,858.8 299.4,858.8 300.2,858.9 301.0,858.9 301.8,858.9 302.6,858.6 303.4,858.6 304.2,858.6 305.0,858.6 305.8,858.6 306.6,858.6 307.4,858.6 308.2,858.5 309.0,858.5 309.8,858.5 310.6,858.4 311.4,858.4 312.2,858.4 313.0,858.4 313.8,858.3 314.6,858.3 315.4,858.3 316.2,858.4 317.0,858.4 317.8,858.4 318.6,858.4 319.4,858.4 320.2,858.3 321.0,858.3 321.8,858.3 322.6,858.3 323.4,858.3 324.2,858.3 325.0,858.3 325.8,858.3 326.6,858.3 327.4,858.3 328.2,858.4 329.0,858.4 329.8,858.4 330.6,858.4 331.4,858.4 332.2,858.4 333.0,858.4 333.8,858.4 334.6,858.4 335.4,858.4 336.2,858.4 337.0,858.4 337.8,858.4 338.6,858.4 339.4,858.4 340.2,858.4 341.0,858.4 341.8,858.4 342.6,858.5 343.4,858.5 344.2,858.5 345.0,858.5 345.8,858.5 346.6,858.5 347.4,858.5 348.2,858.5 349.0,858.5 349.8,858.5 350.6,858.5 351.4,858.4 352.2,858.4 353.0,858.4 353.8,858.4 354.6,858.3 355.4,858.4 356.2,858.4 357.0,858.4 357.8,858.4 358.6,858.4 359.4,858.4 360.2,858.4 361.0,858.4 361.8,858.4 362.6,858.4 363.4,858.4 364.2,858.4 365.0,858.4 365.8,858.4 366.6,858.4 367.4,858.5 368.2,858.5 369.0,858.5 369.8,858.5 370.6,858.5 371.4,858.5 372.2,858.5 373.0,858.5 373.8,858.5 374.6,858.4 375.4,858.4 376.2,858.4 377.0,858.4 377.8,858.4 378.6,858.3 379.4,858.3 380.2,858.3 381.0,858.4 381.8,858.4 382.6,858.4 383.4,858.4 384.2,858.4 385.0,858.4 385.8,858.4 386.6,858.4 387.4,858.3 388.2,858.3 389.0,858.3 389.8,858.3 390.6,858.3 391.4,858.3 392.2,858.3 393.0,858.3 393.8,858.3 394.6,858.3 395.4,858.3 396.2,858.4 397.0,858.4 397.8,858.4 398.6,858.4 399.4,858.4 400.2,858.5 401.0,858.5 401.8,858.5 402.6,858.4 403.4,858.4 404.2,858.4 405.0,858.4 405.8,858.3 406.6,858.3 407.4,858.3 408.2,858.3 409.0,858.3 409.8,858.3 410.6,858.3 411.4,858.3 412.2,858.3 413.0,858.3 413.8,858.3 414.6,858.3 415.4,858.4 416.2,858.4 417.0,858.4 417.8,858.4 418.6,858.4 419.4,858.4 420.2,858.4 421.0,858.5 421.8,858.5 422.6,858.5 423.4,858.5 424.2,858.5 425.0,858.5 425.8,858.5 426.6,858.5 427.4,858.6 428.2,858.6 429.0,858.5 429.8,858.5 430.6,858.5 431.4,858.5 432.2,858.5 433.0,858.5 433.8,858.5 434.6,858.6 435.4,858.6 436.2,858.7 437.0,858.7 437.8,858.7 438.6,858.7 439.4,858.7 440.2,858.7 441.0,858.7 441.8,858.6 442.6,858.6 443.4,858.6 444.2,858.6 445.0,858.6 445.8,858.6 446.6,858.6 447.4,858.6 448.2,858.5 449.0,858.4 449.8,858.3 450.6,858.2 451.4,858.0 452.2,857.8 453.0,857.6 453.8,857.4 454.6,857.3 455.4,857.3 456.2,857.4 457.0,857.6 457.8,857.8 458.6,857.9 459.4,857.9 460.2,857.8 461.0,857.6 461.8,857.2 462.6,856.9 463.4,856.7 464.2,856.7 465.0,856.9 465.8,857.2 466.6,857.6 467.4,857.9 468.2,858.2 469.0,858.3 469.8,858.3 470.6,858.2 471.4,858.1 472.2,857.9 473.0,857.5 473.8,857.0 474.6,856.3 475.4,855.4 476.2,854.3 477.0,853.4 477.8,852.8 478.6,852.8 479.4,853.4 480.2,854.3 481.0,855.4 481.8,856.3 482.6,857.0 483.4,857.4 484.2,857.7 485.0,857.7 485.8,857.7 486.6,857.6 487.4,857.6 488.2,857.5 489.0,857.5 489.8,857.6 490.6,857.7 491.4,857.8 492.2,857.9 493.0,858.0 493.8,858.0 494.6,858.0 495.4,858.0 496.2,858.0 497.0,858.0 497.8,857.9 498.6,857.9 499.4,857.8 500.2,857.8 501.0,857.8 501.8,857.8 502.6,857.8 503.4,857.9 504.2,857.9 505.0,857.9 505.8,857.9 506.6,857.9 507.4,857.8 508.2,857.7 509.0,857.6 509.8,857.4 510.6,857.2 511.4,856.9 512.2,856.7 513.0,856.3 513.8,855.9 514.6,855.5 515.4,855.0 516.2,854.4 517.0,853.9 517.8,853.4 518.6,853.0 519.4,852.7 520.2,852.5 521.0,852.4 521.8,852.5 522.6,852.7 523.4,853.0 524.2,853.3 525.0,853.7 525.8,854.1 526.6,854.5 527.4,854.9 528.2,855.3 529.0,855.7 529.8,856.1 530.6,856.5 531.4,856.8 532.2,857.0 533.0,857.2 533.8,857.4 534.6,857.5 535.4,857.6 536.2,857.6 537.0,857.7 537.8,857.7 538.6,857.8 539.4,857.9 540.2,858.0 541.0,858.0 541.8,858.1 542.6,858.2 543.4,858.2 544.2,858.2 545.0,858.1 545.8,857.9 546.6,857.6 547.4,857.3 548.2,856.9 549.0,856.5 549.8,856.2 550.6,855.9 551.4,855.8 552.2,855.9 553.0,856.1 553.8,856.5 554.6,856.9 555.4,857.3 556.2,857.6 557.0,857.9 557.8,858.1 558.6,858.2 559.4,858.3 560.2,858.3 561.0,858.3 561.8,858.2 562.6,858.2 563.4,858.1 564.2,858.0 565.0,858.0 565.8,858.0 566.6,858.0 567.4,858.0 568.2,858.1 569.0,858.1 569.8,858.1 570.6,858.1 571.4,858.1 572.2,858.1 573.0,858.1 573.8,858.1 574.6,858.1 575.4,858.1 576.2,858.1 577.0,858.1 577.8,858.1 578.6,858.2 579.4,858.2 580.2,858.2 581.0,858.2 581.8,858.2 582.6,858.2 583.4,858.2 584.2,858.2 585.0,858.1 585.8,858.1 586.6,858.1 587.4,858.1 588.2,858.1 589.0,858.2 589.8,858.2 590.6,858.2 591.4,858.2 592.2,858.2 593.0,858.3 593.8,858.3 594.6,858.4 595.4,858.4 596.2,858.4 597.0,858.4 597.8,858.4 598.6,858.3 599.4,858.3 600.2,858.3 601.0,858.2 601.8,858.2 602.6,858.2 603.4,858.2 604.2,858.2 605.0,858.2 605.8,858.2 606.6,858.2 607.4,858.2 608.2,858.2 609.0,858.2 609.8,858.3 610.6,858.3 611.4,858.3 612.2,858.3 613.0,858.3 613.8,858.3 614.6,858.3 615.4,858.3 616.2,858.3 617.0,858.3 617.8,858.3 618.6,858.3 619.4,858.3 620.2,858.3 621.0,858.3 621.8,858.3 622.6,858.3 623.4,858.3 624.2,858.4 625.0,858.4 625.8,858.3 626.6,858.3 627.4,858.3 628.2,858.3 629.0,858.3 629.8,858.3 630.6,858.3 631.4,858.3 632.2,858.4 633.0,858.4 633.8,858.4 634.6,858.4 635.4,858.4 636.2,858.4 637.0,858.4 637.8,858.4 638.6,858.4 639.4,858.4 640.2,858.4 641.0,858.4 641.8,858.4 642.6,858.4 643.4,858.4 644.2,858.4 645.0,858.4 645.8,858.5 646.6,858.5 647.4,858.5 648.2,858.4 649.0,858.4 649.8,858.4 650.6,858.4 651.4,858.4 652.2,858.4 653.0,858.4 653.8,858.4 654.6,858.4 655.4,858.4 656.2,858.4 657.0,858.4 657.8,858.5 658.6,858.5 659.4,858.5 660.2,858.5 661.0,858.5 661.8,858.5 662.6,858.5 663.4,858.5 664.2,858.6 665.0,858.6 665.8,858.6 666.6,858.6 667.4,858.6 668.2,858.6 669.0,858.6 669.8,858.6 670.6,858.5 671.4,858.5 672.2,858.5 673.0,858.5 673.8,858.5 674.6,858.5 675.4,858.5 676.2,858.5 677.0,858.5 677.8,858.5 678.6,858.5 679.4,858.5 680.2,858.5 681.0,858.4 681.8,858.4 682.6,858.4 683.4,858.4 684.2,858.4 685.0,858.4 685.8,858.4 686.6,858.4 687.4,858.4 688.2,858.4 689.0,858.4 689.8,858.4 690.6,858.4 691.4,858.4 692.2,858.4 693.0,858.4 693.8,858.4 694.6,858.4 695.4,858.4 696.2,858.4 697.0,858.4 697.8,858.4 698.6,858.4 699.4,858.4 700.2,858.4 701.0,858.4 701.8,858.4 702.6,858.4 703.4,858.4 704.2,858.4 705.0,858.3 705.8,858.3 706.6,858.2 707.4,858.2 708.2,858.2 709.0,858.2 709.8,858.2 710.6,858.2 711.4,858.2 712.2,858.2 713.0,858.2 713.8,858.2 714.6,858.2 715.4,858.2 716.2,858.2 717.0,858.2 717.8,858.2 718.6,858.2 719.4,858.1 720.2,858.1 721.0,858.1 721.8,858.1 722.6,858.1 723.4,858.2 724.2,858.2 725.0,858.3 725.8,858.3 726.6,858.3 727.4,858.4 728.2,858.4 729.0,858.4 729.8,858.4 730.6,858.3 731.4,858.3 732.2,858.3 733.0,858.3 733.8,858.3 734.6,858.3 735.4,858.3 736.2,858.4 737.0,858.4 737.8,858.4 738.6,858.4 739.4,858.5 740.2,858.5 741.0,858.5 741.8,858.6 742.6,858.6 743.4,858.6 744.2,858.6 745.0,858.6 745.8,858.6 746.6,858.5 747.4,858.5 748.2,858.5 749.0,858.5 749.8,858.5 750.6,858.5 751.4,858.6 752.2,858.6 753.0,858.6 753.8,858.6 754.6,858.6 755.4,858.5 756.2,858.5 757.0,858.5 757.8,858.5 758.6,858.5 759.4,858.4 760.2,858.4 761.0,858.4 761.8,858.4 762.6,858.3 763.4,858.3 764.2,858.3 765.0,858.3 765.8,858.3 766.6,858.3 767.4,858.3 768.2,858.3 769.0,858.3 769.8,858.3 770.6,858.3 771.4,858.3 772.2,858.3 773.0,858.3 773.8,858.3 774.6,858.3 775.4,858.3 776.2,858.3 777.0,858.3 777.8,858.3 778.6,858.2 779.4,858.2 780.2,858.2 781.0,858.2 781.8,858.3 782.6,858.3 783.4,858.3 784.2,858.3 785.0,858.3 785.8,858.3 786.6,858.4 787.4,858.4 788.2,858.4 789.0,858.4 789.8,858.4 790.6,858.4 791.4,858.5 792.2,858.5 793.0,858.5 793.8,858.6 794.6,858.6 795.4,858.6 796.2,858.5 797.0,858.5 797.8,858.5 798.6,858.5 799.4,858.5 800.2,858.4 801.0,858.4 801.8,858.4 802.6,858.4 803.4,858.4 804.2,858.4 805.0,858.3 805.8,858.3 806.6,858.3 807.4,858.3 808.2,858.3 809.0,858.3 809.8,858.4 810.6,858.4 811.4,858.4 812.2,858.4 813.0,858.4 813.8,858.4 814.6,858.4 815.4,858.4 816.2,858.4 817.0,858.4 817.8,858.4 818.6,858.4 819.4,858.3 820.2,858.3 821.0,858.3 821.8,858.3 822.6,858.3 823.4,858.3 824.2,858.3 825.0,858.3 825.8,858.3 826.6,858.3 827.4,858.4 828.2,858.4 829.0,858.4 829.8,858.4 830.6,858.4 831.4,858.4 832.2,858.4 833.0,858.4 833.8,858.4 834.6,858.4 835.4,858.4 836.2,858.4 837.0,858.4 837.8,858.4 838.6,858.4 839.4,858.4 840.2,858.4 841.0,858.4 841.8,858.5 842.6,858.5 843.4,858.5 844.2,858.5 845.0,858.5 845.8,858.4 846.6,858.4 847.4,858.4 848.2,858.4 849.0,858.4 849.8,858.4 850.6,858.5 851.4,858.5 852.2,858.5 853.0,858.5 853.8,858.4 854.6,858.4 855.4,858.4 856.2,858.4 857.0,858.4 857.8,858.3 858.6,858.4 859.4,858.4 860.2,858.4 861.0,858.5 861.8,858.5 862.6,858.5 863.4,858.6 864.2,858.6 865.0,858.6 865.8,858.6 866.6,858.6 867.4,858.5 868.2,858.5 869.0,858.5 869.8,858.5 870.6,858.5 871.4,858.4 872.2,858.4 873.0,858.4 873.8,858.4 874.6,858.4 875.4,858.4 876.2,858.4 877.0,858.4 877.8,858.4 878.6,858.5 879.4,858.5 880.2,858.5 881.0,858.5 881.8,858.6 882.6,858.6 883.4,858.5 884.2,858.5 885.0,858.5 885.8,858.5 886.6,858.5 887.4,858.4 888.2,858.5 889.0,858.5 889.8,858.5 890.6,858.5 891.4,858.5 892.2,858.5 893.0,858.5 893.8,858.5 894.6,858.4 895.4,858.4 896.2,858.4 897.0,858.4 897.8,858.4 898.6,858.4 899.4,858.4 900.2,858.3 901.0,858.3 901.8,858.3 902.6,858.3 903.4,858.3 904.2,858.3 905.0,858.3 905.8,858.3 906.6,858.3 907.4,858.3 908.2,858.3 909.0,858.3 909.8,858.3 910.6,858.4 911.4,858.4 912.2,858.4 913.0,858.4 913.8,858.4 914.6,858.4 915.4,858.3 916.2,858.3 917.0,858.2 917.8,858.2 918.6,858.2 919.4,858.1 920.2,858.1 921.0,858.0 921.8,858.0 922.6,857.9 923.4,857.9 924.2,857.8 925.0,857.8 925.8,857.8 926.6,857.7 927.4,857.8 928.2,857.8 929.0,857.8 929.8,857.9 930.6,857.9 931.4,858.0 932.2,858.0 933.0,858.0 933.8,858.1 934.6,858.1 935.4,858.1 936.2,858.2 937.0,858.2 937.8,858.2 938.6,858.2 939.4,858.1 940.2,858.1 941.0,857.9 941.8,857.8 942.6,857.7 943.4,857.6 944.2,857.6 945.0,857.5 945.8,857.5 946.6,857.5 947.4,857.5 948.2,857.4 949.0,857.4 949.8,857.3 950.6,857.3 951.4,857.2 952.2,857.2 953.0,857.1 953.8,857.1 954.6,857.1 955.4,857.2 956.2,857.2 957.0,857.3 957.8,857.4 958.6,857.4 959.4,857.5 960.2,857.6 961.0,857.7 961.8,857.8 962.6,857.9 963.4,857.9 964.2,858.0 965.0,858.0 965.8,858.1 966.6,858.2 967.4,858.2 968.2,858.3 969.0,858.4 969.8,858.5 970.6,858.5 971.4,858.4 972.2,858.3 973.0,858.2 973.8,858.2 974.6,858.1 975.4,858.1 976.2,858.1 977.0,858.0 977.8,858.0 978.6,858.0 979.4,858.0 980.2,857.9 981.0,857.9 981.8,857.9 982.6,857.9 983.4,858.0 984.2,858.1 985.0,858.1 985.8,858.2 986.6,858.2 987.4,858.3 988.2,858.2 989.0,858.2 989.8,858.2 990.6,858.2 991.4,858.1 992.2,858.1 993.0,858.1 993.8,858.1 994.6,858.2 995.4,858.2 996.2,858.3 997.0,858.4 997.8,858.5 998.6,858.6 999.4,858.7 1000.2,858.8 1001.0,858.8 1001.8,858.8 1002.6,858.7 1003.4,858.7 1004.2,858.6 1005.0,858.5 1005.8,858.5 1006.6,858.4 1007.4,858.3 1008.2,858.3 1009.0,858.2 1009.8,858.1 1010.6,858.1 1011.4,858.0 1012.2,857.9 1013.0,857.8 1013.8,857.8 1014.6,857.7 1015.4,857.6 1016.2,857.6 1017.0,857.6 1017.8,857.6 1018.6,857.7 1019.4,857.8 1020.2,857.9 1021.0,858.0 1021.8,858.1 1022.6,858.2 1023.4,858.3 1024.2,858.4 1025.0,858.5 1025.8,858.6 1026.6,858.6 1027.4,858.6 1028.2,858.6 1029.0,858.5 1029.8,858.5 1030.6,858.4 1031.4,858.4 1032.2,858.3 1033.0,858.3 1033.8,858.3 1034.6,858.4 1035.4,858.4 1036.2,858.4 1037.0,858.4 1037.8,858.4 1038.6,858.5 1039.4,858.5 1040.2,858.5 1041.0,858.4 1041.8,858.4 1042.6,858.3 1043.4,858.3 1044.2,858.2 1045.0,858.2 1045.8,858.2 1046.6,858.2 1047.4,858.2 1048.2,858.2 1049.0,858.2 1049.8,858.2 1050.6,858.1 1051.4,858.0 1052.2,858.0 1053.0,857.9 1053.8,857.9 1054.6,857.9 1055.4,858.0 1056.2,858.1 1057.0,858.2 1057.8,858.3 1058.6,858.3 1059.4,858.4 1060.2,858.4 1061.0,858.4 1061.8,858.4 1062.6,858.3 1063.4,858.3 1064.2,858.3 1065.0,858.2 1065.8,858.1 1066.6,857.9 1067.4,857.6 1068.2,857.0 1069.0,856.1 1069.8,855.1 1070.6,854.4 1071.4,854.4 1072.2,855.0 1073.0,856.0 1073.8,856.8 1074.6,857.3 1075.4,857.5 1076.2,857.5 1077.0,857.2 1077.8,857.0 1078.6,857.0 1079.4,857.1 1080.2,857.5 1081.0,857.8 1081.8,858.1 1082.6,858.2 1083.4,858.3 1084.2,858.2 1085.0,858.2 1085.8,858.1 1086.6,858.0 1087.4,858.0 1088.2,858.0 1089.0,858.0 1089.8,858.1 1090.6,858.1 1091.4,858.2 1092.2,858.2 1093.0,858.3 1093.8,858.3 1094.6,858.3 1095.4,858.3 1096.2,858.3 1097.0,858.2 1097.8,858.2 1098.6,858.2 1099.4,858.2 1100.2,858.2 1101.0,858.2 1101.8,858.2 1102.6,858.2 1103.4,858.3 1104.2,858.3 1105.0,858.3 1105.8,858.3 1106.6,858.3 1107.4,858.3 1108.2,858.2 1109.0,858.2 1109.8,858.2 1110.6,858.1 1111.4,857.9 1112.2,857.4 1113.0,856.2 1113.8,854.0 1114.6,851.2 1115.4,848.7 1116.2,848.3 1117.0,850.3 1117.8,853.1 1118.6,855.4 1119.4,856.8 1120.2,857.4 1121.0,857.6 1121.8,857.7 1122.6,857.7 1123.4,857.7 1124.2,857.7 1125.0,857.7 1125.8,857.7 1126.6,857.6 1127.4,857.5 1128.2,857.2 1129.0,856.7 1129.8,855.6 1130.6,853.9 1131.4,851.6 1132.2,849.4 1133.0,848.5 1133.8,849.0 1134.6,850.4 1135.4,852.0 1136.2,853.7 1137.0,855.1 1137.8,856.2 1138.6,856.9 1139.4,857.4 1140.2,857.6 1141.0,857.8 1141.8,857.9 1142.6,858.0 1143.4,858.1 1144.2,858.2 1145.0,858.4 1145.8,858.4 1146.6,858.5 1147.4,858.5 1148.2,858.4 1149.0,858.4 1149.8,858.3 1150.6,858.3 1151.4,858.2 1152.2,858.2 1153.0,858.2 1153.8,858.2 1154.6,858.1 1155.4,858.1 1156.2,858.1 1157.0,858.0 1157.8,857.8 1158.6,857.6 1159.4,857.5 1160.2,857.3 1161.0,857.1 1161.8,856.9 1162.6,856.8 1163.4,856.8 1164.2,856.7 1165.0,856.7 1165.8,856.8 1166.6,856.8 1167.4,856.8 1168.2,856.7 1169.0,856.7 1169.8,856.8 1170.6,856.8 1171.4,856.9 1172.2,857.0 1173.0,857.2 1173.8,857.3 1174.6,857.4 1175.4,857.5 1176.2,857.6 1177.0,857.6 1177.8,857.7 1178.6,857.7 1179.4,857.7 1180.2,857.7 1181.0,857.7 1181.8,857.7 1182.6,857.6 1183.4,857.6 1184.2,857.6 1185.0,857.5 1185.8,857.5 1186.6,857.5 1187.4,857.5 1188.2,857.4 1189.0,857.4 1189.8,857.4 1190.6,857.3 1191.4,857.3 1192.2,857.3 1193.0,857.3 1193.8,857.4 1194.6,857.4 1195.4,857.4 1196.2,857.4 1197.0,857.5 1197.8,857.4 1198.6,857.4 1199.4,857.3 1200.2,857.2 1201.0,857.2 1201.8,857.2 1202.6,857.2 1203.4,857.2 1204.2,857.2 1205.0,857.2 1205.8,857.2 1206.6,857.2 1207.4,857.2 1208.2,857.2 1209.0,857.2 1209.8,857.1 1210.6,857.0 1211.4,856.9 1212.2,856.9 1213.0,856.8 1213.8,856.8 1214.6,856.8 1215.4,856.9 1216.2,857.0 1217.0,857.1 1217.8,857.2 1218.6,857.3 1219.4,857.5 1220.2,857.6 1221.0,857.6 1221.8,857.6 1222.6,857.6 1223.4,857.5 1224.2,857.3 1225.0,857.3 1225.8,857.2 1226.6,857.1 1227.4,857.1 1228.2,857.0 1229.0,856.9 1229.8,856.8 1230.6,856.8 1231.4,856.7 1232.2,856.7 1233.0,856.7 1233.8,856.7 1234.6,856.7 1235.4,856.7 1236.2,856.7 1237.0,856.7 1237.8,856.7 1238.6,856.7 1239.4,856.7 1240.2,856.6 1241.0,856.5 1241.8,856.3 1242.6,856.1 1243.4,855.8 1244.2,855.6 1245.0,855.5 1245.8,855.4 1246.6,855.5 1247.4,855.6 1248.2,855.8 1249.0,855.9 1249.8,856.1 1250.6,856.2 1251.4,856.3 1252.2,856.4 1253.0,856.4 1253.8,856.3 1254.6,856.3 1255.4,856.2 1256.2,856.2 1257.0,856.3 1257.8,856.4 1258.6,856.5 1259.4,856.7 1260.2,856.9 1261.0,857.0 1261.8,857.1 1262.6,857.2 1263.4,857.3 1264.2,857.2 1265.0,857.2 1265.8,857.2 1266.6,857.1 1267.4,857.1 1268.2,857.1 1269.0,857.1 1269.8,857.1 1270.6,857.2 1271.4,857.3 1272.2,857.4 1273.0,857.5 1273.8,857.6 1274.6,857.6 1275.4,857.6 1276.2,857.5 1277.0,857.5 1277.8,857.3 1278.6,857.2 1279.4,857.1 1280.2,857.0 1281.0,856.8 1281.8,856.7 1282.6,856.6 1283.4,856.5 1284.2,856.5 1285.0,856.5 1285.8,856.4 1286.6,856.3 1287.4,856.1 1288.2,855.8 1289.0,855.5 1289.8,855.2 1290.6,854.9 1291.4,854.7 1292.2,854.6 1293.0,854.6 1293.8,854.6 1294.6,854.7 1295.4,854.9 1296.2,855.1 1297.0,855.5 1297.8,855.8 1298.6,856.3 1299.4,856.6 1300.2,856.9 1301.0,857.1 1301.8,857.2 1302.6,857.1 1303.4,857.0 1304.2,856.7 1305.0,856.3 1305.8,855.6 1306.6,854.7 1307.4,853.6 1308.2,852.6 1309.0,852.0 1309.8,852.2 1310.6,853.0 1311.4,854.2 1312.2,855.4 1313.0,856.5 1313.8,857.2 1314.6,857.7 1315.4,857.9 1316.2,857.8 1317.0,857.6 1317.8,857.3 1318.6,856.9 1319.4,856.7 1320.2,856.6 1321.0,856.7 1321.8,857.0 1322.6,857.3 1323.4,857.5 1324.2,857.7 1325.0,857.8 1325.8,857.8 1326.6,857.8 1327.4,857.7 1328.2,857.6 1329.0,857.5 1329.8,857.4 1330.6,857.2 1331.4,857.1 1332.2,857.0 1333.0,857.0 1333.8,857.0 1334.6,857.0 1335.4,857.0 1336.2,857.1 1337.0,857.1 1337.8,857.2 1338.6,857.2 1339.4,857.3 1340.2,857.3 1341.0,857.3 1341.8,857.2 1342.6,857.2 1343.4,857.2 1344.2,857.1 1345.0,857.1 1345.8,857.1 1346.6,857.0 1347.4,857.1 1348.2,857.1 1349.0,857.1 1349.8,857.2 1350.6,857.2 1351.4,857.2 1352.2,857.2 1353.0,857.1 1353.8,857.0 1354.6,856.7 1355.4,856.4 1356.2,856.0 1357.0,855.7 1357.8,855.3 1358.6,855.0 1359.4,854.8 1360.2,854.9 1361.0,855.2 1361.8,855.5 1362.6,856.0 1363.4,856.4 1364.2,856.8 1365.0,857.1 1365.8,857.3 1366.6,857.5 1367.4,857.6 1368.2,857.6 1369.0,857.6 1369.8,857.6 1370.6,857.5 1371.4,857.4 1372.2,857.3 1373.0,857.2 1373.8,857.1 1374.6,857.1 1375.4,857.0 1376.2,857.0 1377.0,856.9 1377.8,856.9 1378.6,856.9 1379.4,856.9 1380.2,856.9 1381.0,856.9 1381.8,857.0 1382.6,857.1 1383.4,857.2 1384.2,857.4 1385.0,857.5 1385.8,857.6 1386.6,857.7 1387.4,857.8 1388.2,857.8 1389.0,857.8 1389.8,857.8 1390.6,857.9 1391.4,858.0 1392.2,858.1 1393.0,858.1 1393.8,858.2 1394.6,858.2 1395.4,858.2 1396.2,858.2 1397.0,858.1 1397.8,857.9 1398.6,857.8 1399.4,857.7 1400.2,857.5 1401.0,857.5 1401.8,857.4 1402.6,857.4 1403.4,857.5 1404.2,857.6 1405.0,857.6 1405.8,857.7 1406.6,857.7 1407.4,857.7 1408.2,857.7 1409.0,857.6 1409.8,857.5 1410.6,857.4 1411.4,857.3 1412.2,857.1 1413.0,856.8 1413.8,856.3 1414.6,855.6 1415.4,854.7 1416.2,853.6 1417.0,852.4 1417.8,851.0 1418.6,849.6 1419.4,848.1 1420.2,846.7 1421.0,845.6 1421.8,844.7 1422.6,844.1 1423.4,843.9 1424.2,844.2 1425.0,844.8 1425.8,845.8 1426.6,847.0 1427.4,848.3 1428.2,849.6 1429.0,850.9 1429.8,852.0 1430.6,852.9 1431.4,853.7 1432.2,854.3 1433.0,854.7 1433.8,855.0 1434.6,855.3 1435.4,855.5 1436.2,855.7 1437.0,855.8 1437.8,855.8 1438.6,855.7 1439.4,855.6 1440.2,855.3 1441.0,854.8 1441.8,853.8 1442.6,851.9 1443.4,848.1 1444.2,841.5 1445.0,831.3 1445.8,818.2 1446.6,805.6 1447.4,799.5 1448.2,803.6 1449.0,814.8 1449.8,827.6 1450.6,838.3 1451.4,845.9 1452.2,850.6 1453.0,853.2 1453.8,854.5 1454.6,855.3 1455.4,855.7 1456.2,856.0 1457.0,856.2 1457.8,856.3 1458.6,856.4 1459.4,856.6 1460.2,856.8 1461.0,856.9 1461.8,857.1 1462.6,857.2 1463.4,857.3 1464.2,857.4 1465.0,857.5 1465.8,857.6 1466.6,857.7 1467.4,857.7 1468.2,857.8 1469.0,857.9 1469.8,857.9 1470.6,858.0 1471.4,858.1 1472.2,858.2 1473.0,858.2 1473.8,858.2 1474.6,858.2 1475.4,858.0 1476.2,857.8 1477.0,857.5 1477.8,857.3 1478.6,857.1 1479.4,857.1 1480.2,857.1 1481.0,857.2 1481.8,857.4 1482.6,857.5 1483.4,857.6 1484.2,857.6 1485.0,857.5 1485.8,857.5 1486.6,857.4 1487.4,857.3 1488.2,857.2 1489.0,857.1 1489.8,857.1 1490.6,856.9 1491.4,856.7 1492.2,856.5 1493.0,856.1 1493.8,855.6 1494.6,855.2 1495.4,854.8 1496.2,854.4 1497.0,854.1 1497.8,853.8 1498.6,853.5 1499.4,853.3 1500.2,852.9 1501.0,852.5 1501.8,852.0 1502.6,851.3 1503.4,850.6 1504.2,849.8 1505.0,849.1 1505.8,848.4 1506.6,847.7 1507.4,847.1 1508.2,846.5 1509.0,846.0 1509.8,845.6 1510.6,845.2 1511.4,845.0 1512.2,844.8 1513.0,844.6 1513.8,844.8 1514.6,845.7 1515.4,846.9 1516.2,848.2 1517.0,849.5 1517.8,850.7 1518.6,851.9 1519.4,852.9 1520.2,853.8 1521.0,854.6 1521.8,855.3 1522.6,855.9 1523.4,856.3 1524.2,856.6 1525.0,856.9 1525.8,857.0 1526.6,857.1 1527.4,857.2 1528.2,857.3 1529.0,857.3 1529.8,857.3 1530.6,857.2 1531.4,857.1 1532.2,857.1 1533.0,857.0 1533.8,857.0 1534.6,857.0 1535.4,857.0 1536.2,856.9 1537.0,856.9 1537.8,856.8 1538.6,856.8 1539.4,856.8 1540.2,856.9 1541.0,857.0 1541.8,857.1 1542.6,857.2 1543.4,857.3 1544.2,857.3 1545.0,857.2 1545.8,857.2 1546.6,857.5 1547.4,857.8 1548.2,858.1 1549.0,858.4 1549.8,858.7 1550.6,859.1 1551.4,858.9 1552.2,858.5 1553.0,858.1 1553.8,857.6 1554.6,857.1 1555.4,856.6 1556.2,856.6 1557.0,856.6 1557.8,856.7 1558.6,856.7 1559.4,856.8 1560.2,856.8 1561.0,857.5 1561.8,858.3 1562.6,859.1 1563.4,859.5 1564.2,857.4 1565.0,855.2 1565.8,853.0 1566.6,850.9 1567.4,849.1 1568.2,850.1 1569.0,851.1 1569.8,852.2 1570.6,853.3"/>
<polyline stroke="#960080" filter="url(#hardc)" points="60.0,962.8 73.0,962.8 73.8,962.8 74.6,962.8 75.4,962.8 76.2,962.8 77.0,962.8 77.8,962.8 78.6,962.7 79.4,962.7 80.2,962.7 81.0,962.6 81.8,962.6 82.6,962.6 83.4,962.6 84.2,962.7 85.0,962.7 85.8,962.7 86.6,962.7 87.4,962.7 88.2,962.7 89.0,962.7 89.8,962.7 90.6,962.7 91.4,962.7 92.2,962.7 93.0,962.7 93.8,962.7 94.6,962.6 95.4,962.7 96.2,962.7 97.0,962.7 97.8,962.8 98.6,962.8 99.4,962.8 100.2,962.9 101.0,962.9 101.8,962.9 102.6,962.9 103.4,962.9 104.2,962.9 105.0,962.9 105.8,962.9 106.6,962.9 107.4,962.9 108.2,962.9 109.0,962.9 109.8,962.9 110.6,962.9 111.4,962.9 112.2,962.9 113.0,962.8 113.8,962.8 114.6,962.7 115.4,962.6 116.2,962.6 117.0,962.6 117.8,962.5 118.6,962.6 119.4,962.6 120.2,962.6 121.0,962.7 121.8,962.7 122.6,962.7 123.4,962.8 124.2,962.8 125.0,962.9 125.8,962.9 126.6,962.9 127.4,962.8 128.2,962.8 129.0,962.7 129.8,962.6 130.6,962.6 131.4,962.6 132.2,962.7 133.0,962.7 133.8,962.8 134.6,962.8 135.4,962.9 136.2,962.9 137.0,962.9 137.8,962.9 138.6,962.8 139.4,962.8 140.2,962.8 141.0,962.8 141.8,962.8 142.6,962.8 143.4,962.8 144.2,962.8 145.0,962.7 145.8,962.7 146.6,962.6 147.4,962.6 148.2,962.5 149.0,962.5 149.8,962.5 150.6,962.6 151.4,962.6 152.2,962.7 153.0,962.8 153.8,962.9 154.6,962.9 155.4,963.0 156.2,963.0 157.0,963.0 157.8,963.0 158.6,963.0 159.4,963.0 160.2,963.0 161.0,962.9 161.8,962.9 162.6,962.9 163.4,962.8 164.2,962.8 165.0,962.8 165.8,962.8 166.6,962.8 167.4,962.8 168.2,962.8 169.0,962.9 169.8,963.0 170.6,963.0 171.4,963.1 172.2,963.2 173.0,963.2 173.8,963.2 174.6,963.3 175.4,963.2 176.2,963.2 177.0,963.2 177.8,963.1 178.6,963.1 179.4,963.1 180.2,963.1 181.0,963.1 181.8,963.1 182.6,963.1 183.4,963.1 184.2,963.2 185.0,963.2 185.8,963.2 186.6,963.2 187.4,963.2 188.2,963.1 189.0,963.0 189.8,963.0 190.6,962.9 191.4,962.8 192.2,962.8 193.0,962.7 193.8,962.6 194.6,962.5 195.4,962.4 196.2,962.4 197.0,962.4 197.8,962.4 198.6,962.4 199.4,962.5 200.2,962.5 201.0,962.5 201.8,962.6 202.6,962.6 203.4,962.6 204.2,962.6 205.0,962.5 205.8,962.5 206.6,962.5 207.4,962.5 208.2,962.5 209.0,962.5 209.8,962.5 210.6,962.6 211.4,962.6 212.2,962.6 213.0,962.6 213.8,962.6 214.6,962.6 215.4,962.6 216.2,962.6 217.0,962.6 217.8,962.6 218.6,962.6 219.4,962.6 220.2,962.6 221.0,962.6 221.8,962.6 222.6,962.5 223.4,962.5 224.2,962.4 225.0,962.4 225.8,962.4 226.6,962.4 227.4,962.4 228.2,962.5 229.0,962.6 229.8,962.6 230.6,962.6 231.4,962.6 232.2,962.6 233.0,962.5 233.8,962.5 234.6,962.4 235.4,962.4 236.2,962.4 237.0,962.4 237.8,962.4 238.6,962.5 239.4,962.5 240.2,962.6 241.0,962.7 241.8,962.8 242.6,962.8 243.4,962.9 244.2,962.9 245.0,962.9 245.8,962.8 246.6,962.8 247.4,962.8 248.2,962.8 249.0,962.8 249.8,962.9 250.6,962.9 251.4,962.9 252.2,962.9 253.0,962.9 253.8,962.8 254.6,962.8 255.4,962.8 256.2,962.8 257.0,962.8 257.8,962.8 258.6,962.8 259.4,962.8 260.2,962.7 261.0,962.7 261.8,962.7 262.6,962.7 263.4,962.7 264.2,962.7 265.0,962.7 265.8,962.7 266.6,962.7 267.4,962.7 268.2,962.7 269.0,962.7 269.8,962.6 270.6,962.6 271.4,962.6 272.2,962.5 273.0,962.5 273.8,962.5 274.6,962.5 275.4,962.5 276.2,962.4 277.0,962.4 277.8,962.4 278.6,962.4 279.4,962.4 280.2,962.4 281.0,962.5 281.8,962.5 282.6,962.6 283.4,962.6 284.2,962.6 285.0,962.6 285.8,962.6 286.6,962.5 287.4,962.5 288.2,962.5 289.0,962.5 289.8,962.4 290.6,962.4 291.4,962.4 292.2,962.4 293.0,962.4 293.8,962.4 294.6,962.4 295.4,962.5 296.2,962.5 297.0,962.5 297.8,962.5 298.6,962.5 299.4,962.5 300.2,962.6 301.0,962.6 301.8,962.6 302.6,962.7 303.4,962.7 304.2,962.7 305.0,962.7 305.8,962.8 306.6,962.8 307.4,962.8 308.2,962.8 309.0,962.8 309.8,962.8 310.6,962.8 311.4,962.8 312.2,962.8 313.0,962.8 313.8,962.8 314.6,962.8 315.4,962.8 316.2,962.8 317.0,962.8 317.8,962.8 318.6,962.8 319.4,962.9 320.2,962.8 321.0,962.8 321.8,962.8 322.6,962.8 323.4,962.8 324.2,962.7 325.0,962.7 325.8,962.7 326.6,962.7 327.4,962.7 328.2,962.7 329.0,962.7 329.8,962.7 330.6,962.7 331.4,962.8 332.2,962.8 333.0,962.8 333.8,962.8 334.6,962.8 335.4,962.8 336.2,962.8 337.0,962.8 337.8,962.7 338.6,962.7 339.4,962.7 340.2,962.6 341.0,962.6 341.8,962.6 342.6,962.6 343.4,962.7 344.2,962.7 345.0,962.7 345.8,962.7 346.6,962.7 347.4,962.7 348.2,962.7 349.0,962.7 349.8,962.7 350.6,962.7 351.4,962.7 352.2,962.7 353.0,962.7 353.8,962.7 354.6,962.7 355.4,962.8 356.2,962.8 357.0,962.8 357.8,962.8 358.6,962.7 359.4,962.7 360.2,962.7 361.0,962.7 361.8,962.7 362.6,962.7 363.4,962.7 364.2,962.7 365.0,962.7 365.8,962.7 366.6,962.7 367.4,962.7 368.2,962.7 369.0,962.7 369.8,962.7 370.6,962.7 371.4,962.7 372.2,962.7 373.0,962.7 373.8,962.7 374.6,962.7 375.4,962.7 376.2,962.7 377.0,962.8 377.8,962.8 378.6,962.8 379.4,962.8 380.2,962.8 381.0,962.8 381.8,962.8 382.6,962.8 383.4,962.9 384.2,962.9 385.0,962.9 385.8,962.9 386.6,962.9 387.4,962.9 388.2,962.9 389.0,962.9 389.8,962.9 390.6,962.9 391.4,962.8 392.2,962.8 393.0,962.8 393.8,962.8 394.6,962.8 395.4,962.8 396.2,962.8 397.0,962.8 397.8,962.8 398.6,962.8 399.4,962.8 400.2,962.7 401.0,962.7 401.8,962.7 402.6,962.6 403.4,962.6 404.2,962.6 405.0,962.6 405.8,962.6 406.6,962.6 407.4,962.6 408.2,962.6 409.0,962.7 409.8,962.7 410.6,962.7 411.4,962.7 412.2,962.7 413.0,962.7 413.8,962.7 414.6,962.8 415.4,962.8 416.2,962.8 417.0,962.8 417.8,962.8 418.6,962.8 419.4,962.8 420.2,962.8 421.0,962.8 421.8,962.8 422.6,962.8 423.4,962.8 424.2,962.8 425.0,962.7 425.8,962.7 426.6,962.7 427.4,962.7 428.2,962.7 429.0,962.7 429.8,962.7 430.6,962.7 431.4,962.7 432.2,962.6 433.0,962.6 433.8,962.6 434.6,962.6 435.4,962.7 436.2,962.7 437.0,962.8 437.8,962.8 438.6,962.8 439.4,962.9 440.2,962.9 441.0,962.9 441.8,962.9 442.6,962.9 443.4,962.9 444.2,962.8 445.0,962.8 445.8,962.7 446.6,962.6 447.4,962.6 448.2,962.5 449.0,962.3 449.8,962.2 450.6,962.0 451.4,961.7 452.2,961.4 453.0,961.0 453.8,960.7 454.6,960.5 455.4,960.6 456.2,960.8 457.0,961.1 457.8,961.4 458.6,961.6 459.4,961.6 460.2,961.4 461.0,960.9 461.8,960.3 462.6,959.7 463.4,959.2 464.2,959.0 465.0,959.3 465.8,959.8 466.6,960.5 467.4,961.1 468.2,961.6 469.0,961.9 469.8,962.1 470.6,962.2 471.4,962.2 472.2,962.0 473.0,961.7 473.8,961.0 474.6,960.1 475.4,958.9 476.2,957.6 477.0,956.4 477.8,955.7 478.6,955.7 479.4,956.5 480.2,957.7 481.0,959.0 481.8,960.1 482.6,960.9 483.4,961.4 484.2,961.6 485.0,961.7 485.8,961.6 486.6,961.5 487.4,961.4 488.2,961.4 489.0,961.5 489.8,961.6 490.6,961.9 491.4,962.1 492.2,962.3 493.0,962.5 493.8,962.7 494.6,962.7 495.4,962.8 496.2,962.8 497.0,962.7 497.8,962.7 498.6,962.6 499.4,962.5 500.2,962.5 501.0,962.4 501.8,962.4 502.6,962.3 503.4,962.3 504.2,962.3 505.0,962.2 505.8,962.1 506.6,962.0 507.4,961.9 508.2,961.7 509.0,961.5 509.8,961.2 510.6,960.8 511.4,960.4 512.2,959.9 513.0,959.4 513.8,958.7 514.6,958.0 515.4,957.3 516.2,956.5 517.0,955.8 517.8,955.1 518.6,954.4 519.4,954.0 520.2,953.7 521.0,953.7 521.8,953.8 522.6,954.1 523.4,954.5 524.2,955.1 525.0,955.7 525.8,956.4 526.6,957.0 527.4,957.7 528.2,958.3 529.0,958.9 529.8,959.4 530.6,959.9 531.4,960.3 532.2,960.6 533.0,961.0 533.8,961.3 534.6,961.5 535.4,961.8 536.2,962.0 537.0,962.1 537.8,962.3 538.6,962.3 539.4,962.4 540.2,962.4 541.0,962.4 541.8,962.3 542.6,962.3 543.4,962.2 544.2,962.1 545.0,961.9 545.8,961.6 546.6,961.3 547.4,960.9 548.2,960.4 549.0,960.0 549.8,959.7 550.6,959.5 551.4,959.5 552.2,959.6 553.0,959.9 553.8,960.3 554.6,960.8 555.4,961.2 556.2,961.6 557.0,961.9 557.8,962.1 558.6,962.3 559.4,962.4 560.2,962.5 561.0,962.5 561.8,962.6 562.6,962.6 563.4,962.6 564.2,962.6 565.0,962.6 565.8,962.6 566.6,962.6 567.4,962.5 568.2,962.5 569.0,962.5 569.8,962.5 570.6,962.5 571.4,962.6 572.2,962.7 573.0,962.8 573.8,962.9 574.6,962.9 575.4,962.9 576.2,962.9 577.0,962.9 577.8,962.8 578.6,962.8 579.4,962.8 580.2,962.8 581.0,962.8 581.8,962.8 582.6,962.7 583.4,962.7 584.2,962.6 585.0,962.5 585.8,962.5 586.6,962.4 587.4,962.4 588.2,962.5 589.0,962.5 589.8,962.6 590.6,962.6 591.4,962.6 592.2,962.6 593.0,962.7 593.8,962.7 594.6,962.7 595.4,962.7 596.2,962.7 597.0,962.7 597.8,962.7 598.6,962.7 599.4,962.7 600.2,962.7 601.0,962.7 601.8,962.8 602.6,962.8 603.4,962.8 604.2,962.8 605.0,962.8 605.8,962.9 606.6,962.8 607.4,962.8 608.2,962.8 609.0,962.8 609.8,962.8 610.6,962.8 611.4,962.8 612.2,962.8 613.0,962.8 613.8,962.8 614.6,962.8 615.4,962.8 616.2,962.8 617.0,962.9 617.8,962.9 618.6,962.9 619.4,962.9 620.2,962.9 621.0,962.9 621.8,962.8 622.6,962.8 623.4,962.8 624.2,962.8 625.0,962.8 625.8,962.8 626.6,962.8 627.4,962.8 628.2,962.8 629.0,962.9 629.8,962.9 630.6,962.9 631.4,962.9 632.2,962.8 633.0,962.8 633.8,962.8 634.6,962.8 635.4,962.8 636.2,962.8 637.0,962.8 637.8,962.8 638.6,962.8 639.4,962.7 640.2,962.7 641.0,962.7 641.8,962.7 642.6,962.7 643.4,962.7 644.2,962.7 645.0,962.7 645.8,962.7 646.6,962.7 647.4,962.7 648.2,962.7 649.0,962.7 649.8,962.7 650.6,962.7 651.4,962.8 652.2,962.8 653.0,962.8 653.8,962.8 654.6,962.8 655.4,962.7 656.2,962.7 657.0,962.6 657.8,962.6 658.6,962.6 659.4,962.6 660.2,962.6 661.0,962.6 661.8,962.7 662.6,962.7 663.4,962.7 664.2,962.7 665.0,962.7 665.8,962.7 666.6,962.7 667.4,962.7 668.2,962.7 669.0,962.7 669.8,962.6 670.6,962.6 671.4,962.6 672.2,962.6 673.0,962.6 673.8,962.6 674.6,962.6 675.4,962.6 676.2,962.6 677.0,962.6 677.8,962.6 678.6,962.6 679.4,962.7 680.2,962.7 681.0,962.7 681.8,962.7 682.6,962.7 683.4,962.8 684.2,962.8 685.0,962.8 685.8,962.8 686.6,962.8 687.4,962.8 688.2,962.8 689.0,962.8 689.8,962.8 690.6,962.8 691.4,962.8 692.2,962.8 693.0,962.8 693.8,962.7 694.6,962.7 695.4,962.8 696.2,962.8 697.0,962.8 697.8,962.8 698.6,962.8 699.4,962.8 700.2,962.8 701.0,962.7 701.8,962.7 702.6,962.7 703.4,962.8 704.2,962.8 705.0,962.8 705.8,962.8 706.6,962.8 707.4,962.8 708.2,962.9 709.0,962.9 709.8,962.9 710.6,962.9 711.4,962.9 712.2,962.9 713.0,962.9 713.8,962.9 714.6,962.9 715.4,962.9 716.2,962.9 717.0,962.9 717.8,962.9 718.6,962.9 719.4,962.9 720.2,962.8 721.0,962.8 721.8,962.8 722.6,962.8 723.4,962.8 724.2,962.9 725.0,962.9 725.8,962.8 726.6,962.8 727.4,962.8 728.2,962.8 729.0,962.8 729.8,962.8 730.6,962.8 731.4,962.8 732.2,962.8 733.0,962.8 733.8,962.8 734.6,962.8 735.4,962.8 736.2,962.8 737.0,962.8 737.8,962.8 738.6,962.8 739.4,962.8 740.2,962.7 741.0,962.7 741.8,962.7 742.6,962.7 743.4,962.7 744.2,962.7 745.0,962.7 745.8,962.7 746.6,962.7 747.4,962.7 748.2,962.7 749.0,962.7 749.8,962.7 750.6,962.7 751.4,962.7 752.2,962.8 753.0,962.8 753.8,962.8 754.6,962.8 755.4,962.9 756.2,962.9 757.0,962.9 757.8,962.9 758.6,962.9 759.4,962.9 760.2,962.8 761.0,962.8 761.8,962.8 762.6,962.8 763.4,962.7 764.2,962.7 765.0,962.8 765.8,962.8 766.6,962.8 767.4,962.9 768.2,962.9 769.0,962.9 769.8,962.9 770.6,962.9 771.4,962.9 772.2,962.8 773.0,962.8 773.8,962.8 774.6,962.8 775.4,962.8 776.2,962.7 777.0,962.7 777.8,962.7 778.6,962.7 779.4,962.7 780.2,962.7 781.0,962.6 781.8,962.6 782.6,962.6 783.4,962.6 784.2,962.7 785.0,962.7 785.8,962.7 786.6,962.7 787.4,962.7 788.2,962.7 789.0,962.7 789.8,962.7 790.6,962.7 791.4,962.7 792.2,962.7 793.0,962.7 793.8,962.7 794.6,962.7 795.4,962.7 796.2,962.7 797.0,962.7 797.8,962.7 798.6,962.7 799.4,962.7 800.2,962.7 801.0,962.7 801.8,962.8 802.6,962.8 803.4,962.8 804.2,962.9 805.0,962.9 805.8,962.9 806.6,962.9 807.4,962.9 808.2,962.8 809.0,962.8 809.8,962.8 810.6,962.9 811.4,962.9 812.2,962.9 813.0,962.9 813.8,962.9 814.6,962.8 815.4,962.8 816.2,962.8 817.0,962.8 817.8,962.8 818.6,962.8 819.4,962.8 820.2,962.8 821.0,962.8 821.8,962.8 822.6,962.8 823.4,962.8 824.2,962.8 825.0,962.8 825.8,962.8 826.6,962.8 827.4,962.8 828.2,962.9 829.0,962.9 829.8,962.9 830.6,963.0 831.4,963.0 832.2,963.0 833.0,962.9 833.8,962.9 834.6,962.9 835.4,962.9 836.2,962.9 837.0,962.9 837.8,962.8 838.6,962.8 839.4,962.8 840.2,962.8 841.0,962.8 841.8,962.7 842.6,962.7 843.4,962.7 844.2,962.7 845.0,962.7 845.8,962.8 846.6,962.8 847.4,962.8 848.2,962.8 849.0,962.8 849.8,962.8 850.6,962.8 851.4,962.8 852.2,962.8 853.0,962.8 853.8,962.7 854.6,962.7 855.4,962.7 856.2,962.7 857.0,962.7 857.8,962.7 858.6,962.8 859.4,962.8 860.2,962.8 861.0,962.9 861.8,962.9 862.6,962.9 863.4,962.9 864.2,962.8 865.0,962.8 865.8,962.8 866.6,962.8 867.4,962.8 868.2,962.8 869.0,962.8 869.8,962.8 870.6,962.9 871.4,962.9 872.2,962.9 873.0,962.9 873.8,962.9 874.6,962.9 875.4,962.9 876.2,962.9 877.0,962.9 877.8,962.9 878.6,962.9 879.4,962.9 880.2,962.9 881.0,962.9 881.8,962.9 882.6,962.9 883.4,963.0 884.2,963.0 885.0,963.0 885.8,963.0 886.6,963.0 887.4,963.0 888.2,963.0 889.0,963.0 889.8,963.0 890.6,963.0 891.4,963.0 892.2,963.0 893.0,963.0 893.8,962.9 894.6,962.9 895.4,962.9 896.2,962.9 897.0,962.9 897.8,962.9 898.6,962.9 899.4,962.9 900.2,962.9 901.0,962.9 901.8,962.9 902.6,962.9 903.4,962.9 904.2,962.9 905.0,962.9 905.8,962.9 906.6,962.9 907.4,962.9 908.2,962.8 909.0,962.8 909.8,962.8 910.6,962.8 911.4,962.7 912.2,962.7 913.0,962.7 913.8,962.7 914.6,962.7 915.4,962.7 916.2,962.7 917.0,962.7 917.8,962.6 918.6,962.6 919.4,962.5 920.2,962.4 921.0,962.3 921.8,962.2 922.6,962.1 923.4,962.1 924.2,962.0 925.0,961.9 925.8,961.8 926.6,961.6 927.4,961.5 928.2,961.5 929.0,961.5 929.8,961.5 930.6,961.7 931.4,961.8 932.2,962.0 933.0,962.1 933.8,962.2 934.6,962.3 935.4,962.4 936.2,962.5 937.0,962.5 937.8,962.6 938.6,962.6 939.4,962.6 940.2,962.7 941.0,962.7 941.8,962.8 942.6,962.9 943.4,963.0 944.2,963.0 945.0,963.1 945.8,963.1 946.6,963.0 947.4,963.0 948.2,962.9 949.0,962.8 949.8,962.6 950.6,962.5 951.4,962.4 952.2,962.3 953.0,962.2 953.8,962.1 954.6,962.0 955.4,961.9 956.2,961.8 957.0,961.8 957.8,961.7 958.6,961.8 959.4,961.8 960.2,961.9 961.0,962.0 961.8,962.1 962.6,962.2 963.4,962.2 964.2,962.3 965.0,962.4 965.8,962.5 966.6,962.5 967.4,962.6 968.2,962.7 969.0,962.8 969.8,962.9 970.6,962.9 971.4,963.0 972.2,963.0 973.0,963.0 973.8,963.0 974.6,962.9 975.4,962.9 976.2,962.9 977.0,962.8 977.8,962.8 978.6,962.8 979.4,962.8 980.2,962.8 981.0,962.7 981.8,962.6 982.6,962.5 983.4,962.3 984.2,962.2 985.0,962.0 985.8,961.9 986.6,961.8 987.4,961.8 988.2,961.8 989.0,961.8 989.8,961.8 990.6,961.9 991.4,962.0 992.2,962.1 993.0,962.2 993.8,962.2 994.6,962.3 995.4,962.4 996.2,962.5 997.0,962.6 997.8,962.7 998.6,962.7 999.4,962.7 1000.2,962.6 1001.0,962.5 1001.8,962.5 1002.6,962.4 1003.4,962.3 1004.2,962.3 1005.0,962.3 1005.8,962.3 1006.6,962.3 1007.4,962.3 1008.2,962.3 1009.0,962.3 1009.8,962.3 1010.6,962.2 1011.4,962.2 1012.2,962.1 1013.0,962.1 1013.8,962.0 1014.6,962.0 1015.4,962.1 1016.2,962.1 1017.0,962.2 1017.8,962.3 1018.6,962.4 1019.4,962.4 1020.2,962.5 1021.0,962.6 1021.8,962.7 1022.6,962.8 1023.4,962.8 1024.2,962.9 1025.0,962.9 1025.8,962.9 1026.6,962.8 1027.4,962.8 1028.2,962.8 1029.0,962.7 1029.8,962.7 1030.6,962.8 1031.4,962.8 1032.2,962.8 1033.0,962.8 1033.8,962.8 1034.6,962.8 1035.4,962.7 1036.2,962.6 1037.0,962.6 1037.8,962.5 1038.6,962.4 1039.4,962.4 1040.2,962.4 1041.0,962.4 1041.8,962.5 1042.6,962.6 1043.4,962.8 1044.2,963.0 1045.0,963.1 1045.8,963.2 1046.6,963.3 1047.4,963.2 1048.2,963.1 1049.0,963.0 1049.8,962.9 1050.6,962.7 1051.4,962.6 1052.2,962.5 1053.0,962.5 1053.8,962.4 1054.6,962.5 1055.4,962.5 1056.2,962.5 1057.0,962.5 1057.8,962.5 1058.6,962.5 1059.4,962.5 1060.2,962.5 1061.0,962.6 1061.8,962.7 1062.6,962.8 1063.4,962.9 1064.2,963.0 1065.0,963.0 1065.8,963.0 1066.6,962.9 1067.4,962.6 1068.2,961.9 1069.0,960.7 1069.8,959.4 1070.6,958.4 1071.4,958.4 1072.2,959.4 1073.0,960.7 1073.8,961.8 1074.6,962.4 1075.4,962.6 1076.2,962.4 1077.0,962.0 1077.8,961.6 1078.6,961.4 1079.4,961.6 1080.2,962.0 1081.0,962.4 1081.8,962.7 1082.6,962.9 1083.4,963.0 1084.2,963.0 1085.0,963.1 1085.8,963.1 1086.6,963.1 1087.4,963.2 1088.2,963.2 1089.0,963.2 1089.8,963.2 1090.6,963.1 1091.4,963.1 1092.2,963.0 1093.0,963.0 1093.8,962.9 1094.6,962.9 1095.4,963.0 1096.2,963.0 1097.0,963.0 1097.8,963.0 1098.6,962.9 1099.4,962.9 1100.2,962.9 1101.0,962.9 1101.8,962.9 1102.6,962.9 1103.4,962.9 1104.2,962.9 1105.0,963.0 1105.8,963.0 1106.6,962.9 1107.4,962.9 1108.2,962.8 1109.0,962.6 1109.8,962.5 1110.6,962.4 1111.4,962.1 1112.2,961.4 1113.0,959.6 1113.8,956.2 1114.6,951.7 1115.4,947.8 1116.2,947.1 1117.0,950.3 1117.8,954.8 1118.6,958.6 1119.4,960.8 1120.2,961.8 1121.0,962.2 1121.8,962.3 1122.6,962.3 1123.4,962.3 1124.2,962.2 1125.0,962.1 1125.8,962.0 1126.6,961.8 1127.4,961.6 1128.2,961.3 1129.0,960.4 1129.8,958.7 1130.6,955.7 1131.4,951.8 1132.2,948.0 1133.0,946.4 1133.8,947.2 1134.6,949.2 1135.4,951.8 1136.2,954.5 1137.0,956.8 1137.8,958.6 1138.6,959.9 1139.4,960.7 1140.2,961.2 1141.0,961.5 1141.8,961.7 1142.6,961.8 1143.4,961.9 1144.2,961.9 1145.0,961.9 1145.8,961.8 1146.6,961.7 1147.4,961.7 1148.2,961.6 1149.0,961.7 1149.8,961.7 1150.6,961.7 1151.4,961.8 1152.2,961.8 1153.0,961.8 1153.8,961.8 1154.6,961.7 1155.4,961.6 1156.2,961.5 1157.0,961.4 1157.8,961.4 1158.6,961.3 1159.4,961.3 1160.2,961.2 1161.0,961.1 1161.8,961.0 1162.6,960.8 1163.4,960.6 1164.2,960.4 1165.0,960.3 1165.8,960.2 1166.6,960.2 1167.4,960.3 1168.2,960.4 1169.0,960.6 1169.8,960.7 1170.6,960.9 1171.4,961.0 1172.2,961.1 1173.0,961.2 1173.8,961.2 1174.6,961.3 1175.4,961.3 1176.2,961.4 1177.0,961.4 1177.8,961.5 1178.6,961.5 1179.4,961.4 1180.2,961.4 1181.0,961.3 1181.8,961.3 1182.6,961.3 1183.4,961.3 1184.2,961.3 1185.0,961.4 1185.8,961.5 1186.6,961.6 1187.4,961.6 1188.2,961.7 1189.0,961.7 1189.8,961.7 1190.6,961.7 1191.4,961.8 1192.2,961.8 1193.0,961.8 1193.8,961.9 1194.6,961.9 1195.4,961.9 1196.2,961.9 1197.0,962.0 1197.8,962.0 1198.6,962.0 1199.4,962.1 1200.2,962.1 1201.0,962.1 1201.8,962.1 1202.6,962.1 1203.4,962.0 1204.2,961.9 1205.0,961.9 1205.8,961.8 1206.6,961.9 1207.4,961.9 1208.2,962.0 1209.0,962.1 1209.8,962.1 1210.6,962.1 1211.4,962.1 1212.2,962.0 1213.0,962.0 1213.8,962.0 1214.6,961.9 1215.4,961.8 1216.2,961.8 1217.0,961.8 1217.8,961.8 1218.6,961.8 1219.4,961.9 1220.2,962.0 1221.0,962.0 1221.8,962.0 1222.6,962.0 1223.4,961.9 1224.2,961.8 1225.0,961.7 1225.8,961.6 1226.6,961.6 1227.4,961.6 1228.2,961.7 1229.0,961.8 1229.8,961.8 1230.6,961.8 1231.4,961.7 1232.2,961.7 1233.0,961.6 1233.8,961.5 1234.6,961.4 1235.4,961.4 1236.2,961.4 1237.0,961.5 1237.8,961.5 1238.6,961.5 1239.4,961.6 1240.2,961.5 1241.0,961.5 1241.8,961.3 1242.6,961.1 1243.4,960.8 1244.2,960.6 1245.0,960.4 1245.8,960.4 1246.6,960.5 1247.4,960.6 1248.2,960.9 1249.0,961.2 1249.8,961.5 1250.6,961.8 1251.4,962.0 1252.2,962.0 1253.0,962.0 1253.8,961.9 1254.6,961.7 1255.4,961.4 1256.2,961.2 1257.0,961.1 1257.8,961.1 1258.6,961.2 1259.4,961.4 1260.2,961.7 1261.0,962.0 1261.8,962.3 1262.6,962.5 1263.4,962.7 1264.2,962.8 1265.0,962.8 1265.8,962.7 1266.6,962.7 1267.4,962.6 1268.2,962.5 1269.0,962.3 1269.8,962.2 1270.6,962.1 1271.4,962.0 1272.2,961.9 1273.0,962.0 1273.8,962.0 1274.6,962.0 1275.4,962.1 1276.2,962.1 1277.0,962.2 1277.8,962.1 1278.6,962.1 1279.4,962.0 1280.2,961.9 1281.0,961.8 1281.8,961.8 1282.6,961.7 1283.4,961.6 1284.2,961.4 1285.0,961.2 1285.8,960.9 1286.6,960.5 1287.4,960.1 1288.2,959.7 1289.0,959.3 1289.8,959.0 1290.6,958.7 1291.4,958.6 1292.2,958.6 1293.0,958.7 1293.8,959.0 1294.6,959.2 1295.4,959.6 1296.2,960.0 1297.0,960.3 1297.8,960.7 1298.6,960.9 1299.4,961.1 1300.2,961.2 1301.0,961.2 1301.8,961.1 1302.6,961.0 1303.4,960.8 1304.2,960.5 1305.0,960.1 1305.8,959.4 1306.6,958.4 1307.4,957.2 1308.2,956.1 1309.0,955.4 1309.8,955.5 1310.6,956.2 1311.4,957.4 1312.2,958.6 1313.0,959.6 1313.8,960.3 1314.6,960.8 1315.4,961.1 1316.2,961.2 1317.0,961.2 1317.8,961.0 1318.6,960.8 1319.4,960.7 1320.2,960.7 1321.0,960.9 1321.8,961.2 1322.6,961.4 1323.4,961.6 1324.2,961.6 1325.0,961.6 1325.8,961.6 1326.6,961.5 1327.4,961.4 1328.2,961.3 1329.0,961.1 1329.8,961.0 1330.6,960.9 1331.4,960.8 1332.2,960.8 1333.0,960.8 1333.8,960.9 1334.6,961.0 1335.4,961.1 1336.2,961.2 1337.0,961.4 1337.8,961.5 1338.6,961.6 1339.4,961.7 1340.2,961.7 1341.0,961.8 1341.8,961.9 1342.6,962.0 1343.4,962.0 1344.2,962.0 1345.0,962.0 1345.8,961.9 1346.6,961.7 1347.4,961.5 1348.2,961.3 1349.0,961.2 1349.8,961.1 1350.6,961.2 1351.4,961.2 1352.2,961.3 1353.0,961.4 1353.8,961.3 1354.6,961.1 1355.4,960.7 1356.2,960.1 1357.0,959.3 1357.8,958.6 1358.6,958.0 1359.4,957.7 1360.2,957.9 1361.0,958.4 1361.8,959.1 1362.6,959.9 1363.4,960.5 1364.2,960.9 1365.0,961.2 1365.8,961.3 1366.6,961.3 1367.4,961.3 1368.2,961.3 1369.0,961.3 1369.8,961.4 1370.6,961.5 1371.4,961.7 1372.2,961.8 1373.0,961.9 1373.8,962.0 1374.6,962.1 1375.4,962.1 1376.2,962.1 1377.0,962.1 1377.8,962.1 1378.6,962.1 1379.4,962.0 1380.2,962.1 1381.0,962.1 1381.8,962.1 1382.6,962.0 1383.4,961.9 1384.2,961.8 1385.0,961.7 1385.8,961.7 1386.6,961.6 1387.4,961.6 1388.2,961.6 1389.0,961.7 1389.8,961.7 1390.6,961.7 1391.4,961.7 1392.2,961.6 1393.0,961.6 1393.8,961.5 1394.6,961.5 1395.4,961.6 1396.2,961.7 1397.0,961.9 1397.8,962.0 1398.6,962.1 1399.4,962.2 1400.2,962.3 1401.0,962.3 1401.8,962.2 1402.6,962.1 1403.4,962.1 1404.2,961.9 1405.0,961.8 1405.8,961.7 1406.6,961.6 1407.4,961.4 1408.2,961.2 1409.0,961.0 1409.8,960.6 1410.6,960.3 1411.4,959.8 1412.2,959.3 1413.0,958.6 1413.8,957.9 1414.6,956.9 1415.4,955.8 1416.2,954.3 1417.0,952.7 1417.8,950.8 1418.6,948.8 1419.4,946.7 1420.2,944.8 1421.0,943.0 1421.8,941.6 1422.6,940.7 1423.4,940.3 1424.2,940.5 1425.0,941.3 1425.8,942.6 1426.6,944.3 1427.4,946.2 1428.2,948.4 1429.0,950.5 1429.8,952.5 1430.6,954.4 1431.4,955.9 1432.2,957.1 1433.0,958.0 1433.8,958.6 1434.6,959.1 1435.4,959.4 1436.2,959.5 1437.0,959.6 1437.8,959.5 1438.6,959.3 1439.4,958.9 1440.2,958.2 1441.0,957.2 1441.8,955.5 1442.6,952.4 1443.4,946.4 1444.2,935.9 1445.0,919.9 1445.8,899.6 1446.6,879.8 1447.4,870.2 1448.2,876.9 1449.0,894.6 1449.8,914.7 1450.6,931.6 1451.4,943.4 1452.2,950.6 1453.0,954.6 1453.8,956.8 1454.6,958.0 1455.4,958.8 1456.2,959.5 1457.0,959.9 1457.8,960.3 1458.6,960.7 1459.4,961.0 1460.2,961.2 1461.0,961.3 1461.8,961.3 1462.6,961.3 1463.4,961.2 1464.2,961.2 1465.0,961.1 1465.8,961.1 1466.6,961.2 1467.4,961.2 1468.2,961.3 1469.0,961.4 1469.8,961.5 1470.6,961.7 1471.4,961.8 1472.2,961.9 1473.0,962.0 1473.8,962.1 1474.6,962.0 1475.4,961.9 1476.2,961.7 1477.0,961.5 1477.8,961.4 1478.6,961.2 1479.4,961.2 1480.2,961.3 1481.0,961.4 1481.8,961.6 1482.6,961.8 1483.4,961.8 1484.2,961.9 1485.0,961.8 1485.8,961.8 1486.6,961.7 1487.4,961.7 1488.2,961.7 1489.0,961.8 1489.8,961.7 1490.6,961.7 1491.4,961.5 1492.2,961.4 1493.0,961.3 1493.8,961.2 1494.6,961.1 1495.4,960.9 1496.2,960.8 1497.0,960.5 1497.8,960.2 1498.6,959.9 1499.4,959.5 1500.2,959.1 1501.0,958.7 1501.8,958.3 1502.6,957.9 1503.4,957.5 1504.2,956.9 1505.0,956.3 1505.8,955.7 1506.6,954.9 1507.4,954.2 1508.2,953.6 1509.0,953.0 1509.8,952.6 1510.6,952.2 1511.4,951.9 1512.2,951.7 1513.0,951.6 1513.8,952.0 1514.6,953.2 1515.4,954.9 1516.2,956.8 1517.0,958.7 1517.8,960.4 1518.6,961.9 1519.4,963.2 1520.2,964.3 1521.0,965.1 1521.8,965.7 1522.6,966.2 1523.4,966.5 1524.2,966.8 1525.0,966.9 1525.8,967.0 1526.6,967.1 1527.4,967.2 1528.2,967.2 1529.0,967.3 1529.8,967.4 1530.6,967.5 1531.4,967.7 1532.2,967.9 1533.0,968.1 1533.8,968.2 1534.6,968.3 1535.4,968.3 1536.2,968.2 1537.0,968.0 1537.8,967.8 1538.6,967.5 1539.4,967.3 1540.2,967.1 1541.0,967.1 1541.8,967.1 1542.6,967.1 1543.4,967.3 1544.2,967.4 1545.0,967.6 1545.8,967.7 1546.6,967.7 1547.4,967.7 1548.2,967.7 1549.0,967.6 1549.8,967.6 1550.6,967.6 1551.4,967.7 1552.2,967.8 1553.0,967.9 1553.8,968.0 1554.6,968.0 1555.4,968.1 1556.2,968.1 1557.0,968.1 1557.8,968.0 1558.6,967.8 1559.4,967.7 1560.2,966.9 1561.0,965.9 1561.8,964.9 1562.6,963.9 1563.4,964.4 1564.2,965.1 1565.0,965.9 1565.8,966.7 1566.6,967.6 1567.4,968.4 1568.2,969.2 1569.0,970.0 1569.8,970.7 1570.6,971.4"/>
<polyline stroke="#a0a0a0" filter="url(#hardc)" points="60.0,1027.0 73.0,1027.0 73.8,1027.0 74.6,1027.0 75.4,1027.0 76.2,1027.0 77.0,1027.1 77.8,1027.1 78.6,1027.1 79.4,1027.1 80.2,1027.1 81.0,1027.1 81.8,1027.1 82.6,1027.1 83.4,1027.1 84.2,1027.1 85.0,1027.1 85.8,1027.1 86.6,1027.1 87.4,1027.1 88.2,1027.1 89.0,1027.1 89.8,1027.1 90.6,1027.1 91.4,1027.1 92.2,1027.1 93.0,1027.2 93.8,1027.2 94.6,1027.4 95.4,1027.5 96.2,1027.5 97.0,1027.5 97.8,1027.5 98.6,1027.5 99.4,1027.5 100.2,1027.4 101.0,1027.4 101.8,1027.3 102.6,1027.2 103.4,1027.2 104.2,1027.1 105.0,1027.2 105.8,1027.2 106.6,1027.2 107.4,1027.3 108.2,1027.3 109.0,1027.2 109.8,1027.2 110.6,1027.1 111.4,1027.0 112.2,1027.0 113.0,1027.0 113.8,1027.0 114.6,1027.1 115.4,1027.1 116.2,1027.2 117.0,1027.2 117.8,1027.2 118.6,1027.2 119.4,1027.2 120.2,1027.2 121.0,1027.2 121.8,1027.2 122.6,1027.3 123.4,1027.3 124.2,1027.3 125.0,1027.3 125.8,1027.3 126.6,1027.3 127.4,1027.2 128.2,1027.2 129.0,1027.1 129.8,1027.0 130.6,1026.9 131.4,1026.8 132.2,1026.8 133.0,1026.8 133.8,1026.9 134.6,1026.9 135.4,1026.9 136.2,1027.0 137.0,1027.0 137.8,1027.0 138.6,1027.0 139.4,1026.9 140.2,1026.9 141.0,1026.9 141.8,1026.8 142.6,1026.7 143.4,1026.7 144.2,1026.7 145.0,1026.7 145.8,1026.7 146.6,1026.7 147.4,1026.8 148.2,1026.8 149.0,1026.8 149.8,1026.8 150.6,1026.9 151.4,1026.9 152.2,1027.0 153.0,1027.0 153.8,1027.0 154.6,1027.1 155.4,1027.0 156.2,1027.0 157.0,1027.0 157.8,1027.0 158.6,1026.9 159.4,1026.9 160.2,1026.9 161.0,1027.0 161.8,1027.0 162.6,1027.0 163.4,1027.0 164.2,1027.1 165.0,1027.1 165.8,1027.1 166.6,1027.1 167.4,1027.1 168.2,1027.0 169.0,1027.0 169.8,1027.0 170.6,1026.9 171.4,1026.9 172.2,1026.9 173.0,1026.9 173.8,1026.9 174.6,1026.9 175.4,1026.9 176.2,1027.0 177.0,1027.1 177.8,1027.2 178.6,1027.3 179.4,1027.4 180.2,1027.4 181.0,1027.5 181.8,1027.5 182.6,1027.5 183.4,1027.6 184.2,1027.5 185.0,1027.5 185.8,1027.5 186.6,1027.6 187.4,1027.6 188.2,1027.6 189.0,1027.6 189.8,1027.6 190.6,1027.6 191.4,1027.6 192.2,1027.6 193.0,1027.5 193.8,1027.5 194.6,1027.4 195.4,1027.3 196.2,1027.2 197.0,1027.1 197.8,1027.1 198.6,1027.1 199.4,1027.1 200.2,1027.1 201.0,1027.1 201.8,1027.1 202.6,1027.1 203.4,1027.1 204.2,1027.2 205.0,1027.2 205.8,1027.2 206.6,1027.3 207.4,1027.3 208.2,1027.3 209.0,1027.3 209.8,1027.3 210.6,1027.2 211.4,1027.2 212.2,1027.2 213.0,1027.1 213.8,1027.1 214.6,1027.1 215.4,1027.1 216.2,1027.1 217.0,1027.1 217.8,1027.1 218.6,1027.1 219.4,1027.1 220.2,1027.1 221.0,1027.1 221.8,1027.1 222.6,1027.1 223.4,1027.0 224.2,1027.0 225.0,1027.0 225.8,1027.0 226.6,1027.0 227.4,1027.0 228.2,1027.0 229.0,1027.0 229.8,1027.0 230.6,1027.0 231.4,1027.0 232.2,1027.0 233.0,1027.0 233.8,1027.1 234.6,1027.1 235.4,1027.1 236.2,1027.1 237.0,1027.0 237.8,1027.0 238.6,1027.0 239.4,1027.0 240.2,1027.1 241.0,1027.1 241.8,1027.1 242.6,1027.1 243.4,1027.1 244.2,1027.1 245.0,1027.0 245.8,1027.0 246.6,1027.0 247.4,1026.9 248.2,1026.9 249.0,1026.8 249.8,1026.8 250.6,1026.8 251.4,1026.8 252.2,1026.8 253.0,1026.8 253.8,1026.8 254.6,1026.8 255.4,1026.8 256.2,1026.7 257.0,1026.7 257.8,1026.7 258.6,1026.6 259.4,1026.6 260.2,1026.6 261.0,1026.6 261.8,1026.6 262.6,1026.7 263.4,1026.7 264.2,1026.8 265.0,1026.8 265.8,1026.9 266.6,1026.9 267.4,1026.9 268.2,1026.9 269.0,1026.9 269.8,1027.0 270.6,1027.0 271.4,1027.0 272.2,1027.0 273.0,1027.0 273.8,1027.0 274.6,1027.0 275.4,1027.0 276.2,1027.0 277.0,1027.0 277.8,1026.9 278.6,1026.9 279.4,1026.9 280.2,1026.9 281.0,1026.9 281.8,1026.9 282.6,1026.8 283.4,1026.8 284.2,1026.8 285.0,1026.8 285.8,1026.8 286.6,1026.8 287.4,1026.8 288.2,1026.8 289.0,1026.8 289.8,1026.8 290.6,1026.8 291.4,1026.8 292.2,1026.9 293.0,1026.9 293.8,1027.0 294.6,1027.1 295.4,1027.2 296.2,1027.2 297.0,1027.3 297.8,1027.3 298.6,1027.2 299.4,1027.2 300.2,1027.2 301.0,1027.1 301.8,1027.1 302.6,1027.0 303.4,1027.0 304.2,1027.0 305.0,1027.0 305.8,1027.0 306.6,1026.9 307.4,1026.9 308.2,1026.9 309.0,1026.9 309.8,1026.9 310.6,1026.9 311.4,1026.9 312.2,1027.0 313.0,1027.0 313.8,1027.0 314.6,1027.0 315.4,1027.0 316.2,1027.0 317.0,1027.1 317.8,1027.1 318.6,1027.1 319.4,1027.1 320.2,1027.1 321.0,1027.1 321.8,1027.1 322.6,1027.1 323.4,1027.1 324.2,1027.1 325.0,1027.1 325.8,1027.1 326.6,1027.1 327.4,1027.1 328.2,1027.1 329.0,1027.1 329.8,1027.1 330.6,1027.1 331.4,1027.1 332.2,1027.1 333.0,1027.1 333.8,1027.1 334.6,1027.1 335.4,1027.1 336.2,1027.1 337.0,1027.1 337.8,1027.1 338.6,1027.1 339.4,1027.1 340.2,1027.1 341.0,1027.1 341.8,1027.1 342.6,1027.1 343.4,1027.1 344.2,1027.1 345.0,1027.1 345.8,1027.1 346.6,1027.0 347.4,1027.0 348.2,1027.0 349.0,1027.0 349.8,1026.9 350.6,1026.9 351.4,1026.8 352.2,1026.8 353.0,1026.8 353.8,1026.8 354.6,1026.9 355.4,1026.9 356.2,1026.9 357.0,1027.0 357.8,1027.0 358.6,1027.0 359.4,1026.9 360.2,1026.9 361.0,1026.9 361.8,1026.9 362.6,1026.9 363.4,1026.9 364.2,1026.9 365.0,1026.9 365.8,1026.9 366.6,1026.9 367.4,1026.9 368.2,1026.9 369.0,1026.9 369.8,1026.9 370.6,1026.9 371.4,1026.9 372.2,1026.9 373.0,1026.9 373.8,1026.9 374.6,1026.9 375.4,1026.9 376.2,1027.0 377.0,1027.0 377.8,1027.0 378.6,1027.1 379.4,1027.1 380.2,1027.2 381.0,1027.2 381.8,1027.2 382.6,1027.1 383.4,1027.1 384.2,1027.1 385.0,1027.1 385.8,1027.1 386.6,1027.1 387.4,1027.1 388.2,1027.1 389.0,1027.0 389.8,1027.0 390.6,1027.0 391.4,1027.0 392.2,1027.0 393.0,1027.0 393.8,1027.0 394.6,1027.0 395.4,1027.0 396.2,1027.0 397.0,1027.0 397.8,1027.0 398.6,1027.0 399.4,1027.0 400.2,1027.0 401.0,1027.0 401.8,1027.0 402.6,1027.0 403.4,1027.0 404.2,1027.0 405.0,1027.0 405.8,1027.1 406.6,1027.1 407.4,1027.1 408.2,1027.1 409.0,1027.1 409.8,1027.1 410.6,1027.1 411.4,1027.1 412.2,1027.1 413.0,1027.1 413.8,1027.1 414.6,1027.1 415.4,1027.0 416.2,1027.0 417.0,1027.0 417.8,1027.0 418.6,1027.0 419.4,1026.9 420.2,1026.9 421.0,1026.9 421.8,1026.9 422.6,1026.9 423.4,1026.9 424.2,1026.9 425.0,1026.9 425.8,1026.9 426.6,1026.9 427.4,1026.8 428.2,1026.8 429.0,1026.8 429.8,1026.9 430.6,1026.9 431.4,1027.0 432.2,1027.1 433.0,1027.1 433.8,1027.1 434.6,1027.1 435.4,1027.1 436.2,1027.0 437.0,1027.0 437.8,1027.0 438.6,1027.0 439.4,1027.0 440.2,1027.0 441.0,1027.0 441.8,1027.0 442.6,1027.0 443.4,1027.0 444.2,1026.9 445.0,1026.9 445.8,1026.9 446.6,1026.9 447.4,1026.9 448.2,1026.8 449.0,1026.8 449.8,1026.7 450.6,1026.6 451.4,1026.4 452.2,1026.1 453.0,1025.9 453.8,1025.6 454.6,1025.5 455.4,1025.5 456.2,1025.6 457.0,1025.8 457.8,1026.0 458.6,1026.1 459.4,1026.1 460.2,1026.0 461.0,1025.7 461.8,1025.3 462.6,1024.9 463.4,1024.6 464.2,1024.5 465.0,1024.7 465.8,1025.0 466.6,1025.4 467.4,1025.8 468.2,1026.1 469.0,1026.4 469.8,1026.5 470.6,1026.5 471.4,1026.5 472.2,1026.4 473.0,1026.1 473.8,1025.6 474.6,1024.9 475.4,1024.0 476.2,1023.0 477.0,1022.1 477.8,1021.5 478.6,1021.5 479.4,1022.1 480.2,1023.1 481.0,1024.1 481.8,1025.0 482.6,1025.7 483.4,1026.1 484.2,1026.3 485.0,1026.4 485.8,1026.3 486.6,1026.2 487.4,1026.2 488.2,1026.1 489.0,1026.1 489.8,1026.2 490.6,1026.2 491.4,1026.3 492.2,1026.4 493.0,1026.5 493.8,1026.5 494.6,1026.6 495.4,1026.7 496.2,1026.7 497.0,1026.8 497.8,1026.8 498.6,1026.9 499.4,1026.9 500.2,1026.9 501.0,1026.9 501.8,1026.8 502.6,1026.8 503.4,1026.8 504.2,1026.8 505.0,1026.7 505.8,1026.7 506.6,1026.6 507.4,1026.5 508.2,1026.4 509.0,1026.2 509.8,1025.9 510.6,1025.7 511.4,1025.3 512.2,1025.0 513.0,1024.6 513.8,1024.2 514.6,1023.7 515.4,1023.2 516.2,1022.6 517.0,1022.1 517.8,1021.6 518.6,1021.2 519.4,1020.9 520.2,1020.7 521.0,1020.6 521.8,1020.7 522.6,1020.8 523.4,1021.0 524.2,1021.3 525.0,1021.7 525.8,1022.1 526.6,1022.5 527.4,1023.0 528.2,1023.4 529.0,1023.8 529.8,1024.2 530.6,1024.6 531.4,1024.9 532.2,1025.2 533.0,1025.5 533.8,1025.7 534.6,1025.8 535.4,1026.0 536.2,1026.1 537.0,1026.1 537.8,1026.2 538.6,1026.2 539.4,1026.2 540.2,1026.2 541.0,1026.2 541.8,1026.2 542.6,1026.2 543.4,1026.2 544.2,1026.1 545.0,1026.0 545.8,1025.8 546.6,1025.6 547.4,1025.4 548.2,1025.0 549.0,1024.7 549.8,1024.5 550.6,1024.3 551.4,1024.3 552.2,1024.4 553.0,1024.8 553.8,1025.2 554.6,1025.6 555.4,1026.0 556.2,1026.3 557.0,1026.5 557.8,1026.6 558.6,1026.6 559.4,1026.7 560.2,1026.7 561.0,1026.7 561.8,1026.7 562.6,1026.8 563.4,1026.8 564.2,1026.8 565.0,1026.8 565.8,1026.8 566.6,1026.8 567.4,1026.8 568.2,1026.8 569.0,1026.8 569.8,1026.8 570.6,1026.8 571.4,1026.8 572.2,1026.8 573.0,1026.8 573.8,1026.8 574.6,1026.8 575.4,1026.8 576.2,1026.7 577.0,1026.7 577.8,1026.7 578.6,1026.7 579.4,1026.8 580.2,1026.8 581.0,1026.8 581.8,1026.8 582.6,1026.8 583.4,1026.8 584.2,1026.8 585.0,1026.8 585.8,1026.8 586.6,1026.8 587.4,1026.8 588.2,1026.8 589.0,1026.7 589.8,1026.7 590.6,1026.7 591.4,1026.7 592.2,1026.7 593.0,1026.7 593.8,1026.8 594.6,1026.8 595.4,1026.8 596.2,1026.8 597.0,1026.9 597.8,1026.9 598.6,1026.9 599.4,1026.9 600.2,1026.9 601.0,1027.0 601.8,1027.0 602.6,1027.0 603.4,1026.9 604.2,1026.9 605.0,1027.0 605.8,1027.0 606.6,1027.0 607.4,1027.0 608.2,1027.0 609.0,1027.0 609.8,1027.0 610.6,1026.9 611.4,1026.9 612.2,1026.9 613.0,1026.9 613.8,1026.9 614.6,1026.9 615.4,1026.9 616.2,1026.9 617.0,1026.9 617.8,1026.9 618.6,1026.9 619.4,1026.9 620.2,1027.0 621.0,1027.0 621.8,1027.0 622.6,1026.9 623.4,1026.9 624.2,1026.9 625.0,1026.9 625.8,1026.9 626.6,1027.0 627.4,1027.0 628.2,1027.0 629.0,1027.0 629.8,1027.0 630.6,1027.0 631.4,1026.9 632.2,1026.9 633.0,1026.9 633.8,1026.9 634.6,1026.9 635.4,1026.9 636.2,1026.9 637.0,1026.8 637.8,1026.8 638.6,1026.8 639.4,1026.8 640.2,1026.8 641.0,1026.8 641.8,1026.8 642.6,1026.8 643.4,1026.8 644.2,1026.8 645.0,1026.9 645.8,1026.9 646.6,1027.0 647.4,1027.0 648.2,1027.0 649.0,1027.1 649.8,1027.1 650.6,1027.1 651.4,1027.1 652.2,1027.1 653.0,1027.1 653.8,1027.1 654.6,1027.1 655.4,1027.1 656.2,1027.1 657.0,1027.1 657.8,1027.1 658.6,1027.1 659.4,1027.1 660.2,1027.0 661.0,1027.0 661.8,1027.0 662.6,1027.0 663.4,1027.1 664.2,1027.1 665.0,1027.1 665.8,1027.1 666.6,1027.1 667.4,1027.1 668.2,1027.1 669.0,1027.1 669.8,1027.1 670.6,1027.0 671.4,1027.0 672.2,1027.0 673.0,1027.0 673.8,1027.0 674.6,1027.0 675.4,1027.0 676.2,1027.0 677.0,1027.0 677.8,1027.0 678.6,1027.0 679.4,1027.0 680.2,1026.9 681.0,1026.9 681.8,1026.9 682.6,1026.9 683.4,1026.9 684.2,1026.9 685.0,1026.9 685.8,1026.9 686.6,1027.0 687.4,1027.0 688.2,1027.0 689.0,1027.0 689.8,1027.0 690.6,1027.0 691.4,1027.0 692.2,1027.0 693.0,1027.0 693.8,1027.0 694.6,1027.0 695.4,1027.0 696.2,1027.0 697.0,1027.0 697.8,1027.0 698.6,1027.1 699.4,1027.1 700.2,1027.1 701.0,1027.1 701.8,1027.1 702.6,1027.1 703.4,1027.1 704.2,1027.1 705.0,1027.0 705.8,1027.0 706.6,1027.0 707.4,1027.0 708.2,1027.0 709.0,1027.0 709.8,1027.0 710.6,1027.0 711.4,1027.0 712.2,1027.0 713.0,1027.1 713.8,1027.1 714.6,1027.1 715.4,1027.1 716.2,1027.1 717.0,1027.1 717.8,1027.1 718.6,1027.1 719.4,1027.1 720.2,1027.1 721.0,1027.1 721.8,1027.1 722.6,1027.1 723.4,1027.0 724.2,1027.0 725.0,1027.0 725.8,1027.0 726.6,1027.0 727.4,1027.1 728.2,1027.1 729.0,1027.1 729.8,1027.1 730.6,1027.2 731.4,1027.2 732.2,1027.2 733.0,1027.2 733.8,1027.2 734.6,1027.2 735.4,1027.2 736.2,1027.2 737.0,1027.2 737.8,1027.2 738.6,1027.1 739.4,1027.1 740.2,1027.1 741.0,1027.1 741.8,1027.0 742.6,1027.0 743.4,1027.0 744.2,1027.0 745.0,1027.0 745.8,1027.0 746.6,1027.0 747.4,1026.9 748.2,1026.9 749.0,1026.9 749.8,1026.9 750.6,1026.9 751.4,1026.9 752.2,1026.9 753.0,1026.9 753.8,1026.9 754.6,1027.0 755.4,1027.0 756.2,1027.0 757.0,1027.0 757.8,1027.0 758.6,1027.0 759.4,1027.0 760.2,1027.0 761.0,1027.0 761.8,1027.0 762.6,1027.0 763.4,1027.0 764.2,1027.0 765.0,1027.1 765.8,1027.1 766.6,1027.2 767.4,1027.2 768.2,1027.2 769.0,1027.2 769.8,1027.2 770.6,1027.2 771.4,1027.2 772.2,1027.1 773.0,1027.1 773.8,1027.1 774.6,1027.1 775.4,1027.0 776.2,1027.0 777.0,1027.0 777.8,1027.0 778.6,1027.0 779.4,1027.0 780.2,1027.0 781.0,1027.0 781.8,1027.0 782.6,1027.1 783.4,1027.1 784.2,1027.1 785.0,1027.1 785.8,1027.1 786.6,1027.0 787.4,1027.0 788.2,1027.0 789.0,1027.0 789.8,1027.0 790.6,1027.0 791.4,1027.0 792.2,1027.0 793.0,1027.0 793.8,1027.0 794.6,1027.0 795.4,1026.9 796.2,1026.9 797.0,1026.9 797.8,1026.9 798.6,1026.9 799.4,1026.9 800.2,1026.9 801.0,1026.9 801.8,1026.9 802.6,1026.9 803.4,1026.9 804.2,1026.9 805.0,1027.0 805.8,1027.0 806.6,1027.0 807.4,1026.9 808.2,1026.9 809.0,1026.9 809.8,1026.9 810.6,1026.9 811.4,1027.0 812.2,1027.0 813.0,1027.0 813.8,1027.0 814.6,1027.0 815.4,1027.0 816.2,1027.0 817.0,1027.0 817.8,1027.0 818.6,1027.0 819.4,1027.0 820.2,1027.0 821.0,1027.0 821.8,1027.0 822.6,1027.0 823.4,1027.0 824.2,1026.9 825.0,1026.9 825.8,1026.9 826.6,1026.8 827.4,1026.8 828.2,1026.8 829.0,1026.9 829.8,1026.9 830.6,1026.9 831.4,1026.9 832.2,1026.9 833.0,1026.9 833.8,1026.9 834.6,1026.9 835.4,1026.9 836.2,1026.9 837.0,1026.9 837.8,1026.9 838.6,1026.9 839.4,1026.9 840.2,1026.9 841.0,1026.9 841.8,1026.9 842.6,1026.9 843.4,1026.9 844.2,1026.9 845.0,1026.9 845.8,1026.9 846.6,1027.0 847.4,1027.0 848.2,1027.0 849.0,1027.1 849.8,1027.1 850.6,1027.1 851.4,1027.1 852.2,1027.1 853.0,1027.1 853.8,1027.0 854.6,1027.0 855.4,1027.0 856.2,1027.0 857.0,1026.9 857.8,1026.9 858.6,1026.9 859.4,1026.9 860.2,1026.9 861.0,1026.9 861.8,1026.9 862.6,1026.9 863.4,1026.9 864.2,1026.9 865.0,1027.0 865.8,1027.0 866.6,1027.0 867.4,1027.0 868.2,1027.0 869.0,1027.0 869.8,1027.0 870.6,1027.1 871.4,1027.1 872.2,1027.1 873.0,1027.0 873.8,1027.0 874.6,1027.0 875.4,1027.0 876.2,1027.0 877.0,1027.0 877.8,1027.0 878.6,1027.1 879.4,1027.1 880.2,1027.1 881.0,1027.1 881.8,1027.1 882.6,1027.1 883.4,1027.1 884.2,1027.1 885.0,1027.1 885.8,1027.1 886.6,1027.1 887.4,1027.1 888.2,1027.1 889.0,1027.1 889.8,1027.1 890.6,1027.1 891.4,1027.1 892.2,1027.1 893.0,1027.0 893.8,1027.0 894.6,1027.0 895.4,1026.9 896.2,1026.9 897.0,1026.9 897.8,1026.9 898.6,1026.9 899.4,1026.9 900.2,1026.9 901.0,1027.0 901.8,1027.0 902.6,1027.1 903.4,1027.1 904.2,1027.1 905.0,1027.2 905.8,1027.2 906.6,1027.2 907.4,1027.2 908.2,1027.2 909.0,1027.2 909.8,1027.2 910.6,1027.2 911.4,1027.2 912.2,1027.2 913.0,1027.2 913.8,1027.1 914.6,1027.1 915.4,1027.1 916.2,1027.1 917.0,1027.0 917.8,1027.0 918.6,1027.0 919.4,1026.9 920.2,1026.9 921.0,1026.8 921.8,1026.8 922.6,1026.7 923.4,1026.6 924.2,1026.6 925.0,1026.5 925.8,1026.5 926.6,1026.6 927.4,1026.5 928.2,1026.5 929.0,1026.6 929.8,1026.6 930.6,1026.7 931.4,1026.8 932.2,1026.9 933.0,1027.0 933.8,1027.2 934.6,1027.3 935.4,1027.5 936.2,1027.6 937.0,1027.6 937.8,1027.7 938.6,1027.6 939.4,1027.6 940.2,1027.5 941.0,1027.4 941.8,1027.3 942.6,1027.2 943.4,1027.0 944.2,1026.9 945.0,1026.8 945.8,1026.6 946.6,1026.5 947.4,1026.4 948.2,1026.4 949.0,1026.3 949.8,1026.3 950.6,1026.3 951.4,1026.3 952.2,1026.4 953.0,1026.4 953.8,1026.5 954.6,1026.5 955.4,1026.5 956.2,1026.5 957.0,1026.4 957.8,1026.3 958.6,1026.2 959.4,1026.2 960.2,1026.2 961.0,1026.2 961.8,1026.3 962.6,1026.4 963.4,1026.5 964.2,1026.6 965.0,1026.6 965.8,1026.7 966.6,1026.8 967.4,1026.8 968.2,1026.9 969.0,1027.0 969.8,1027.1 970.6,1027.1 971.4,1027.2 972.2,1027.2 973.0,1027.1 973.8,1027.1 974.6,1027.0 975.4,1026.9 976.2,1026.8 977.0,1026.7 977.8,1026.6 978.6,1026.6 979.4,1026.5 980.2,1026.5 981.0,1026.4 981.8,1026.3 982.6,1026.2 983.4,1026.1 984.2,1026.1 985.0,1026.0 985.8,1026.0 986.6,1026.0 987.4,1026.0 988.2,1026.0 989.0,1026.0 989.8,1026.1 990.6,1026.2 991.4,1026.3 992.2,1026.4 993.0,1026.5 993.8,1026.6 994.6,1026.7 995.4,1026.8 996.2,1027.0 997.0,1027.1 997.8,1027.2 998.6,1027.3 999.4,1027.3 1000.2,1027.2 1001.0,1027.1 1001.8,1027.1 1002.6,1027.0 1003.4,1026.9 1004.2,1026.8 1005.0,1026.8 1005.8,1026.8 1006.6,1026.8 1007.4,1026.8 1008.2,1026.8 1009.0,1026.8 1009.8,1026.8 1010.6,1026.7 1011.4,1026.7 1012.2,1026.6 1013.0,1026.5 1013.8,1026.4 1014.6,1026.3 1015.4,1026.3 1016.2,1026.3 1017.0,1026.3 1017.8,1026.3 1018.6,1026.4 1019.4,1026.5 1020.2,1026.7 1021.0,1026.8 1021.8,1026.9 1022.6,1026.9 1023.4,1027.0 1024.2,1027.0 1025.0,1027.0 1025.8,1027.0 1026.6,1026.9 1027.4,1026.9 1028.2,1026.9 1029.0,1026.8 1029.8,1026.8 1030.6,1026.7 1031.4,1026.7 1032.2,1026.7 1033.0,1026.7 1033.8,1026.7 1034.6,1026.6 1035.4,1026.6 1036.2,1026.5 1037.0,1026.5 1037.8,1026.4 1038.6,1026.4 1039.4,1026.3 1040.2,1026.2 1041.0,1026.2 1041.8,1026.2 1042.6,1026.2 1043.4,1026.2 1044.2,1026.2 1045.0,1026.2 1045.8,1026.3 1046.6,1026.3 1047.4,1026.3 1048.2,1026.3 1049.0,1026.3 1049.8,1026.3 1050.6,1026.3 1051.4,1026.3 1052.2,1026.3 1053.0,1026.3 1053.8,1026.3 1054.6,1026.2 1055.4,1026.2 1056.2,1026.2 1057.0,1026.2 1057.8,1026.3 1058.6,1026.3 1059.4,1026.3 1060.2,1026.3 1061.0,1026.3 1061.8,1026.3 1062.6,1026.3 1063.4,1026.2 1064.2,1026.2 1065.0,1026.2 1065.8,1026.2 1066.6,1026.1 1067.4,1025.8 1068.2,1025.2 1069.0,1024.3 1069.8,1023.2 1070.6,1022.3 1071.4,1022.3 1072.2,1023.1 1073.0,1024.1 1073.8,1025.1 1074.6,1025.6 1075.4,1025.8 1076.2,1025.8 1077.0,1025.5 1077.8,1025.3 1078.6,1025.2 1079.4,1025.3 1080.2,1025.5 1081.0,1025.7 1081.8,1025.9 1082.6,1026.0 1083.4,1026.0 1084.2,1026.1 1085.0,1026.1 1085.8,1026.1 1086.6,1026.2 1087.4,1026.2 1088.2,1026.2 1089.0,1026.2 1089.8,1026.2 1090.6,1026.1 1091.4,1026.0 1092.2,1025.9 1093.0,1025.8 1093.8,1025.7 1094.6,1025.6 1095.4,1025.5 1096.2,1025.4 1097.0,1025.4 1097.8,1025.4 1098.6,1025.5 1099.4,1025.6 1100.2,1025.7 1101.0,1025.8 1101.8,1025.9 1102.6,1025.9 1103.4,1025.9 1104.2,1025.9 1105.0,1025.8 1105.8,1025.8 1106.6,1025.7 1107.4,1025.6 1108.2,1025.5 1109.0,1025.5 1109.8,1025.4 1110.6,1025.4 1111.4,1025.3 1112.2,1024.8 1113.0,1023.7 1113.8,1021.5 1114.6,1018.6 1115.4,1016.1 1116.2,1015.7 1117.0,1017.8 1117.8,1020.8 1118.6,1023.2 1119.4,1024.7 1120.2,1025.3 1121.0,1025.5 1121.8,1025.6 1122.6,1025.7 1123.4,1025.7 1124.2,1025.8 1125.0,1025.8 1125.8,1025.8 1126.6,1025.8 1127.4,1025.7 1128.2,1025.5 1129.0,1025.0 1129.8,1023.9 1130.6,1022.0 1131.4,1019.5 1132.2,1017.1 1133.0,1016.1 1133.8,1016.6 1134.6,1017.8 1135.4,1019.5 1136.2,1021.1 1137.0,1022.4 1137.8,1023.5 1138.6,1024.2 1139.4,1024.7 1140.2,1025.0 1141.0,1025.2 1141.8,1025.4 1142.6,1025.4 1143.4,1025.4 1144.2,1025.4 1145.0,1025.3 1145.8,1025.2 1146.6,1025.1 1147.4,1025.0 1148.2,1025.0 1149.0,1025.0 1149.8,1025.1 1150.6,1025.1 1151.4,1025.2 1152.2,1025.2 1153.0,1025.3 1153.8,1025.2 1154.6,1025.2 1155.4,1025.1 1156.2,1025.1 1157.0,1025.1 1157.8,1025.1 1158.6,1025.0 1159.4,1025.0 1160.2,1025.0 1161.0,1024.9 1161.8,1024.8 1162.6,1024.7 1163.4,1024.7 1164.2,1024.6 1165.0,1024.5 1165.8,1024.5 1166.6,1024.5 1167.4,1024.5 1168.2,1024.6 1169.0,1024.7 1169.8,1024.9 1170.6,1025.0 1171.4,1025.1 1172.2,1025.3 1173.0,1025.4 1173.8,1025.5 1174.6,1025.6 1175.4,1025.7 1176.2,1025.8 1177.0,1025.8 1177.8,1025.8 1178.6,1025.8 1179.4,1025.8 1180.2,1025.7 1181.0,1025.6 1181.8,1025.5 1182.6,1025.5 1183.4,1025.4 1184.2,1025.3 1185.0,1025.3 1185.8,1025.3 1186.6,1025.3 1187.4,1025.3 1188.2,1025.3 1189.0,1025.3 1189.8,1025.3 1190.6,1025.2 1191.4,1025.2 1192.2,1025.1 1193.0,1025.1 1193.8,1025.0 1194.6,1024.9 1195.4,1024.7 1196.2,1024.6 1197.0,1024.1 1197.8,1024.0 1198.6,1023.9 1199.4,1023.8 1200.2,1023.8 1201.0,1023.9 1201.8,1024.0 1202.6,1024.1 1203.4,1024.3 1204.2,1024.3 1205.0,1024.4 1205.8,1024.3 1206.6,1024.2 1207.4,1024.1 1208.2,1024.0 1209.0,1024.0 1209.8,1024.0 1210.6,1024.0 1211.4,1024.1 1212.2,1024.3 1213.0,1024.4 1213.8,1024.4 1214.6,1024.4 1215.4,1024.3 1216.2,1024.3 1217.0,1024.2 1217.8,1024.2 1218.6,1024.3 1219.4,1024.4 1220.2,1024.5 1221.0,1024.6 1221.8,1024.8 1222.6,1025.0 1223.4,1025.2 1224.2,1025.3 1225.0,1025.4 1225.8,1025.3 1226.6,1025.2 1227.4,1024.9 1228.2,1024.7 1229.0,1024.5 1229.8,1024.4 1230.6,1024.3 1231.4,1024.2 1232.2,1024.2 1233.0,1024.3 1233.8,1024.3 1234.6,1024.3 1235.4,1024.2 1236.2,1024.1 1237.0,1023.9 1237.8,1023.7 1238.6,1023.5 1239.4,1023.2 1240.2,1023.1 1241.0,1023.0 1241.8,1022.9 1242.6,1022.9 1243.4,1022.9 1244.2,1022.9 1245.0,1023.0 1245.8,1023.1 1246.6,1023.3 1247.4,1023.5 1248.2,1023.8 1249.0,1024.0 1249.8,1024.2 1250.6,1024.4 1251.4,1024.4 1252.2,1024.3 1253.0,1024.2 1253.8,1024.0 1254.6,1023.8 1255.4,1023.7 1256.2,1023.7 1257.0,1023.8 1257.8,1024.0 1258.6,1024.2 1259.4,1024.4 1260.2,1024.5 1261.0,1024.7 1261.8,1024.7 1262.6,1024.8 1263.4,1024.8 1264.2,1024.8 1265.0,1024.8 1265.8,1024.9 1266.6,1024.9 1267.4,1024.8 1268.2,1024.8 1269.0,1024.7 1269.8,1024.7 1270.6,1024.7 1271.4,1024.7 1272.2,1024.8 1273.0,1025.0 1273.8,1025.1 1274.6,1025.2 1275.4,1025.2 1276.2,1025.2 1277.0,1025.2 1277.8,1025.1 1278.6,1025.1 1279.4,1025.0 1280.2,1025.0 1281.0,1024.9 1281.8,1024.9 1282.6,1024.9 1283.4,1024.9 1284.2,1024.8 1285.0,1024.6 1285.8,1024.4 1286.6,1024.2 1287.4,1023.8 1288.2,1023.5 1289.0,1023.1 1289.8,1022.7 1290.6,1022.3 1291.4,1022.0 1292.2,1021.7 1293.0,1021.7 1293.8,1021.7 1294.6,1021.9 1295.4,1022.1 1296.2,1022.5 1297.0,1022.8 1297.8,1023.1 1298.6,1023.3 1299.4,1023.5 1300.2,1023.7 1301.0,1023.8 1301.8,1023.9 1302.6,1024.0 1303.4,1024.0 1304.2,1023.9 1305.0,1023.4 1305.8,1022.7 1306.6,1021.6 1307.4,1020.4 1308.2,1019.3 1309.0,1018.5 1309.8,1018.6 1310.6,1019.4 1311.4,1020.6 1312.2,1021.8 1313.0,1022.9 1313.8,1023.7 1314.6,1024.2 1315.4,1024.6 1316.2,1024.7 1317.0,1024.7 1317.8,1024.6 1318.6,1024.4 1319.4,1024.2 1320.2,1024.0 1321.0,1024.0 1321.8,1024.0 1322.6,1023.9 1323.4,1023.9 1324.2,1023.7 1325.0,1023.6 1325.8,1023.5 1326.6,1023.5 1327.4,1023.5 1328.2,1023.5 1329.0,1023.5 1329.8,1023.5 1330.6,1023.4 1331.4,1023.4 1332.2,1023.3 1333.0,1023.3 1333.8,1023.3 1334.6,1023.3 1335.4,1023.3 1336.2,1023.4 1337.0,1023.4 1337.8,1023.4 1338.6,1023.3 1339.4,1023.3 1340.2,1023.2 1341.0,1023.2 1341.8,1023.2 1342.6,1023.3 1343.4,1023.4 1344.2,1023.5 1345.0,1023.6 1345.8,1023.8 1346.6,1023.9 1347.4,1024.0 1348.2,1024.1 1349.0,1024.2 1349.8,1024.1 1350.6,1024.0 1351.4,1023.9 1352.2,1023.7 1353.0,1023.5 1353.8,1023.2 1354.6,1022.9 1355.4,1022.5 1356.2,1022.0 1357.0,1021.5 1357.8,1020.9 1358.6,1020.5 1359.4,1020.4 1360.2,1020.5 1361.0,1020.9 1361.8,1021.5 1362.6,1022.0 1363.4,1022.4 1364.2,1022.7 1365.0,1022.9 1365.8,1022.9 1366.6,1022.8 1367.4,1022.8 1368.2,1022.8 1369.0,1022.9 1369.8,1023.0 1370.6,1023.1 1371.4,1023.2 1372.2,1023.2 1373.0,1023.1 1373.8,1023.0 1374.6,1022.8 1375.4,1022.7 1376.2,1022.6 1377.0,1022.6 1377.8,1022.6 1378.6,1022.7 1379.4,1022.8 1380.2,1022.9 1381.0,1023.0 1381.8,1023.0 1382.6,1023.0 1383.4,1022.9 1384.2,1022.9 1385.0,1023.0 1385.8,1023.0 1386.6,1023.2 1387.4,1023.3 1388.2,1023.5 1389.0,1023.7 1389.8,1023.7 1390.6,1023.8 1391.4,1023.8 1392.2,1023.8 1393.0,1023.7 1393.8,1023.8 1394.6,1023.8 1395.4,1024.0 1396.2,1024.1 1397.0,1024.2 1397.8,1024.3 1398.6,1024.3 1399.4,1024.2 1400.2,1024.2 1401.0,1024.1 1401.8,1024.0 1402.6,1024.0 1403.4,1024.0 1404.2,1023.9 1405.0,1023.8 1405.8,1023.7 1406.6,1023.5 1407.4,1023.3 1408.2,1023.2 1409.0,1023.1 1409.8,1023.0 1410.6,1022.8 1411.4,1022.6 1412.2,1022.3 1413.0,1021.9 1413.8,1021.3 1414.6,1020.6 1415.4,1019.8 1416.2,1018.9 1417.0,1017.8 1417.8,1016.6 1418.6,1015.3 1419.4,1014.0 1420.2,1012.8 1421.0,1011.8 1421.8,1011.0 1422.6,1010.6 1423.4,1010.5 1424.2,1010.8 1425.0,1011.3 1425.8,1012.1 1426.6,1013.1 1427.4,1014.2 1428.2,1015.5 1429.0,1016.7 1429.8,1017.9 1430.6,1018.9 1431.4,1019.9 1432.2,1020.7 1433.0,1021.4 1433.8,1022.0 1434.6,1022.4 1435.4,1022.6 1436.2,1022.7 1437.0,1022.7 1437.8,1022.6 1438.6,1022.4 1439.4,1022.2 1440.2,1021.9 1441.0,1021.6 1441.8,1020.9 1442.6,1019.6 1443.4,1017.2 1444.2,1012.7 1445.0,1005.9 1445.8,997.2 1446.6,988.8 1447.4,984.6 1448.2,987.3 1449.0,994.8 1449.8,1003.3 1450.6,1010.4 1451.4,1015.4 1452.2,1018.3 1453.0,1019.9 1453.8,1020.8 1454.6,1021.2 1455.4,1021.6 1456.2,1021.8 1457.0,1022.1 1457.8,1022.3 1458.6,1022.5 1459.4,1022.7 1460.2,1022.8 1461.0,1023.0 1461.8,1023.1 1462.6,1023.1 1463.4,1023.2 1464.2,1023.2 1465.0,1023.2 1465.8,1023.2 1466.6,1023.2 1467.4,1023.3 1468.2,1023.3 1469.0,1023.4 1469.8,1023.6 1470.6,1023.7 1471.4,1023.7 1472.2,1023.8 1473.0,1023.9 1473.8,1023.9 1474.6,1023.8 1475.4,1023.7 1476.2,1023.6 1477.0,1023.5 1477.8,1023.3 1478.6,1023.1 1479.4,1023.0 1480.2,1022.9 1481.0,1022.9 1481.8,1022.9 1482.6,1023.0 1483.4,1023.0 1484.2,1023.0 1485.0,1023.0 1485.8,1023.0 1486.6,1022.9 1487.4,1022.9 1488.2,1022.8 1489.0,1022.7 1489.8,1022.6 1490.6,1022.5 1491.4,1022.4 1492.2,1022.3 1493.0,1022.1 1493.8,1021.9 1494.6,1021.6 1495.4,1021.3 1496.2,1020.9 1497.0,1020.4 1497.8,1020.0 1498.6,1019.5 1499.4,1019.0 1500.2,1018.5 1501.0,1018.1 1501.8,1017.6 1502.6,1017.2 1503.4,1016.7 1504.2,1016.2 1505.0,1015.6 1505.8,1015.0 1506.6,1014.3 1507.4,1013.7 1508.2,1013.1 1509.0,1012.5 1509.8,1012.0 1510.6,1011.4 1511.4,1010.9 1512.2,1010.5 1513.0,1010.2 1513.8,1010.3 1514.6,1011.2 1515.4,1012.5 1516.2,1014.0 1517.0,1015.4 1517.8,1016.7 1518.6,1017.8 1519.4,1018.7 1520.2,1019.4 1521.0,1020.0 1521.8,1020.4 1522.6,1020.8 1523.4,1021.2 1524.2,1021.5 1525.0,1021.7 1525.8,1021.9 1526.6,1022.0 1527.4,1022.1 1528.2,1022.2 1529.0,1022.2 1529.8,1022.2 1530.6,1022.2 1531.4,1022.3 1532.2,1022.4 1533.0,1022.5 1533.8,1022.6 1534.6,1022.7 1535.4,1022.7 1536.2,1022.6 1537.0,1022.5 1537.8,1022.5 1538.6,1022.4 1539.4,1022.4 1540.2,1022.4 1541.0,1022.4 1541.8,1022.5 1542.6,1022.6 1543.4,1022.7 1544.2,1022.8 1545.0,1022.9 1545.8,1023.0 1546.6,1023.0 1547.4,1023.1 1548.2,1023.1 1549.0,1023.1 1549.8,1023.2 1550.6,1023.3 1551.4,1023.5 1552.2,1023.7 1553.0,1024.0 1553.8,1024.4 1554.6,1024.8 1555.4,1025.1 1556.2,1025.4 1557.0,1025.6 1557.8,1025.6 1558.6,1025.6 1559.4,1025.8 1560.2,1026.0 1561.0,1026.2 1561.8,1026.5 1562.6,1026.8 1563.4,1026.3 1564.2,1024.6 1565.0,1022.8 1565.8,1021.0 1566.6,1019.5 1567.4,1018.4 1568.2,1017.4 1569.0,1016.4 1569.8,1015.5 1570.6,1014.7"/>
<polyline stroke="#000080" filter="url(#hardc)" points="60.0,1121.8 73.0,1121.8 73.8,1121.8 74.6,1121.8 75.4,1121.8 76.2,1121.8 77.0,1121.7 77.8,1121.7 78.6,1121.6 79.4,1121.6 80.2,1121.7 81.0,1121.7 81.8,1121.7 82.6,1121.8 83.4,1121.8 84.2,1121.8 85.0,1121.8 85.8,1121.8 86.6,1121.8 87.4,1121.8 88.2,1121.8 89.0,1121.8 89.8,1121.8 90.6,1121.8 91.4,1121.8 92.2,1121.8 93.0,1121.8 93.8,1121.8 94.6,1121.8 95.4,1121.8 96.2,1121.8 97.0,1121.8 97.8,1121.9 98.6,1121.9 99.4,1121.9 100.2,1122.0 101.0,1122.1 101.8,1122.1 102.6,1122.1 103.4,1122.1 104.2,1122.1 105.0,1122.1 105.8,1122.1 106.6,1122.0 107.4,1122.0 108.2,1122.0 109.0,1122.0 109.8,1122.0 110.6,1122.1 111.4,1122.1 112.2,1122.2 113.0,1122.2 113.8,1122.2 114.6,1122.2 115.4,1122.1 116.2,1122.0 117.0,1122.0 117.8,1121.9 118.6,1121.8 119.4,1121.8 120.2,1121.7 121.0,1121.6 121.8,1121.6 122.6,1121.6 123.4,1121.6 124.2,1121.7 125.0,1121.7 125.8,1121.7 126.6,1121.7 127.4,1121.7 128.2,1121.7 129.0,1121.7 129.8,1121.7 130.6,1121.7 131.4,1121.7 132.2,1121.7 133.0,1121.8 133.8,1121.8 134.6,1121.8 135.4,1121.8 136.2,1121.8 137.0,1121.8 137.8,1121.9 138.6,1121.9 139.4,1121.9 140.2,1121.9 141.0,1121.9 141.8,1121.9 142.6,1122.0 143.4,1122.0 144.2,1122.0 145.0,1122.0 145.8,1122.0 146.6,1121.9 147.4,1121.8 148.2,1121.7 149.0,1121.6 149.8,1121.6 150.6,1121.6 151.4,1121.6 152.2,1121.6 153.0,1121.7 153.8,1121.7 154.6,1121.8 155.4,1121.8 156.2,1121.8 157.0,1121.8 157.8,1121.8 158.6,1121.7 159.4,1121.7 160.2,1121.7 161.0,1121.7 161.8,1121.7 162.6,1121.7 163.4,1121.8 164.2,1121.8 165.0,1121.9 165.8,1122.0 166.6,1122.0 167.4,1122.0 168.2,1122.0 169.0,1122.0 169.8,1122.0 170.6,1121.9 171.4,1121.9 172.2,1122.0 173.0,1122.0 173.8,1122.1 174.6,1122.2 175.4,1122.2 176.2,1122.2 177.0,1122.3 177.8,1122.2 178.6,1122.2 179.4,1122.2 180.2,1122.1 181.0,1122.1 181.8,1122.0 182.6,1122.0 183.4,1121.9 184.2,1121.9 185.0,1121.8 185.8,1121.8 186.6,1121.8 187.4,1121.8 188.2,1121.9 189.0,1122.0 189.8,1122.0 190.6,1122.1 191.4,1122.1 192.2,1122.2 193.0,1122.2 193.8,1122.2 194.6,1122.2 195.4,1122.2 196.2,1122.2 197.0,1122.2 197.8,1122.2 198.6,1122.2 199.4,1122.1 200.2,1122.0 201.0,1121.9 201.8,1121.8 202.6,1121.7 203.4,1121.6 204.2,1121.6 205.0,1121.6 205.8,1121.6 206.6,1121.6 207.4,1121.7 208.2,1121.7 209.0,1121.7 209.8,1121.7 210.6,1121.6 211.4,1121.6 212.2,1121.6 213.0,1121.5 213.8,1121.6 214.6,1121.6 215.4,1121.6 216.2,1121.7 217.0,1121.7 217.8,1121.8 218.6,1121.7 219.4,1121.7 220.2,1121.6 221.0,1121.6 221.8,1121.5 222.6,1121.5 223.4,1121.5 224.2,1121.6 225.0,1121.6 225.8,1121.6 226.6,1121.6 227.4,1121.7 228.2,1121.7 229.0,1121.8 229.8,1121.8 230.6,1121.9 231.4,1121.9 232.2,1121.9 233.0,1121.9 233.8,1121.8 234.6,1121.8 235.4,1121.8 236.2,1121.9 237.0,1121.9 237.8,1121.8 238.6,1121.8 239.4,1121.8 240.2,1121.7 241.0,1121.7 241.8,1121.7 242.6,1121.7 243.4,1121.7 244.2,1121.7 245.0,1121.8 245.8,1121.8 246.6,1121.8 247.4,1121.8 248.2,1121.9 249.0,1121.9 249.8,1122.0 250.6,1122.0 251.4,1122.0 252.2,1122.0 253.0,1122.0 253.8,1122.0 254.6,1122.0 255.4,1122.0 256.2,1122.0 257.0,1122.1 257.8,1122.1 258.6,1122.1 259.4,1122.1 260.2,1122.1 261.0,1122.1 261.8,1122.1 262.6,1122.0 263.4,1122.0 264.2,1121.9 265.0,1121.8 265.8,1121.8 266.6,1121.7 267.4,1121.7 268.2,1121.7 269.0,1121.8 269.8,1121.8 270.6,1121.9 271.4,1121.9 272.2,1121.9 273.0,1121.9 273.8,1121.8 274.6,1121.8 275.4,1121.8 276.2,1121.8 277.0,1121.8 277.8,1121.9 278.6,1121.9 279.4,1121.9 280.2,1121.9 281.0,1121.9 281.8,1121.9 282.6,1121.9 283.4,1121.9 284.2,1121.9 285.0,1121.9 285.8,1121.8 286.6,1121.8 287.4,1121.8 288.2,1121.8 289.0,1121.8 289.8,1121.7 290.6,1121.7 291.4,1121.7 292.2,1121.7 293.0,1121.7 293.8,1121.7 294.6,1121.7 295.4,1121.7 296.2,1121.7 297.0,1121.8 297.8,1121.8 298.6,1121.8 299.4,1121.8 300.2,1121.9 301.0,1121.9 301.8,1121.9 302.6,1121.9 303.4,1121.9 304.2,1121.9 305.0,1121.8 305.8,1121.8 306.6,1121.8 307.4,1121.8 308.2,1121.8 309.0,1121.8 309.8,1121.8 310.6,1121.8 311.4,1121.8 312.2,1121.8 313.0,1121.8 313.8,1121.8 314.6,1121.9 315.4,1121.9 316.2,1121.9 317.0,1121.9 317.8,1122.0 318.6,1122.0 319.4,1122.0 320.2,1122.0 321.0,1122.0 321.8,1121.9 322.6,1121.9 323.4,1121.8 324.2,1121.8 325.0,1121.8 325.8,1121.8 326.6,1121.8 327.4,1121.8 328.2,1121.8 329.0,1121.8 329.8,1121.8 330.6,1121.9 331.4,1121.9 332.2,1121.9 333.0,1121.8 333.8,1121.9 334.6,1121.9 335.4,1121.9 336.2,1121.9 337.0,1121.9 337.8,1121.9 338.6,1121.9 339.4,1121.9 340.2,1121.9 341.0,1121.9 341.8,1121.9 342.6,1121.9 343.4,1121.9 344.2,1121.8 345.0,1121.8 345.8,1121.8 346.6,1121.8 347.4,1121.8 348.2,1121.8 349.0,1121.8 349.8,1121.8 350.6,1121.8 351.4,1121.8 352.2,1121.7 353.0,1121.7 353.8,1121.7 354.6,1121.7 355.4,1121.7 356.2,1121.7 357.0,1121.7 357.8,1121.7 358.6,1121.7 359.4,1121.7 360.2,1121.7 361.0,1121.7 361.8,1121.8 362.6,1121.8 363.4,1121.8 364.2,1121.8 365.0,1121.8 365.8,1121.8 366.6,1121.8 367.4,1121.8 368.2,1121.8 369.0,1121.8 369.8,1121.7 370.6,1121.7 371.4,1121.7 372.2,1121.7 373.0,1121.7 373.8,1121.7 374.6,1121.7 375.4,1121.7 376.2,1121.7 377.0,1121.7 377.8,1121.7 378.6,1121.7 379.4,1121.8 380.2,1121.8 381.0,1121.8 381.8,1121.8 382.6,1121.8 383.4,1121.8 384.2,1121.8 385.0,1121.8 385.8,1121.8 386.6,1121.8 387.4,1121.8 388.2,1121.8 389.0,1121.8 389.8,1121.8 390.6,1121.8 391.4,1121.7 392.2,1121.7 393.0,1121.7 393.8,1121.7 394.6,1121.7 395.4,1121.7 396.2,1121.7 397.0,1121.7 397.8,1121.8 398.6,1121.8 399.4,1121.8 400.2,1121.8 401.0,1121.7 401.8,1121.7 402.6,1121.7 403.4,1121.7 404.2,1121.7 405.0,1121.7 405.8,1121.6 406.6,1121.6 407.4,1121.6 408.2,1121.6 409.0,1121.7 409.8,1121.7 410.6,1121.7 411.4,1121.7 412.2,1121.7 413.0,1121.7 413.8,1121.7 414.6,1121.7 415.4,1121.7 416.2,1121.7 417.0,1121.7 417.8,1121.7 418.6,1121.8 419.4,1121.8 420.2,1121.8 421.0,1121.8 421.8,1121.8 422.6,1121.8 423.4,1121.7 424.2,1121.7 425.0,1121.6 425.8,1121.6 426.6,1121.6 427.4,1121.4 428.2,1121.4 429.0,1121.4 429.8,1121.5 430.6,1121.5 431.4,1121.5 432.2,1121.5 433.0,1121.5 433.8,1121.5 434.6,1121.5 435.4,1121.5 436.2,1121.5 437.0,1121.4 437.8,1121.4 438.6,1121.4 439.4,1121.4 440.2,1121.4 441.0,1121.5 441.8,1121.5 442.6,1121.5 443.4,1121.5 444.2,1121.5 445.0,1121.5 445.8,1121.5 446.6,1121.5 447.4,1121.4 448.2,1121.3 449.0,1121.3 449.8,1121.1 450.6,1121.0 451.4,1120.7 452.2,1120.4 453.0,1120.1 453.8,1119.8 454.6,1119.7 455.4,1119.7 456.2,1119.9 457.0,1120.2 457.8,1120.5 458.6,1120.7 459.4,1120.6 460.2,1120.4 461.0,1120.0 461.8,1119.5 462.6,1118.9 463.4,1118.5 464.2,1118.4 465.0,1118.6 465.8,1119.1 466.6,1119.7 467.4,1120.3 468.2,1120.7 469.0,1121.0 469.8,1121.2 470.6,1121.2 471.4,1121.2 472.2,1121.0 473.0,1120.7 473.8,1120.1 474.6,1119.2 475.4,1118.1 476.2,1116.8 477.0,1115.7 477.8,1115.0 478.6,1115.0 479.4,1115.7 480.2,1116.8 481.0,1118.1 481.8,1119.2 482.6,1120.0 483.4,1120.5 484.2,1120.7 485.0,1120.8 485.8,1120.7 486.6,1120.6 487.4,1120.5 488.2,1120.4 489.0,1120.4 489.8,1120.5 490.6,1120.6 491.4,1120.8 492.2,1121.0 493.0,1121.1 493.8,1121.3 494.6,1121.3 495.4,1121.4 496.2,1121.4 497.0,1121.5 497.8,1121.5 498.6,1121.4 499.4,1121.4 500.2,1121.4 501.0,1121.4 501.8,1121.4 502.6,1121.4 503.4,1121.4 504.2,1121.4 505.0,1121.3 505.8,1121.2 506.6,1121.1 507.4,1121.0 508.2,1120.8 509.0,1120.6 509.8,1120.3 510.6,1120.0 511.4,1119.7 512.2,1119.3 513.0,1118.8 513.8,1118.2 514.6,1117.6 515.4,1116.9 516.2,1116.1 517.0,1115.3 517.8,1114.6 518.6,1114.0 519.4,1113.6 520.2,1113.4 521.0,1113.4 521.8,1113.6 522.6,1113.9 523.4,1114.3 524.2,1114.7 525.0,1115.3 525.8,1115.8 526.6,1116.4 527.4,1117.0 528.2,1117.5 529.0,1118.0 529.8,1118.5 530.6,1118.9 531.4,1119.3 532.2,1119.7 533.0,1120.0 533.8,1120.3 534.6,1120.6 535.4,1120.8 536.2,1121.0 537.0,1121.2 537.8,1121.3 538.6,1121.3 539.4,1121.4 540.2,1121.4 541.0,1121.4 541.8,1121.4 542.6,1121.4 543.4,1121.3 544.2,1121.2 545.0,1121.1 545.8,1120.8 546.6,1120.5 547.4,1120.1 548.2,1119.6 549.0,1119.2 549.8,1118.7 550.6,1118.4 551.4,1118.3 552.2,1118.3 553.0,1118.6 553.8,1119.0 554.6,1119.4 555.4,1119.9 556.2,1120.2 557.0,1120.5 557.8,1120.7 558.6,1120.9 559.4,1121.0 560.2,1121.0 561.0,1121.0 561.8,1121.0 562.6,1121.0 563.4,1121.1 564.2,1121.1 565.0,1121.2 565.8,1121.2 566.6,1121.3 567.4,1121.4 568.2,1121.4 569.0,1121.5 569.8,1121.5 570.6,1121.5 571.4,1121.5 572.2,1121.6 573.0,1121.6 573.8,1121.6 574.6,1121.7 575.4,1121.7 576.2,1121.7 577.0,1121.8 577.8,1121.8 578.6,1121.8 579.4,1121.8 580.2,1121.8 581.0,1121.8 581.8,1121.7 582.6,1121.7 583.4,1121.7 584.2,1121.7 585.0,1121.7 585.8,1121.6 586.6,1121.6 587.4,1121.5 588.2,1121.5 589.0,1121.5 589.8,1121.6 590.6,1121.7 591.4,1121.8 592.2,1121.9 593.0,1122.0 593.8,1121.9 594.6,1121.9 595.4,1121.9 596.2,1121.8 597.0,1121.8 597.8,1121.8 598.6,1121.7 599.4,1121.7 600.2,1121.7 601.0,1121.7 601.8,1121.7 602.6,1121.7 603.4,1121.7 604.2,1121.7 605.0,1121.7 605.8,1121.8 606.6,1121.8 607.4,1121.8 608.2,1121.8 609.0,1121.9 609.8,1121.9 610.6,1121.9 611.4,1121.9 612.2,1121.9 613.0,1121.9 613.8,1121.9 614.6,1121.8 615.4,1121.8 616.2,1121.7 617.0,1121.7 617.8,1121.7 618.6,1121.7 619.4,1121.7 620.2,1121.7 621.0,1121.7 621.8,1121.7 622.6,1121.7 623.4,1121.7 624.2,1121.7 625.0,1121.7 625.8,1121.6 626.6,1121.6 627.4,1121.5 628.2,1121.5 629.0,1121.5 629.8,1121.5 630.6,1121.5 631.4,1121.5 632.2,1121.6 633.0,1121.6 633.8,1121.6 634.6,1121.6 635.4,1121.6 636.2,1121.6 637.0,1121.6 637.8,1121.6 638.6,1121.7 639.4,1121.7 640.2,1121.7 641.0,1121.7 641.8,1121.7 642.6,1121.7 643.4,1121.7 644.2,1121.7 645.0,1121.7 645.8,1121.7 646.6,1121.7 647.4,1121.7 648.2,1121.6 649.0,1121.6 649.8,1121.7 650.6,1121.7 651.4,1121.7 652.2,1121.7 653.0,1121.7 653.8,1121.7 654.6,1121.7 655.4,1121.7 656.2,1121.8 657.0,1121.8 657.8,1121.8 658.6,1121.8 659.4,1121.8 660.2,1121.8 661.0,1121.8 661.8,1121.8 662.6,1121.8 663.4,1121.8 664.2,1121.8 665.0,1121.8 665.8,1121.8 666.6,1121.8 667.4,1121.8 668.2,1121.7 669.0,1121.7 669.8,1121.7 670.6,1121.8 671.4,1121.8 672.2,1121.8 673.0,1121.8 673.8,1121.8 674.6,1121.8 675.4,1121.8 676.2,1121.8 677.0,1121.8 677.8,1121.8 678.6,1121.8 679.4,1121.8 680.2,1121.8 681.0,1121.7 681.8,1121.7 682.6,1121.8 683.4,1121.8 684.2,1121.8 685.0,1121.9 685.8,1121.9 686.6,1121.9 687.4,1121.9 688.2,1121.9 689.0,1121.9 689.8,1121.9 690.6,1121.9 691.4,1121.9 692.2,1121.9 693.0,1121.9 693.8,1121.9 694.6,1121.9 695.4,1121.9 696.2,1121.9 697.0,1121.8 697.8,1121.8 698.6,1121.8 699.4,1121.8 700.2,1121.8 701.0,1121.8 701.8,1121.8 702.6,1121.8 703.4,1121.8 704.2,1121.8 705.0,1121.8 705.8,1121.8 706.6,1121.8 707.4,1121.8 708.2,1121.8 709.0,1121.8 709.8,1121.8 710.6,1121.8 711.4,1121.8 712.2,1121.8 713.0,1121.8 713.8,1121.8 714.6,1121.7 715.4,1121.7 716.2,1121.7 717.0,1121.7 717.8,1121.7 718.6,1121.7 719.4,1121.7 720.2,1121.7 721.0,1121.7 721.8,1121.7 722.6,1121.7 723.4,1121.7 724.2,1121.7 725.0,1121.8 725.8,1121.8 726.6,1121.8 727.4,1121.9 728.2,1121.9 729.0,1121.9 729.8,1121.9 730.6,1121.9 731.4,1121.9 732.2,1121.9 733.0,1121.9 733.8,1121.9 734.6,1121.9 735.4,1121.9 736.2,1121.9 737.0,1121.9 737.8,1121.9 738.6,1121.9 739.4,1121.9 740.2,1121.9 741.0,1122.0 741.8,1121.9 742.6,1121.9 743.4,1121.9 744.2,1121.9 745.0,1121.8 745.8,1121.8 746.6,1121.8 747.4,1121.7 748.2,1121.8 749.0,1121.8 749.8,1121.8 750.6,1121.8 751.4,1121.8 752.2,1121.8 753.0,1121.7 753.8,1121.7 754.6,1121.7 755.4,1121.7 756.2,1121.8 757.0,1121.8 757.8,1121.8 758.6,1121.8 759.4,1121.8 760.2,1121.8 761.0,1121.8 761.8,1121.8 762.6,1121.8 763.4,1121.8 764.2,1121.8 765.0,1121.8 765.8,1121.8 766.6,1121.8 767.4,1121.8 768.2,1121.8 769.0,1121.9 769.8,1121.9 770.6,1121.8 771.4,1121.8 772.2,1121.8 773.0,1121.8 773.8,1121.8 774.6,1121.8 775.4,1121.8 776.2,1121.8 777.0,1121.8 777.8,1121.7 778.6,1121.7 779.4,1121.8 780.2,1121.8 781.0,1121.8 781.8,1121.8 782.6,1121.8 783.4,1121.8 784.2,1121.8 785.0,1121.8 785.8,1121.8 786.6,1121.8 787.4,1121.9 788.2,1121.9 789.0,1121.9 789.8,1121.9 790.6,1121.9 791.4,1121.9 792.2,1121.9 793.0,1121.9 793.8,1121.9 794.6,1121.9 795.4,1121.9 796.2,1121.9 797.0,1121.9 797.8,1121.9 798.6,1121.9 799.4,1121.9 800.2,1121.9 801.0,1121.9 801.8,1121.9 802.6,1121.9 803.4,1121.9 804.2,1121.9 805.0,1121.9 805.8,1121.9 806.6,1121.9 807.4,1121.9 808.2,1121.9 809.0,1121.8 809.8,1121.8 810.6,1121.8 811.4,1121.8 812.2,1121.8 813.0,1121.8 813.8,1121.8 814.6,1121.8 815.4,1121.8 816.2,1121.8 817.0,1121.8 817.8,1121.8 818.6,1121.8 819.4,1121.8 820.2,1121.8 821.0,1121.8 821.8,1121.8 822.6,1121.8 823.4,1121.8 824.2,1121.8 825.0,1121.8 825.8,1121.7 826.6,1121.7 827.4,1121.7 828.2,1121.7 829.0,1121.7 829.8,1121.8 830.6,1121.8 831.4,1121.8 832.2,1121.8 833.0,1121.9 833.8,1121.9 834.6,1121.9 835.4,1121.9 836.2,1121.9 837.0,1121.9 837.8,1121.8 838.6,1121.8 839.4,1121.8 840.2,1121.8 841.0,1121.8 841.8,1121.8 842.6,1121.8 843.4,1121.8 844.2,1121.8 845.0,1121.8 845.8,1121.8 846.6,1121.8 847.4,1121.8 848.2,1121.8 849.0,1121.8 849.8,1121.8 850.6,1121.8 851.4,1121.8 852.2,1121.7 853.0,1121.7 853.8,1121.7 854.6,1121.7 855.4,1121.7 856.2,1121.7 857.0,1121.7 857.8,1121.7 858.6,1121.7 859.4,1121.7 860.2,1121.7 861.0,1121.7 861.8,1121.7 862.6,1121.7 863.4,1121.8 864.2,1121.8 865.0,1121.8 865.8,1121.8 866.6,1121.8 867.4,1121.8 868.2,1121.9 869.0,1121.9 869.8,1121.9 870.6,1121.8 871.4,1121.8 872.2,1121.8 873.0,1121.8 873.8,1121.8 874.6,1121.7 875.4,1121.7 876.2,1121.6 877.0,1121.6 877.8,1121.6 878.6,1121.6 879.4,1121.7 880.2,1121.7 881.0,1121.8 881.8,1121.8 882.6,1121.8 883.4,1121.8 884.2,1121.8 885.0,1121.8 885.8,1121.8 886.6,1121.8 887.4,1121.8 888.2,1121.8 889.0,1121.8 889.8,1121.8 890.6,1121.8 891.4,1121.9 892.2,1121.9 893.0,1121.9 893.8,1121.8 894.6,1121.8 895.4,1121.8 896.2,1121.8 897.0,1121.8 897.8,1121.8 898.6,1121.8 899.4,1121.8 900.2,1121.9 901.0,1121.9 901.8,1121.9 902.6,1121.9 903.4,1121.9 904.2,1121.9 905.0,1121.9 905.8,1121.9 906.6,1121.8 907.4,1121.8 908.2,1121.8 909.0,1121.8 909.8,1121.8 910.6,1121.8 911.4,1121.8 912.2,1121.8 913.0,1121.7 913.8,1121.7 914.6,1121.7 915.4,1121.7 916.2,1121.6 917.0,1121.6 917.8,1121.6 918.6,1121.6 919.4,1121.5 920.2,1121.5 921.0,1121.4 921.8,1121.4 922.6,1121.3 923.4,1121.2 924.2,1121.1 925.0,1121.0 925.8,1121.0 926.6,1121.0 927.4,1121.0 928.2,1120.9 929.0,1120.9 929.8,1120.9 930.6,1120.9 931.4,1120.9 932.2,1120.9 933.0,1121.0 933.8,1121.1 934.6,1121.3 935.4,1121.4 936.2,1121.5 937.0,1121.6 937.8,1121.7 938.6,1121.7 939.4,1121.7 940.2,1121.7 941.0,1121.7 941.8,1121.7 942.6,1121.7 943.4,1121.8 944.2,1121.8 945.0,1121.8 945.8,1121.8 946.6,1121.9 947.4,1121.9 948.2,1121.9 949.0,1122.0 949.8,1121.9 950.6,1121.9 951.4,1121.8 952.2,1121.8 953.0,1121.7 953.8,1121.6 954.6,1121.5 955.4,1121.4 956.2,1121.3 957.0,1121.2 957.8,1121.1 958.6,1121.1 959.4,1121.2 960.2,1121.4 961.0,1121.5 961.8,1121.7 962.6,1121.8 963.4,1121.9 964.2,1121.9 965.0,1121.9 965.8,1121.9 966.6,1122.0 967.4,1122.0 968.2,1122.0 969.0,1122.0 969.8,1122.1 970.6,1122.1 971.4,1122.1 972.2,1122.1 973.0,1122.1 973.8,1122.1 974.6,1122.1 975.4,1122.1 976.2,1122.1 977.0,1122.1 977.8,1122.1 978.6,1122.1 979.4,1122.0 980.2,1121.9 981.0,1121.7 981.8,1121.6 982.6,1121.4 983.4,1121.3 984.2,1121.2 985.0,1121.1 985.8,1121.1 986.6,1121.1 987.4,1121.1 988.2,1121.1 989.0,1121.1 989.8,1121.2 990.6,1121.2 991.4,1121.2 992.2,1121.3 993.0,1121.3 993.8,1121.4 994.6,1121.5 995.4,1121.6 996.2,1121.7 997.0,1121.8 997.8,1121.9 998.6,1121.9 999.4,1121.9 1000.2,1121.9 1001.0,1121.9 1001.8,1121.8 1002.6,1121.8 1003.4,1121.7 1004.2,1121.6 1005.0,1121.5 1005.8,1121.3 1006.6,1121.2 1007.4,1121.1 1008.2,1121.1 1009.0,1121.1 1009.8,1121.1 1010.6,1121.1 1011.4,1121.1 1012.2,1121.2 1013.0,1121.2 1013.8,1121.2 1014.6,1121.3 1015.4,1121.4 1016.2,1121.5 1017.0,1121.6 1017.8,1121.7 1018.6,1121.7 1019.4,1121.7 1020.2,1121.7 1021.0,1121.7 1021.8,1121.6 1022.6,1121.6 1023.4,1121.6 1024.2,1121.6 1025.0,1121.7 1025.8,1121.7 1026.6,1121.8 1027.4,1121.8 1028.2,1121.8 1029.0,1121.8 1029.8,1121.7 1030.6,1121.7 1031.4,1121.6 1032.2,1121.6 1033.0,1121.6 1033.8,1121.6 1034.6,1121.6 1035.4,1121.6 1036.2,1121.7 1037.0,1121.7 1037.8,1121.8 1038.6,1121.8 1039.4,1121.9 1040.2,1122.0 1041.0,1122.0 1041.8,1122.1 1042.6,1122.1 1043.4,1122.2 1044.2,1122.2 1045.0,1122.2 1045.8,1122.2 1046.6,1122.2 1047.4,1122.2 1048.2,1122.2 1049.0,1122.2 1049.8,1122.2 1050.6,1122.2 1051.4,1122.2 1052.2,1122.2 1053.0,1122.2 1053.8,1122.2 1054.6,1122.2 1055.4,1122.1 1056.2,1122.1 1057.0,1122.0 1057.8,1121.9 1058.6,1121.9 1059.4,1121.9 1060.2,1121.9 1061.0,1122.0 1061.8,1122.0 1062.6,1122.0 1063.4,1122.0 1064.2,1121.9 1065.0,1121.8 1065.8,1121.7 1066.6,1121.5 1067.4,1121.2 1068.2,1120.7 1069.0,1119.9 1069.8,1118.9 1070.6,1118.3 1071.4,1118.3 1072.2,1119.0 1073.0,1119.9 1073.8,1120.6 1074.6,1120.9 1075.4,1120.9 1076.2,1120.6 1077.0,1120.2 1077.8,1119.9 1078.6,1119.9 1079.4,1120.2 1080.2,1120.7 1081.0,1121.2 1081.8,1121.6 1082.6,1121.8 1083.4,1121.9 1084.2,1121.9 1085.0,1121.9 1085.8,1121.9 1086.6,1121.8 1087.4,1121.8 1088.2,1121.7 1089.0,1121.7 1089.8,1121.7 1090.6,1121.7 1091.4,1121.7 1092.2,1121.7 1093.0,1121.7 1093.8,1121.8 1094.6,1121.8 1095.4,1121.7 1096.2,1121.6 1097.0,1121.5 1097.8,1121.4 1098.6,1121.3 1099.4,1121.2 1100.2,1121.2 1101.0,1121.1 1101.8,1121.1 1102.6,1121.1 1103.4,1121.2 1104.2,1121.2 1105.0,1121.3 1105.8,1121.3 1106.6,1121.4 1107.4,1121.5 1108.2,1121.5 1109.0,1121.6 1109.8,1121.6 1110.6,1121.5 1111.4,1121.1 1112.2,1120.3 1113.0,1118.5 1113.8,1115.2 1114.6,1110.9 1115.4,1107.2 1116.2,1106.6 1117.0,1109.7 1117.8,1114.0 1118.6,1117.6 1119.4,1119.8 1120.2,1120.7 1121.0,1121.1 1121.8,1121.2 1122.6,1121.2 1123.4,1121.2 1124.2,1121.3 1125.0,1121.3 1125.8,1121.3 1126.6,1121.2 1127.4,1121.1 1128.2,1120.8 1129.0,1120.0 1129.8,1118.4 1130.6,1115.7 1131.4,1112.1 1132.2,1108.6 1133.0,1107.1 1133.8,1107.9 1134.6,1109.8 1135.4,1112.2 1136.2,1114.6 1137.0,1116.7 1137.8,1118.3 1138.6,1119.4 1139.4,1120.1 1140.2,1120.5 1141.0,1120.7 1141.8,1120.9 1142.6,1120.9 1143.4,1120.9 1144.2,1120.9 1145.0,1120.8 1145.8,1120.7 1146.6,1120.7 1147.4,1120.6 1148.2,1120.5 1149.0,1120.5 1149.8,1120.5 1150.6,1120.6 1151.4,1120.6 1152.2,1120.7 1153.0,1120.8 1153.8,1120.9 1154.6,1120.9 1155.4,1120.9 1156.2,1120.9 1157.0,1120.8 1157.8,1120.7 1158.6,1120.5 1159.4,1120.4 1160.2,1120.2 1161.0,1120.1 1161.8,1119.9 1162.6,1119.8 1163.4,1119.7 1164.2,1119.6 1165.0,1119.5 1165.8,1119.4 1166.6,1119.4 1167.4,1119.5 1168.2,1119.6 1169.0,1119.7 1169.8,1119.8 1170.6,1119.9 1171.4,1120.1 1172.2,1120.2 1173.0,1120.3 1173.8,1120.4 1174.6,1120.5 1175.4,1120.5 1176.2,1120.5 1177.0,1120.5 1177.8,1120.5 1178.6,1120.5 1179.4,1120.4 1180.2,1120.4 1181.0,1120.4 1181.8,1120.4 1182.6,1120.4 1183.4,1120.5 1184.2,1120.5 1185.0,1120.6 1185.8,1120.6 1186.6,1120.7 1187.4,1120.8 1188.2,1120.8 1189.0,1120.8 1189.8,1120.9 1190.6,1120.9 1191.4,1120.9 1192.2,1120.9 1193.0,1120.9 1193.8,1120.9 1194.6,1120.9 1195.4,1120.8 1196.2,1120.8 1197.0,1120.8 1197.8,1120.9 1198.6,1121.0 1199.4,1121.1 1200.2,1121.2 1201.0,1121.3 1201.8,1121.4 1202.6,1121.4 1203.4,1121.4 1204.2,1121.3 1205.0,1121.3 1205.8,1121.3 1206.6,1121.3 1207.4,1121.2 1208.2,1121.1 1209.0,1121.0 1209.8,1120.9 1210.6,1120.9 1211.4,1120.9 1212.2,1120.9 1213.0,1120.9 1213.8,1121.0 1214.6,1121.0 1215.4,1121.0 1216.2,1121.0 1217.0,1121.1 1217.8,1121.1 1218.6,1121.2 1219.4,1121.3 1220.2,1121.3 1221.0,1121.3 1221.8,1121.3 1222.6,1121.3 1223.4,1121.2 1224.2,1121.2 1225.0,1121.1 1225.8,1121.0 1226.6,1120.9 1227.4,1120.9 1228.2,1120.8 1229.0,1120.8 1229.8,1120.7 1230.6,1120.7 1231.4,1120.7 1232.2,1120.8 1233.0,1120.9 1233.8,1120.9 1234.6,1121.0 1235.4,1121.0 1236.2,1121.0 1237.0,1120.8 1237.8,1120.7 1238.6,1120.5 1239.4,1120.2 1240.2,1119.9 1241.0,1119.6 1241.8,1119.3 1242.6,1119.0 1243.4,1118.8 1244.2,1118.6 1245.0,1118.5 1245.8,1118.5 1246.6,1118.6 1247.4,1118.8 1248.2,1119.1 1249.0,1119.3 1249.8,1119.6 1250.6,1119.8 1251.4,1119.9 1252.2,1120.0 1253.0,1119.9 1253.8,1119.7 1254.6,1119.4 1255.4,1119.1 1256.2,1118.7 1257.0,1118.5 1257.8,1118.4 1258.6,1118.5 1259.4,1118.8 1260.2,1119.1 1261.0,1119.6 1261.8,1120.1 1262.6,1120.4 1263.4,1120.8 1264.2,1121.0 1265.0,1121.1 1265.8,1121.1 1266.6,1121.0 1267.4,1120.9 1268.2,1120.8 1269.0,1120.7 1269.8,1120.6 1270.6,1120.4 1271.4,1120.3 1272.2,1120.2 1273.0,1120.1 1273.8,1120.0 1274.6,1119.9 1275.4,1119.8 1276.2,1119.8 1277.0,1119.9 1277.8,1120.0 1278.6,1120.1 1279.4,1120.2 1280.2,1120.2 1281.0,1120.2 1281.8,1120.2 1282.6,1120.1 1283.4,1119.9 1284.2,1119.7 1285.0,1119.5 1285.8,1119.3 1286.6,1119.0 1287.4,1118.7 1288.2,1118.4 1289.0,1118.1 1289.8,1117.8 1290.6,1117.5 1291.4,1117.4 1292.2,1117.4 1293.0,1117.5 1293.8,1117.7 1294.6,1117.9 1295.4,1118.2 1296.2,1118.5 1297.0,1118.8 1297.8,1119.2 1298.6,1119.5 1299.4,1119.8 1300.2,1120.1 1301.0,1120.3 1301.8,1120.5 1302.6,1120.7 1303.4,1120.7 1304.2,1120.6 1305.0,1120.2 1305.8,1119.6 1306.6,1118.7 1307.4,1117.6 1308.2,1116.6 1309.0,1115.9 1309.8,1115.9 1310.6,1116.5 1311.4,1117.5 1312.2,1118.4 1313.0,1119.2 1313.8,1119.7 1314.6,1119.9 1315.4,1120.1 1316.2,1120.1 1317.0,1120.1 1317.8,1119.9 1318.6,1119.8 1319.4,1119.7 1320.2,1119.7 1321.0,1119.8 1321.8,1120.1 1322.6,1120.2 1323.4,1120.3 1324.2,1120.3 1325.0,1120.3 1325.8,1120.2 1326.6,1120.2 1327.4,1120.1 1328.2,1119.9 1329.0,1119.8 1329.8,1119.7 1330.6,1119.7 1331.4,1119.6 1332.2,1119.6 1333.0,1119.6 1333.8,1119.7 1334.6,1119.8 1335.4,1119.8 1336.2,1119.9 1337.0,1120.0 1337.8,1120.1 1338.6,1120.2 1339.4,1120.3 1340.2,1120.4 1341.0,1120.5 1341.8,1120.6 1342.6,1120.8 1343.4,1121.0 1344.2,1121.1 1345.0,1121.2 1345.8,1121.3 1346.6,1121.3 1347.4,1121.3 1348.2,1121.3 1349.0,1121.2 1349.8,1121.0 1350.6,1120.8 1351.4,1120.6 1352.2,1120.4 1353.0,1120.2 1353.8,1119.9 1354.6,1119.6 1355.4,1119.2 1356.2,1118.8 1357.0,1118.2 1357.8,1117.7 1358.6,1117.2 1359.4,1117.0 1360.2,1117.0 1361.0,1117.4 1361.8,1118.0 1362.6,1118.6 1363.4,1119.2 1364.2,1119.7 1365.0,1120.0 1365.8,1120.2 1366.6,1120.3 1367.4,1120.2 1368.2,1120.1 1369.0,1120.0 1369.8,1120.0 1370.6,1120.0 1371.4,1120.1 1372.2,1120.3 1373.0,1120.6 1373.8,1120.9 1374.6,1121.1 1375.4,1121.3 1376.2,1121.4 1377.0,1121.5 1377.8,1121.5 1378.6,1121.5 1379.4,1121.4 1380.2,1121.3 1381.0,1121.2 1381.8,1121.1 1382.6,1121.1 1383.4,1121.1 1384.2,1121.1 1385.0,1121.2 1385.8,1121.2 1386.6,1121.2 1387.4,1121.1 1388.2,1121.1 1389.0,1121.0 1389.8,1121.0 1390.6,1120.9 1391.4,1120.9 1392.2,1120.9 1393.0,1120.9 1393.8,1120.9 1394.6,1121.0 1395.4,1121.0 1396.2,1121.1 1397.0,1121.1 1397.8,1121.1 1398.6,1121.1 1399.4,1121.0 1400.2,1120.9 1401.0,1120.8 1401.8,1120.6 1402.6,1120.4 1403.4,1120.2 1404.2,1120.1 1405.0,1120.0 1405.8,1120.0 1406.6,1120.0 1407.4,1120.0 1408.2,1119.9 1409.0,1119.8 1409.8,1119.6 1410.6,1119.3 1411.4,1118.9 1412.2,1118.5 1413.0,1118.1 1413.8,1117.4 1414.6,1116.6 1415.4,1115.4 1416.2,1114.0 1417.0,1112.3 1417.8,1110.4 1418.6,1108.4 1419.4,1106.3 1420.2,1104.4 1421.0,1102.8 1421.8,1101.5 1422.6,1100.8 1423.4,1100.8 1424.2,1101.3 1425.0,1102.3 1425.8,1103.8 1426.6,1105.6 1427.4,1107.5 1428.2,1109.4 1429.0,1111.2 1429.8,1112.9 1430.6,1114.4 1431.4,1115.7 1432.2,1116.9 1433.0,1117.9 1433.8,1118.7 1434.6,1119.3 1435.4,1119.7 1436.2,1119.9 1437.0,1120.1 1437.8,1120.0 1438.6,1119.9 1439.4,1119.6 1440.2,1119.0 1441.0,1118.1 1441.8,1116.6 1442.6,1113.8 1443.4,1108.4 1444.2,1099.1 1445.0,1084.8 1445.8,1066.6 1446.6,1049.1 1447.4,1040.4 1448.2,1046.2 1449.0,1061.8 1449.8,1079.6 1450.6,1094.5 1451.4,1105.1 1452.2,1111.5 1453.0,1115.1 1453.8,1117.1 1454.6,1118.2 1455.4,1118.9 1456.2,1119.4 1457.0,1119.6 1457.8,1119.8 1458.6,1119.8 1459.4,1119.9 1460.2,1120.0 1461.0,1120.1 1461.8,1120.3 1462.6,1120.4 1463.4,1120.5 1464.2,1120.5 1465.0,1120.5 1465.8,1120.4 1466.6,1120.3 1467.4,1120.2 1468.2,1120.2 1469.0,1120.3 1469.8,1120.5 1470.6,1120.7 1471.4,1120.9 1472.2,1121.2 1473.0,1121.4 1473.8,1121.5 1474.6,1121.6 1475.4,1121.5 1476.2,1121.3 1477.0,1121.2 1477.8,1121.0 1478.6,1120.9 1479.4,1120.9 1480.2,1120.9 1481.0,1121.0 1481.8,1121.0 1482.6,1120.9 1483.4,1120.8 1484.2,1120.7 1485.0,1120.5 1485.8,1120.4 1486.6,1120.2 1487.4,1120.1 1488.2,1120.1 1489.0,1120.1 1489.8,1120.2 1490.6,1120.3 1491.4,1120.4 1492.2,1120.4 1493.0,1120.3 1493.8,1120.1 1494.6,1119.8 1495.4,1119.5 1496.2,1119.1 1497.0,1118.6 1497.8,1118.2 1498.6,1117.7 1499.4,1117.3 1500.2,1116.8 1501.0,1116.3 1501.8,1115.7 1502.6,1115.1 1503.4,1114.5 1504.2,1113.9 1505.0,1113.2 1505.8,1112.5 1506.6,1111.7 1507.4,1111.0 1508.2,1110.3 1509.0,1109.6 1509.8,1109.0 1510.6,1108.4 1511.4,1107.9 1512.2,1107.6 1513.0,1107.3 1513.8,1107.6 1514.6,1108.9 1515.4,1110.7 1516.2,1112.5 1517.0,1114.4 1517.8,1116.0 1518.6,1117.5 1519.4,1118.7 1520.2,1119.6 1521.0,1120.5 1521.8,1121.1 1522.6,1121.7 1523.4,1122.1 1524.2,1122.4 1525.0,1122.7 1525.8,1122.8 1526.6,1123.0 1527.4,1123.2 1528.2,1123.4 1529.0,1123.5 1529.8,1123.7 1530.6,1123.8 1531.4,1123.9 1532.2,1123.9 1533.0,1123.9 1533.8,1123.9 1534.6,1124.0 1535.4,1124.1 1536.2,1124.4 1537.0,1124.7 1537.8,1125.0 1538.6,1125.3 1539.4,1125.6 1540.2,1125.9 1541.0,1126.0 1541.8,1126.1 1542.6,1126.1 1543.4,1126.1 1544.2,1126.0 1545.0,1126.0 1545.8,1125.9 1546.6,1126.0 1547.4,1126.0 1548.2,1126.1 1549.0,1126.3 1549.8,1126.4 1550.6,1126.6 1551.4,1126.7 1552.2,1126.8 1553.0,1126.9 1553.8,1126.9 1554.6,1126.9 1555.4,1126.8 1556.2,1126.8 1557.0,1126.8 1557.8,1126.7 1558.6,1126.8 1559.4,1126.8 1560.2,1126.6 1561.0,1126.3 1561.8,1126.0 1562.6,1125.6 1563.4,1124.8 1564.2,1124.1 1565.0,1123.3 1565.8,1122.7 1566.6,1122.1 1567.4,1122.6 1568.2,1123.1 1569.0,1123.5 1569.8,1123.9 1570.6,1136.1"/>
</g>
<g font-family="'Liberation Sans', Arial, sans-serif" font-weight="bold" font-size="55.7" text-anchor="middle" fill="#000" filter="url(#hard)" text-rendering="geometricPrecision">
<text transform="translate(1529.0,1320.7) scale(0.922,1)">500</text>
<text transform="translate(1321.0,1320.7) scale(0.922,1)">1000</text>
<text transform="translate(1113.0,1320.7) scale(0.922,1)">1500</text>
<text transform="translate(905.0,1320.7) scale(0.922,1)">2000</text>
<text transform="translate(697.0,1320.7) scale(0.922,1)">2500</text>
<text transform="translate(489.0,1320.7) scale(0.922,1)">3000</text>
<text transform="translate(281.0,1320.7) scale(0.922,1)">3500</text>
<text transform="translate(73.0,1320.7) scale(0.922,1)">4000</text>
</g>
<g font-family="'Liberation Sans', Arial, sans-serif" font-weight="bold" font-size="57.5" text-anchor="middle" fill="#000" filter="url(#hard)" text-rendering="geometricPrecision">
<text x="734.4" y="205.9">a</text>
<text x="737" y="318">b</text>
<text x="739" y="446.6">c</text>
<text x="735.8" y="577.5">d</text>
<text x="733.6" y="753.5">e</text>
<text x="733.5" y="846.2">f</text>
<text x="734.1" y="926.8">g</text>
<text x="731" y="1016.8">h</text>
<text x="729" y="1107">i</text>
</g>
<text transform="translate(598.5,1430.7) scale(0.9715,1)" font-family="'Liberation Serif', 'Times New Roman', serif" font-weight="bold" font-size="59.3" fill="#000" style="font-kerning:none" filter="url(#hard)" text-rendering="geometricPrecision">Wavenumber, cm</text>
<text transform="translate(1035.8,1398.9) scale(0.905,1)" font-family="'Liberation Serif', 'Times New Roman', serif" font-weight="bold" font-size="36.2" fill="#000" style="font-kerning:none" filter="url(#hard)" text-rendering="geometricPrecision">-1</text>
</svg>
</body></html>
